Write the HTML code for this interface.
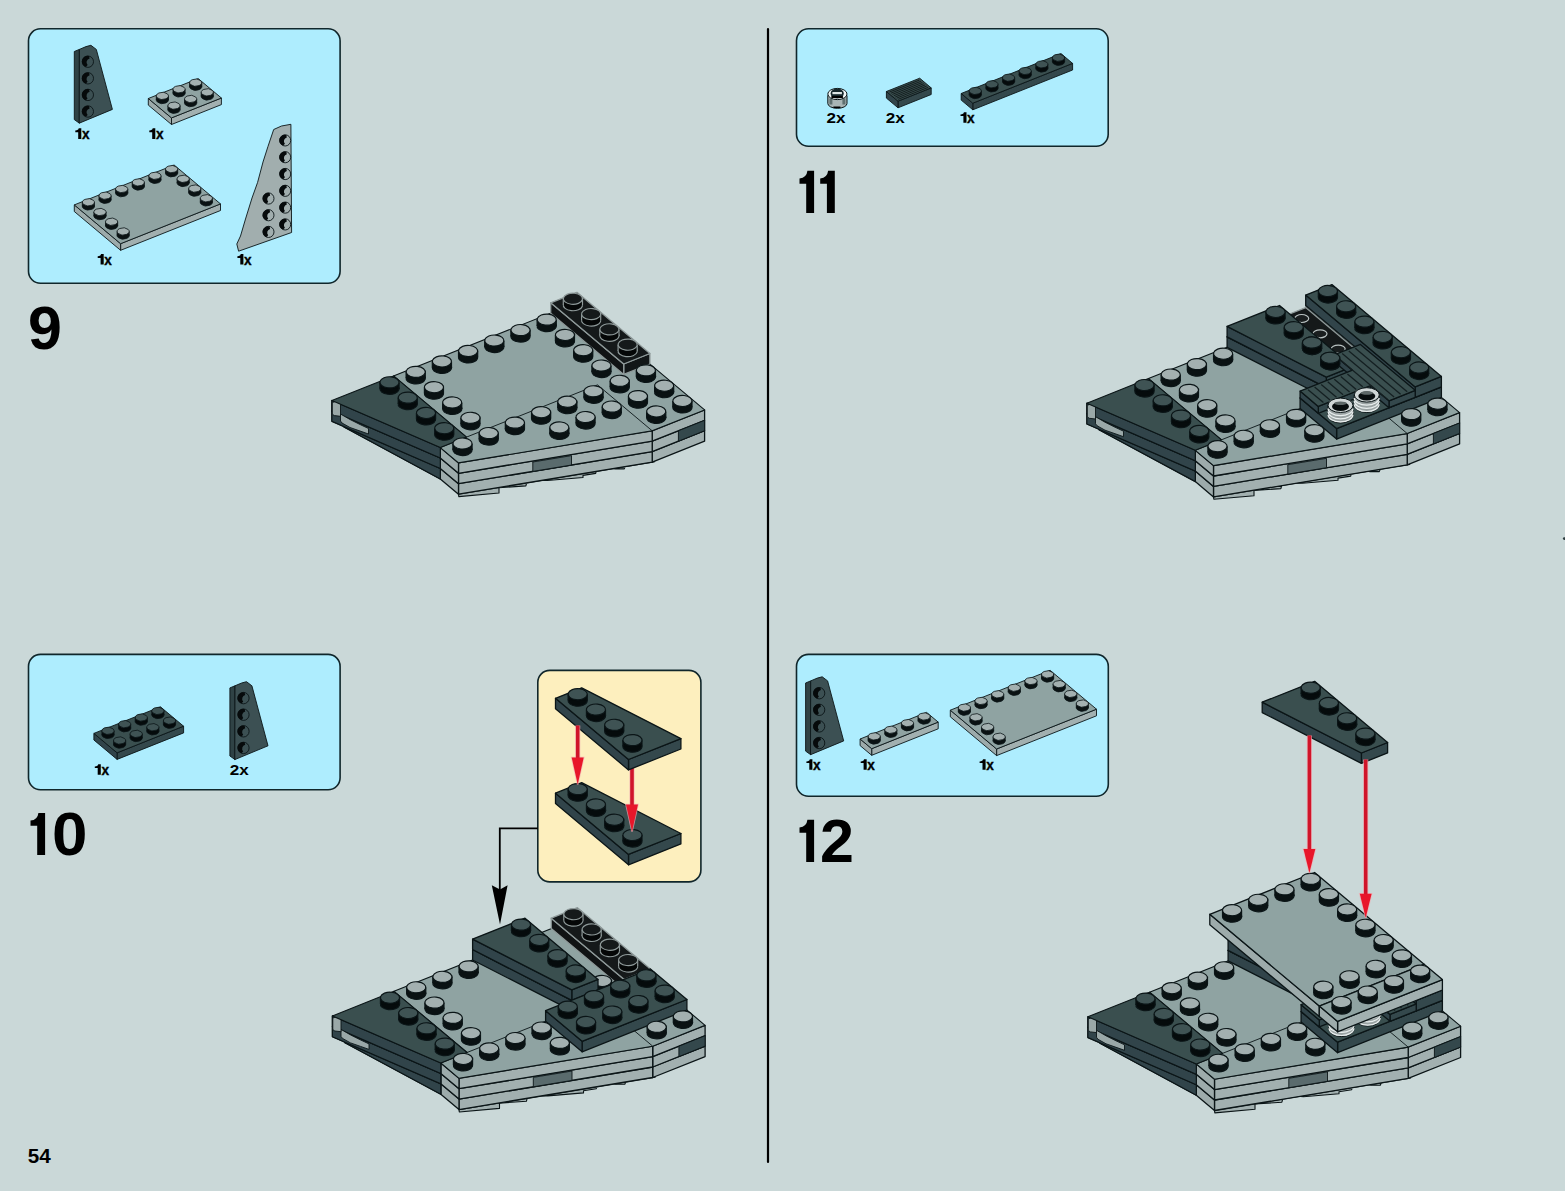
<!DOCTYPE html>
<html><head><meta charset="utf-8"><style>
html,body{margin:0;padding:0;background:#cad8d8;}
svg{display:block;}
text{font-family:"Liberation Sans",sans-serif;font-weight:bold;fill:#000;}
.lbl{font-size:14px;}
</style></head><body>
<svg width="1565" height="1191" viewBox="0 0 1565 1191">
<rect x="0" y="0" width="1565" height="1191" fill="#cad8d8"/>
<rect x="28.5" y="28.8" width="311.60" height="254.50" rx="12" ry="12" fill="#aeedfe" stroke="#10262b" stroke-width="1.6"/>
<rect x="28.5" y="654.4" width="311.60" height="135.40" rx="12" ry="12" fill="#aeedfe" stroke="#10262b" stroke-width="1.6"/>
<rect x="796.5" y="28.7" width="311.70" height="117.60" rx="12" ry="12" fill="#aeedfe" stroke="#10262b" stroke-width="1.6"/>
<rect x="796.5" y="654.4" width="311.80" height="141.90" rx="12" ry="12" fill="#aeedfe" stroke="#10262b" stroke-width="1.6"/>
<rect x="537.8" y="670.4" width="163.10" height="211.50" rx="12" ry="12" fill="#fdefbe" stroke="#10262b" stroke-width="1.6"/>
<line x1="768" y1="29" x2="768" y2="1162" stroke="#000" stroke-width="2.2" stroke-linecap="round"/>
<polyline points="537.8,828.4 499.8,828.4 499.8,895" fill="none" stroke="#000" stroke-width="1.8"/>
<polygon points="491.8,885.2 500,889.6 507.6,885.2 500,924.5" fill="#000"/>
<text x="28" y="349" font-size="61" text-anchor="start" class="big">9</text>
<path d="M814.10,170.80 L814.10,213.00 L806.20,213.00 L806.20,183.70 L799.50,183.70 L799.50,178.40 Q806.70,177.80 807.40,170.80 Z" fill="#000"/>
<path d="M834.80,170.80 L834.80,213.00 L826.90,213.00 L826.90,183.70 L820.20,183.70 L820.20,178.40 Q827.40,177.80 828.10,170.80 Z" fill="#000"/>
<path d="M45.10,812.90 L45.10,855.10 L37.20,855.10 L37.20,825.80 L30.50,825.80 L30.50,820.50 Q37.70,819.90 38.40,812.90 Z" fill="#000"/>
<text x="52" y="855.4" font-size="61" transform="translate(-2.4,0) scale(1.045,1)" class="big">0</text>
<path d="M814.10,819.80 L814.10,862.00 L806.20,862.00 L806.20,832.70 L799.50,832.70 L799.50,827.40 Q806.70,826.80 807.40,819.80 Z" fill="#000"/>
<text x="820" y="861.8" font-size="61" text-anchor="start" class="big">2</text>
<text x="27.8" y="1163.2" font-size="20.3" text-anchor="start" class="pg" textLength="23" lengthAdjust="spacingAndGlyphs">54</text>
<polygon points="652.2,462.1 654.7,461.7 644.0,463.5 627.0,462.6 624.3,468.9 615.3,468.9 597.5,466.2 595.7,473.4 583.0,475.4 583.0,477.5 547.4,480.5 527.7,478.7 525.9,485.9 499.0,487.7 499.0,493.0 458.8,496.6 458.5,494.2" fill="#a2b0b0" stroke="#0b1517" stroke-width="1.1" stroke-linejoin="round"/>
<polygon points="704.6,430.7 652.2,451.6 652.2,462.1 704.6,441.2" fill="#a2b0b0" stroke="#0b1517" stroke-width="1.3" stroke-linejoin="round"/>
<polygon points="652.2,451.6 458.5,483.7 458.5,494.2 652.2,462.1" fill="#a2b0b0" stroke="#0b1517" stroke-width="1.3" stroke-linejoin="round"/>
<polygon points="458.5,483.7 440.3,468.4 440.3,478.9 458.5,494.2" fill="#9dabab" stroke="#0b1517" stroke-width="1.3" stroke-linejoin="round"/>
<polygon points="440.3,468.4 344.0,416.5 344.0,427.0 440.3,478.9" fill="#9dabab" stroke="#0b1517" stroke-width="1.3" stroke-linejoin="round"/>
<polygon points="344.0,416.5 440.3,468.4 440.3,478.9 344.0,427.0" fill="#31444a" stroke="#0b1517" stroke-width="1.1" stroke-linejoin="round"/>
<polygon points="704.6,420.3 652.2,441.2 652.2,451.6 704.6,430.7" fill="#a2b0b0" stroke="#0b1517" stroke-width="1.3" stroke-linejoin="round"/>
<polygon points="652.2,441.2 458.5,473.3 458.5,483.7 652.2,451.6" fill="#a2b0b0" stroke="#0b1517" stroke-width="1.3" stroke-linejoin="round"/>
<polygon points="458.5,473.3 440.3,458.0 440.3,468.4 458.5,483.7" fill="#9dabab" stroke="#0b1517" stroke-width="1.3" stroke-linejoin="round"/>
<polygon points="440.3,458.0 331.9,410.9 331.9,421.3 440.3,468.4" fill="#9dabab" stroke="#0b1517" stroke-width="1.3" stroke-linejoin="round"/>
<polygon points="331.9,410.9 440.3,458.0 440.3,468.4 331.9,421.3" fill="#31444a" stroke="#0b1517" stroke-width="1.1" stroke-linejoin="round"/>
<polygon points="704.6,409.9 652.2,430.8 652.2,441.2 704.6,420.3" fill="#a2b0b0" stroke="#0b1517" stroke-width="1.3" stroke-linejoin="round"/>
<polygon points="652.2,430.8 458.5,462.9 458.5,473.3 652.2,441.2" fill="#a2b0b0" stroke="#0b1517" stroke-width="1.3" stroke-linejoin="round"/>
<polygon points="458.5,462.9 440.3,447.6 440.3,458.0 458.5,473.3" fill="#9dabab" stroke="#0b1517" stroke-width="1.3" stroke-linejoin="round"/>
<polygon points="440.3,447.6 331.9,400.5 331.9,410.9 440.3,458.0" fill="#9dabab" stroke="#0b1517" stroke-width="1.3" stroke-linejoin="round"/>
<polygon points="331.9,400.5 440.3,447.6 440.3,458.0 331.9,410.9" fill="#31444a" stroke="#0b1517" stroke-width="1.1" stroke-linejoin="round"/>
<polygon points="532.8,462.0 571.5,455.6 571.5,465.0 532.8,471.4" fill="#5a6b6d" stroke="#0b1517" stroke-width="0.9" stroke-linejoin="round"/>
<polygon points="678.4,430.8 704.6,420.3 704.6,430.7 678.4,441.2" fill="#34484c" stroke="#0b1517" stroke-width="0.9" stroke-linejoin="round"/>
<polygon points="340.5,414.0 350.0,419.5 360.0,424.5 368.5,428.5 368.5,434.0 360.0,431.0 350.0,427.5 342.0,423.0 340.5,421.0" fill="#9aa8a8" stroke="#0b1517" stroke-width="0.9" stroke-linejoin="round"/>
<polygon points="332.3,402.6 336.0,401.2 340.5,403.5 340.5,416.3 334.3,415.6 332.3,414.2" fill="#9aa8a8" stroke="#0b1517" stroke-width="0.9" stroke-linejoin="round"/>
<polygon points="393.5,375.9 576.9,302.8 704.6,409.9 652.2,430.8 458.5,462.9 440.3,447.6 466.5,437.1" fill="#8fa3a2" stroke="#0b1517" stroke-width="1.1" stroke-linejoin="round"/>
<polygon points="331.9,400.5 393.5,375.9 466.5,437.1 440.3,447.6" fill="#3a4f4f" stroke="#0b1517" stroke-width="1.1" stroke-linejoin="round"/>
<line x1="466.5" y1="437.1" x2="597.5" y2="384.9" stroke="#0b1517" stroke-width="0.9"/>
<line x1="597.5" y1="384.9" x2="652.2" y2="430.8" stroke="#0b1517" stroke-width="0.9"/>
<circle r="1" transform="matrix(7.860,-3.135,5.475,4.590,389.50,388.80)" fill="#050b0c" stroke="#0b1517" stroke-width="1.1700000000000002" vector-effect="non-scaling-stroke"/>
<polygon points="379.9,382.3 399.1,382.4 399.1,388.9 379.9,388.7" fill="#050b0c"/>
<line x1="399.1" y1="382.4" x2="399.1" y2="388.9" stroke="#0b1517" stroke-width="1.1700000000000002"/>
<line x1="379.9" y1="382.3" x2="379.9" y2="388.7" stroke="#0b1517" stroke-width="1.1700000000000002"/>
<circle r="1" transform="matrix(7.860,-3.135,5.475,4.590,389.50,382.33)" fill="#3f5354" stroke="#0b1517" stroke-width="1.1700000000000002" vector-effect="non-scaling-stroke"/>
<circle r="1" transform="matrix(7.860,-3.135,5.475,4.590,407.75,404.10)" fill="#050b0c" stroke="#0b1517" stroke-width="1.1700000000000002" vector-effect="non-scaling-stroke"/>
<polygon points="398.2,397.6 417.3,397.7 417.3,404.2 398.2,404.0" fill="#050b0c"/>
<line x1="417.3" y1="397.7" x2="417.3" y2="404.2" stroke="#0b1517" stroke-width="1.1700000000000002"/>
<line x1="398.2" y1="397.6" x2="398.2" y2="404.0" stroke="#0b1517" stroke-width="1.1700000000000002"/>
<circle r="1" transform="matrix(7.860,-3.135,5.475,4.590,407.75,397.63)" fill="#3f5354" stroke="#0b1517" stroke-width="1.1700000000000002" vector-effect="non-scaling-stroke"/>
<circle r="1" transform="matrix(7.860,-3.135,5.475,4.590,426.00,419.40)" fill="#050b0c" stroke="#0b1517" stroke-width="1.1700000000000002" vector-effect="non-scaling-stroke"/>
<polygon points="416.4,412.9 435.6,413.0 435.6,419.5 416.4,419.3" fill="#050b0c"/>
<line x1="435.6" y1="413.0" x2="435.6" y2="419.5" stroke="#0b1517" stroke-width="1.1700000000000002"/>
<line x1="416.4" y1="412.9" x2="416.4" y2="419.3" stroke="#0b1517" stroke-width="1.1700000000000002"/>
<circle r="1" transform="matrix(7.860,-3.135,5.475,4.590,426.00,412.93)" fill="#3f5354" stroke="#0b1517" stroke-width="1.1700000000000002" vector-effect="non-scaling-stroke"/>
<circle r="1" transform="matrix(7.860,-3.135,5.475,4.590,444.25,434.70)" fill="#050b0c" stroke="#0b1517" stroke-width="1.1700000000000002" vector-effect="non-scaling-stroke"/>
<polygon points="434.7,428.2 453.8,428.3 453.8,434.8 434.7,434.6" fill="#050b0c"/>
<line x1="453.8" y1="428.3" x2="453.8" y2="434.8" stroke="#0b1517" stroke-width="1.1700000000000002"/>
<line x1="434.7" y1="428.2" x2="434.7" y2="434.6" stroke="#0b1517" stroke-width="1.1700000000000002"/>
<circle r="1" transform="matrix(7.860,-3.135,5.475,4.590,444.25,428.23)" fill="#3f5354" stroke="#0b1517" stroke-width="1.1700000000000002" vector-effect="non-scaling-stroke"/>
<polygon points="649.9,353.5 623.7,364.0 623.7,374.4 649.9,364.0" fill="#121617" stroke="#8f9a9a" stroke-width="1.3" stroke-linejoin="round"/>
<polygon points="623.7,364.0 550.7,302.8 550.7,313.2 623.7,374.4" fill="#101314" stroke="#8f9a9a" stroke-width="1.3" stroke-linejoin="round"/>
<polygon points="550.7,302.8 576.9,292.3 649.9,353.5 623.7,364.0" fill="#15191a" stroke="#8f9a9a" stroke-width="1.3" stroke-linejoin="round"/>
<circle r="1" transform="matrix(7.860,-3.135,5.475,4.590,572.90,305.22)" fill="#050707" stroke="#8f9a9a" stroke-width="1.1700000000000002" vector-effect="non-scaling-stroke"/>
<polygon points="563.3,298.7 582.5,298.8 582.5,305.3 563.3,305.2" fill="#050707"/>
<line x1="582.5" y1="298.8" x2="582.5" y2="305.3" stroke="#8f9a9a" stroke-width="1.1700000000000002"/>
<line x1="563.3" y1="298.7" x2="563.3" y2="305.2" stroke="#8f9a9a" stroke-width="1.1700000000000002"/>
<circle r="1" transform="matrix(7.860,-3.135,5.475,4.590,572.90,298.75)" fill="#15191a" stroke="#8f9a9a" stroke-width="1.1700000000000002" vector-effect="non-scaling-stroke"/>
<circle r="1" transform="matrix(7.860,-3.135,5.475,4.590,591.15,320.52)" fill="#050707" stroke="#8f9a9a" stroke-width="1.1700000000000002" vector-effect="non-scaling-stroke"/>
<polygon points="581.6,314.0 600.7,314.1 600.7,320.6 581.6,320.5" fill="#050707"/>
<line x1="600.7" y1="314.1" x2="600.7" y2="320.6" stroke="#8f9a9a" stroke-width="1.1700000000000002"/>
<line x1="581.6" y1="314.0" x2="581.6" y2="320.5" stroke="#8f9a9a" stroke-width="1.1700000000000002"/>
<circle r="1" transform="matrix(7.860,-3.135,5.475,4.590,591.15,314.05)" fill="#15191a" stroke="#8f9a9a" stroke-width="1.1700000000000002" vector-effect="non-scaling-stroke"/>
<circle r="1" transform="matrix(7.860,-3.135,5.475,4.590,609.40,335.82)" fill="#050707" stroke="#8f9a9a" stroke-width="1.1700000000000002" vector-effect="non-scaling-stroke"/>
<polygon points="599.8,329.3 619.0,329.4 619.0,335.9 599.8,335.8" fill="#050707"/>
<line x1="619.0" y1="329.4" x2="619.0" y2="335.9" stroke="#8f9a9a" stroke-width="1.1700000000000002"/>
<line x1="599.8" y1="329.3" x2="599.8" y2="335.8" stroke="#8f9a9a" stroke-width="1.1700000000000002"/>
<circle r="1" transform="matrix(7.860,-3.135,5.475,4.590,609.40,329.35)" fill="#15191a" stroke="#8f9a9a" stroke-width="1.1700000000000002" vector-effect="non-scaling-stroke"/>
<circle r="1" transform="matrix(7.860,-3.135,5.475,4.590,627.65,351.12)" fill="#050707" stroke="#8f9a9a" stroke-width="1.1700000000000002" vector-effect="non-scaling-stroke"/>
<polygon points="618.1,344.6 637.2,344.7 637.2,351.2 618.1,351.1" fill="#050707"/>
<line x1="637.2" y1="344.7" x2="637.2" y2="351.2" stroke="#8f9a9a" stroke-width="1.1700000000000002"/>
<line x1="618.1" y1="344.6" x2="618.1" y2="351.1" stroke="#8f9a9a" stroke-width="1.1700000000000002"/>
<circle r="1" transform="matrix(7.860,-3.135,5.475,4.590,627.65,344.65)" fill="#15191a" stroke="#8f9a9a" stroke-width="1.1700000000000002" vector-effect="non-scaling-stroke"/>
<circle r="1" transform="matrix(7.860,-3.135,5.475,4.590,546.70,326.10)" fill="#0a1213" stroke="#0b1517" stroke-width="1.1700000000000002" vector-effect="non-scaling-stroke"/>
<polygon points="537.1,319.6 556.3,319.7 556.3,326.2 537.1,326.0" fill="#0a1213"/>
<line x1="556.3" y1="319.7" x2="556.3" y2="326.2" stroke="#0b1517" stroke-width="1.1700000000000002"/>
<line x1="537.1" y1="319.6" x2="537.1" y2="326.0" stroke="#0b1517" stroke-width="1.1700000000000002"/>
<circle r="1" transform="matrix(7.860,-3.135,5.475,4.590,546.70,319.63)" fill="#a3b0b0" stroke="#0b1517" stroke-width="1.1700000000000002" vector-effect="non-scaling-stroke"/>
<circle r="1" transform="matrix(7.860,-3.135,5.475,4.590,520.50,336.55)" fill="#0a1213" stroke="#0b1517" stroke-width="1.1700000000000002" vector-effect="non-scaling-stroke"/>
<polygon points="510.9,330.0 530.1,330.1 530.1,336.6 510.9,336.5" fill="#0a1213"/>
<line x1="530.1" y1="330.1" x2="530.1" y2="336.6" stroke="#0b1517" stroke-width="1.1700000000000002"/>
<line x1="510.9" y1="330.0" x2="510.9" y2="336.5" stroke="#0b1517" stroke-width="1.1700000000000002"/>
<circle r="1" transform="matrix(7.860,-3.135,5.475,4.590,520.50,330.08)" fill="#a3b0b0" stroke="#0b1517" stroke-width="1.1700000000000002" vector-effect="non-scaling-stroke"/>
<circle r="1" transform="matrix(7.860,-3.135,5.475,4.590,564.95,341.40)" fill="#0a1213" stroke="#0b1517" stroke-width="1.1700000000000002" vector-effect="non-scaling-stroke"/>
<polygon points="555.4,334.9 574.5,335.0 574.5,341.5 555.4,341.3" fill="#0a1213"/>
<line x1="574.5" y1="335.0" x2="574.5" y2="341.5" stroke="#0b1517" stroke-width="1.1700000000000002"/>
<line x1="555.4" y1="334.9" x2="555.4" y2="341.3" stroke="#0b1517" stroke-width="1.1700000000000002"/>
<circle r="1" transform="matrix(7.860,-3.135,5.475,4.590,564.95,334.93)" fill="#a3b0b0" stroke="#0b1517" stroke-width="1.1700000000000002" vector-effect="non-scaling-stroke"/>
<circle r="1" transform="matrix(7.860,-3.135,5.475,4.590,494.30,347.00)" fill="#0a1213" stroke="#0b1517" stroke-width="1.1700000000000002" vector-effect="non-scaling-stroke"/>
<polygon points="484.7,340.5 503.9,340.6 503.9,347.1 484.7,346.9" fill="#0a1213"/>
<line x1="503.9" y1="340.6" x2="503.9" y2="347.1" stroke="#0b1517" stroke-width="1.1700000000000002"/>
<line x1="484.7" y1="340.5" x2="484.7" y2="346.9" stroke="#0b1517" stroke-width="1.1700000000000002"/>
<circle r="1" transform="matrix(7.860,-3.135,5.475,4.590,494.30,340.53)" fill="#a3b0b0" stroke="#0b1517" stroke-width="1.1700000000000002" vector-effect="non-scaling-stroke"/>
<circle r="1" transform="matrix(7.860,-3.135,5.475,4.590,583.20,356.70)" fill="#0a1213" stroke="#0b1517" stroke-width="1.1700000000000002" vector-effect="non-scaling-stroke"/>
<polygon points="573.6,350.2 592.8,350.3 592.8,356.8 573.6,356.6" fill="#0a1213"/>
<line x1="592.8" y1="350.3" x2="592.8" y2="356.8" stroke="#0b1517" stroke-width="1.1700000000000002"/>
<line x1="573.6" y1="350.2" x2="573.6" y2="356.6" stroke="#0b1517" stroke-width="1.1700000000000002"/>
<circle r="1" transform="matrix(7.860,-3.135,5.475,4.590,583.20,350.23)" fill="#a3b0b0" stroke="#0b1517" stroke-width="1.1700000000000002" vector-effect="non-scaling-stroke"/>
<circle r="1" transform="matrix(7.860,-3.135,5.475,4.590,468.10,357.45)" fill="#0a1213" stroke="#0b1517" stroke-width="1.1700000000000002" vector-effect="non-scaling-stroke"/>
<polygon points="458.5,350.9 477.7,351.0 477.7,357.5 458.5,357.4" fill="#0a1213"/>
<line x1="477.7" y1="351.0" x2="477.7" y2="357.5" stroke="#0b1517" stroke-width="1.1700000000000002"/>
<line x1="458.5" y1="350.9" x2="458.5" y2="357.4" stroke="#0b1517" stroke-width="1.1700000000000002"/>
<circle r="1" transform="matrix(7.860,-3.135,5.475,4.590,468.10,350.98)" fill="#a3b0b0" stroke="#0b1517" stroke-width="1.1700000000000002" vector-effect="non-scaling-stroke"/>
<circle r="1" transform="matrix(7.860,-3.135,5.475,4.590,441.90,367.90)" fill="#0a1213" stroke="#0b1517" stroke-width="1.1700000000000002" vector-effect="non-scaling-stroke"/>
<polygon points="432.3,361.4 451.5,361.5 451.5,368.0 432.3,367.8" fill="#0a1213"/>
<line x1="451.5" y1="361.5" x2="451.5" y2="368.0" stroke="#0b1517" stroke-width="1.1700000000000002"/>
<line x1="432.3" y1="361.4" x2="432.3" y2="367.8" stroke="#0b1517" stroke-width="1.1700000000000002"/>
<circle r="1" transform="matrix(7.860,-3.135,5.475,4.590,441.90,361.43)" fill="#a3b0b0" stroke="#0b1517" stroke-width="1.1700000000000002" vector-effect="non-scaling-stroke"/>
<circle r="1" transform="matrix(7.860,-3.135,5.475,4.590,601.45,372.00)" fill="#0a1213" stroke="#0b1517" stroke-width="1.1700000000000002" vector-effect="non-scaling-stroke"/>
<polygon points="591.9,365.5 611.0,365.6 611.0,372.1 591.9,371.9" fill="#0a1213"/>
<line x1="611.0" y1="365.6" x2="611.0" y2="372.1" stroke="#0b1517" stroke-width="1.1700000000000002"/>
<line x1="591.9" y1="365.5" x2="591.9" y2="371.9" stroke="#0b1517" stroke-width="1.1700000000000002"/>
<circle r="1" transform="matrix(7.860,-3.135,5.475,4.590,601.45,365.53)" fill="#a3b0b0" stroke="#0b1517" stroke-width="1.1700000000000002" vector-effect="non-scaling-stroke"/>
<circle r="1" transform="matrix(7.860,-3.135,5.475,4.590,645.90,376.85)" fill="#0a1213" stroke="#0b1517" stroke-width="1.1700000000000002" vector-effect="non-scaling-stroke"/>
<polygon points="636.3,370.3 655.5,370.4 655.5,376.9 636.3,376.8" fill="#0a1213"/>
<line x1="655.5" y1="370.4" x2="655.5" y2="376.9" stroke="#0b1517" stroke-width="1.1700000000000002"/>
<line x1="636.3" y1="370.3" x2="636.3" y2="376.8" stroke="#0b1517" stroke-width="1.1700000000000002"/>
<circle r="1" transform="matrix(7.860,-3.135,5.475,4.590,645.90,370.38)" fill="#a3b0b0" stroke="#0b1517" stroke-width="1.1700000000000002" vector-effect="non-scaling-stroke"/>
<circle r="1" transform="matrix(7.860,-3.135,5.475,4.590,415.70,378.35)" fill="#0a1213" stroke="#0b1517" stroke-width="1.1700000000000002" vector-effect="non-scaling-stroke"/>
<polygon points="406.1,371.8 425.3,371.9 425.3,378.4 406.1,378.3" fill="#0a1213"/>
<line x1="425.3" y1="371.9" x2="425.3" y2="378.4" stroke="#0b1517" stroke-width="1.1700000000000002"/>
<line x1="406.1" y1="371.8" x2="406.1" y2="378.3" stroke="#0b1517" stroke-width="1.1700000000000002"/>
<circle r="1" transform="matrix(7.860,-3.135,5.475,4.590,415.70,371.88)" fill="#a3b0b0" stroke="#0b1517" stroke-width="1.1700000000000002" vector-effect="non-scaling-stroke"/>
<circle r="1" transform="matrix(7.860,-3.135,5.475,4.590,619.70,387.30)" fill="#0a1213" stroke="#0b1517" stroke-width="1.1700000000000002" vector-effect="non-scaling-stroke"/>
<polygon points="610.1,380.8 629.3,380.9 629.3,387.4 610.1,387.2" fill="#0a1213"/>
<line x1="629.3" y1="380.9" x2="629.3" y2="387.4" stroke="#0b1517" stroke-width="1.1700000000000002"/>
<line x1="610.1" y1="380.8" x2="610.1" y2="387.2" stroke="#0b1517" stroke-width="1.1700000000000002"/>
<circle r="1" transform="matrix(7.860,-3.135,5.475,4.590,619.70,380.83)" fill="#a3b0b0" stroke="#0b1517" stroke-width="1.1700000000000002" vector-effect="non-scaling-stroke"/>
<circle r="1" transform="matrix(7.860,-3.135,5.475,4.590,664.15,392.15)" fill="#0a1213" stroke="#0b1517" stroke-width="1.1700000000000002" vector-effect="non-scaling-stroke"/>
<polygon points="654.6,385.6 673.7,385.7 673.7,392.2 654.6,392.1" fill="#0a1213"/>
<line x1="673.7" y1="385.7" x2="673.7" y2="392.2" stroke="#0b1517" stroke-width="1.1700000000000002"/>
<line x1="654.6" y1="385.6" x2="654.6" y2="392.1" stroke="#0b1517" stroke-width="1.1700000000000002"/>
<circle r="1" transform="matrix(7.860,-3.135,5.475,4.590,664.15,385.68)" fill="#a3b0b0" stroke="#0b1517" stroke-width="1.1700000000000002" vector-effect="non-scaling-stroke"/>
<circle r="1" transform="matrix(7.860,-3.135,5.475,4.590,433.95,393.65)" fill="#0a1213" stroke="#0b1517" stroke-width="1.1700000000000002" vector-effect="non-scaling-stroke"/>
<polygon points="424.4,387.1 443.5,387.2 443.5,393.7 424.4,393.6" fill="#0a1213"/>
<line x1="443.5" y1="387.2" x2="443.5" y2="393.7" stroke="#0b1517" stroke-width="1.1700000000000002"/>
<line x1="424.4" y1="387.1" x2="424.4" y2="393.6" stroke="#0b1517" stroke-width="1.1700000000000002"/>
<circle r="1" transform="matrix(7.860,-3.135,5.475,4.590,433.95,387.18)" fill="#a3b0b0" stroke="#0b1517" stroke-width="1.1700000000000002" vector-effect="non-scaling-stroke"/>
<circle r="1" transform="matrix(7.860,-3.135,5.475,4.590,593.50,397.75)" fill="#0a1213" stroke="#0b1517" stroke-width="1.1700000000000002" vector-effect="non-scaling-stroke"/>
<polygon points="583.9,391.2 603.1,391.3 603.1,397.8 583.9,397.7" fill="#0a1213"/>
<line x1="603.1" y1="391.3" x2="603.1" y2="397.8" stroke="#0b1517" stroke-width="1.1700000000000002"/>
<line x1="583.9" y1="391.2" x2="583.9" y2="397.7" stroke="#0b1517" stroke-width="1.1700000000000002"/>
<circle r="1" transform="matrix(7.860,-3.135,5.475,4.590,593.50,391.28)" fill="#a3b0b0" stroke="#0b1517" stroke-width="1.1700000000000002" vector-effect="non-scaling-stroke"/>
<circle r="1" transform="matrix(7.860,-3.135,5.475,4.590,637.95,402.60)" fill="#0a1213" stroke="#0b1517" stroke-width="1.1700000000000002" vector-effect="non-scaling-stroke"/>
<polygon points="628.4,396.1 647.5,396.2 647.5,402.7 628.4,402.5" fill="#0a1213"/>
<line x1="647.5" y1="396.2" x2="647.5" y2="402.7" stroke="#0b1517" stroke-width="1.1700000000000002"/>
<line x1="628.4" y1="396.1" x2="628.4" y2="402.5" stroke="#0b1517" stroke-width="1.1700000000000002"/>
<circle r="1" transform="matrix(7.860,-3.135,5.475,4.590,637.95,396.13)" fill="#a3b0b0" stroke="#0b1517" stroke-width="1.1700000000000002" vector-effect="non-scaling-stroke"/>
<circle r="1" transform="matrix(7.860,-3.135,5.475,4.590,682.40,407.45)" fill="#0a1213" stroke="#0b1517" stroke-width="1.1700000000000002" vector-effect="non-scaling-stroke"/>
<polygon points="672.8,400.9 692.0,401.0 692.0,407.5 672.8,407.4" fill="#0a1213"/>
<line x1="692.0" y1="401.0" x2="692.0" y2="407.5" stroke="#0b1517" stroke-width="1.1700000000000002"/>
<line x1="672.8" y1="400.9" x2="672.8" y2="407.4" stroke="#0b1517" stroke-width="1.1700000000000002"/>
<circle r="1" transform="matrix(7.860,-3.135,5.475,4.590,682.40,400.98)" fill="#a3b0b0" stroke="#0b1517" stroke-width="1.1700000000000002" vector-effect="non-scaling-stroke"/>
<circle r="1" transform="matrix(7.860,-3.135,5.475,4.590,567.30,408.20)" fill="#0a1213" stroke="#0b1517" stroke-width="1.1700000000000002" vector-effect="non-scaling-stroke"/>
<polygon points="557.7,401.7 576.9,401.8 576.9,408.3 557.7,408.1" fill="#0a1213"/>
<line x1="576.9" y1="401.8" x2="576.9" y2="408.3" stroke="#0b1517" stroke-width="1.1700000000000002"/>
<line x1="557.7" y1="401.7" x2="557.7" y2="408.1" stroke="#0b1517" stroke-width="1.1700000000000002"/>
<circle r="1" transform="matrix(7.860,-3.135,5.475,4.590,567.30,401.73)" fill="#a3b0b0" stroke="#0b1517" stroke-width="1.1700000000000002" vector-effect="non-scaling-stroke"/>
<circle r="1" transform="matrix(7.860,-3.135,5.475,4.590,452.20,408.95)" fill="#0a1213" stroke="#0b1517" stroke-width="1.1700000000000002" vector-effect="non-scaling-stroke"/>
<polygon points="442.6,402.4 461.8,402.5 461.8,409.0 442.6,408.9" fill="#0a1213"/>
<line x1="461.8" y1="402.5" x2="461.8" y2="409.0" stroke="#0b1517" stroke-width="1.1700000000000002"/>
<line x1="442.6" y1="402.4" x2="442.6" y2="408.9" stroke="#0b1517" stroke-width="1.1700000000000002"/>
<circle r="1" transform="matrix(7.860,-3.135,5.475,4.590,452.20,402.48)" fill="#a3b0b0" stroke="#0b1517" stroke-width="1.1700000000000002" vector-effect="non-scaling-stroke"/>
<circle r="1" transform="matrix(7.860,-3.135,5.475,4.590,611.75,413.05)" fill="#0a1213" stroke="#0b1517" stroke-width="1.1700000000000002" vector-effect="non-scaling-stroke"/>
<polygon points="602.2,406.5 621.3,406.6 621.3,413.1 602.2,413.0" fill="#0a1213"/>
<line x1="621.3" y1="406.6" x2="621.3" y2="413.1" stroke="#0b1517" stroke-width="1.1700000000000002"/>
<line x1="602.2" y1="406.5" x2="602.2" y2="413.0" stroke="#0b1517" stroke-width="1.1700000000000002"/>
<circle r="1" transform="matrix(7.860,-3.135,5.475,4.590,611.75,406.58)" fill="#a3b0b0" stroke="#0b1517" stroke-width="1.1700000000000002" vector-effect="non-scaling-stroke"/>
<circle r="1" transform="matrix(7.860,-3.135,5.475,4.590,656.20,417.90)" fill="#0a1213" stroke="#0b1517" stroke-width="1.1700000000000002" vector-effect="non-scaling-stroke"/>
<polygon points="646.6,411.4 665.8,411.5 665.8,418.0 646.6,417.8" fill="#0a1213"/>
<line x1="665.8" y1="411.5" x2="665.8" y2="418.0" stroke="#0b1517" stroke-width="1.1700000000000002"/>
<line x1="646.6" y1="411.4" x2="646.6" y2="417.8" stroke="#0b1517" stroke-width="1.1700000000000002"/>
<circle r="1" transform="matrix(7.860,-3.135,5.475,4.590,656.20,411.43)" fill="#a3b0b0" stroke="#0b1517" stroke-width="1.1700000000000002" vector-effect="non-scaling-stroke"/>
<circle r="1" transform="matrix(7.860,-3.135,5.475,4.590,541.10,418.65)" fill="#0a1213" stroke="#0b1517" stroke-width="1.1700000000000002" vector-effect="non-scaling-stroke"/>
<polygon points="531.5,412.1 550.7,412.2 550.7,418.7 531.5,418.6" fill="#0a1213"/>
<line x1="550.7" y1="412.2" x2="550.7" y2="418.7" stroke="#0b1517" stroke-width="1.1700000000000002"/>
<line x1="531.5" y1="412.1" x2="531.5" y2="418.6" stroke="#0b1517" stroke-width="1.1700000000000002"/>
<circle r="1" transform="matrix(7.860,-3.135,5.475,4.590,541.10,412.18)" fill="#a3b0b0" stroke="#0b1517" stroke-width="1.1700000000000002" vector-effect="non-scaling-stroke"/>
<circle r="1" transform="matrix(7.860,-3.135,5.475,4.590,585.55,423.50)" fill="#0a1213" stroke="#0b1517" stroke-width="1.1700000000000002" vector-effect="non-scaling-stroke"/>
<polygon points="576.0,417.0 595.1,417.1 595.1,423.6 576.0,423.4" fill="#0a1213"/>
<line x1="595.1" y1="417.1" x2="595.1" y2="423.6" stroke="#0b1517" stroke-width="1.1700000000000002"/>
<line x1="576.0" y1="417.0" x2="576.0" y2="423.4" stroke="#0b1517" stroke-width="1.1700000000000002"/>
<circle r="1" transform="matrix(7.860,-3.135,5.475,4.590,585.55,417.03)" fill="#a3b0b0" stroke="#0b1517" stroke-width="1.1700000000000002" vector-effect="non-scaling-stroke"/>
<circle r="1" transform="matrix(7.860,-3.135,5.475,4.590,470.45,424.25)" fill="#0a1213" stroke="#0b1517" stroke-width="1.1700000000000002" vector-effect="non-scaling-stroke"/>
<polygon points="460.9,417.7 480.0,417.8 480.0,424.3 460.9,424.2" fill="#0a1213"/>
<line x1="480.0" y1="417.8" x2="480.0" y2="424.3" stroke="#0b1517" stroke-width="1.1700000000000002"/>
<line x1="460.9" y1="417.7" x2="460.9" y2="424.2" stroke="#0b1517" stroke-width="1.1700000000000002"/>
<circle r="1" transform="matrix(7.860,-3.135,5.475,4.590,470.45,417.78)" fill="#a3b0b0" stroke="#0b1517" stroke-width="1.1700000000000002" vector-effect="non-scaling-stroke"/>
<circle r="1" transform="matrix(7.860,-3.135,5.475,4.590,514.90,429.10)" fill="#0a1213" stroke="#0b1517" stroke-width="1.1700000000000002" vector-effect="non-scaling-stroke"/>
<polygon points="505.3,422.6 524.5,422.7 524.5,429.2 505.3,429.0" fill="#0a1213"/>
<line x1="524.5" y1="422.7" x2="524.5" y2="429.2" stroke="#0b1517" stroke-width="1.1700000000000002"/>
<line x1="505.3" y1="422.6" x2="505.3" y2="429.0" stroke="#0b1517" stroke-width="1.1700000000000002"/>
<circle r="1" transform="matrix(7.860,-3.135,5.475,4.590,514.90,422.63)" fill="#a3b0b0" stroke="#0b1517" stroke-width="1.1700000000000002" vector-effect="non-scaling-stroke"/>
<circle r="1" transform="matrix(7.860,-3.135,5.475,4.590,559.35,433.95)" fill="#0a1213" stroke="#0b1517" stroke-width="1.1700000000000002" vector-effect="non-scaling-stroke"/>
<polygon points="549.8,427.4 568.9,427.5 568.9,434.0 549.8,433.9" fill="#0a1213"/>
<line x1="568.9" y1="427.5" x2="568.9" y2="434.0" stroke="#0b1517" stroke-width="1.1700000000000002"/>
<line x1="549.8" y1="427.4" x2="549.8" y2="433.9" stroke="#0b1517" stroke-width="1.1700000000000002"/>
<circle r="1" transform="matrix(7.860,-3.135,5.475,4.590,559.35,427.48)" fill="#a3b0b0" stroke="#0b1517" stroke-width="1.1700000000000002" vector-effect="non-scaling-stroke"/>
<circle r="1" transform="matrix(7.860,-3.135,5.475,4.590,488.70,439.55)" fill="#0a1213" stroke="#0b1517" stroke-width="1.1700000000000002" vector-effect="non-scaling-stroke"/>
<polygon points="479.1,433.0 498.3,433.1 498.3,439.6 479.1,439.5" fill="#0a1213"/>
<line x1="498.3" y1="433.1" x2="498.3" y2="439.6" stroke="#0b1517" stroke-width="1.1700000000000002"/>
<line x1="479.1" y1="433.0" x2="479.1" y2="439.5" stroke="#0b1517" stroke-width="1.1700000000000002"/>
<circle r="1" transform="matrix(7.860,-3.135,5.475,4.590,488.70,433.08)" fill="#a3b0b0" stroke="#0b1517" stroke-width="1.1700000000000002" vector-effect="non-scaling-stroke"/>
<circle r="1" transform="matrix(7.860,-3.135,5.475,4.590,462.50,450.00)" fill="#0a1213" stroke="#0b1517" stroke-width="1.1700000000000002" vector-effect="non-scaling-stroke"/>
<polygon points="452.9,443.5 472.1,443.6 472.1,450.1 452.9,449.9" fill="#0a1213"/>
<line x1="472.1" y1="443.6" x2="472.1" y2="450.1" stroke="#0b1517" stroke-width="1.1700000000000002"/>
<line x1="452.9" y1="443.5" x2="452.9" y2="449.9" stroke="#0b1517" stroke-width="1.1700000000000002"/>
<circle r="1" transform="matrix(7.860,-3.135,5.475,4.590,462.50,443.53)" fill="#a3b0b0" stroke="#0b1517" stroke-width="1.1700000000000002" vector-effect="non-scaling-stroke"/>
<polygon points="652.7,1077.5 655.2,1077.1 644.5,1078.9 627.5,1078.0 624.8,1084.3 615.8,1084.3 598.0,1081.6 596.2,1088.8 583.5,1090.8 583.5,1092.9 547.9,1095.9 528.2,1094.1 526.4,1101.3 499.5,1103.1 499.5,1108.4 459.3,1112.0 459.0,1109.6" fill="#a2b0b0" stroke="#0b1517" stroke-width="1.1" stroke-linejoin="round"/>
<polygon points="705.1,1046.1 652.7,1067.0 652.7,1077.5 705.1,1056.6" fill="#a2b0b0" stroke="#0b1517" stroke-width="1.3" stroke-linejoin="round"/>
<polygon points="652.7,1067.0 459.0,1099.1 459.0,1109.6 652.7,1077.5" fill="#a2b0b0" stroke="#0b1517" stroke-width="1.3" stroke-linejoin="round"/>
<polygon points="459.0,1099.1 440.8,1083.8 440.8,1094.3 459.0,1109.6" fill="#9dabab" stroke="#0b1517" stroke-width="1.3" stroke-linejoin="round"/>
<polygon points="440.8,1083.8 344.5,1031.9 344.5,1042.4 440.8,1094.3" fill="#9dabab" stroke="#0b1517" stroke-width="1.3" stroke-linejoin="round"/>
<polygon points="344.5,1031.9 440.8,1083.8 440.8,1094.3 344.5,1042.4" fill="#31444a" stroke="#0b1517" stroke-width="1.1" stroke-linejoin="round"/>
<polygon points="705.1,1035.7 652.7,1056.6 652.7,1067.0 705.1,1046.1" fill="#a2b0b0" stroke="#0b1517" stroke-width="1.3" stroke-linejoin="round"/>
<polygon points="652.7,1056.6 459.0,1088.7 459.0,1099.1 652.7,1067.0" fill="#a2b0b0" stroke="#0b1517" stroke-width="1.3" stroke-linejoin="round"/>
<polygon points="459.0,1088.7 440.8,1073.4 440.8,1083.8 459.0,1099.1" fill="#9dabab" stroke="#0b1517" stroke-width="1.3" stroke-linejoin="round"/>
<polygon points="440.8,1073.4 332.4,1026.3 332.4,1036.7 440.8,1083.8" fill="#9dabab" stroke="#0b1517" stroke-width="1.3" stroke-linejoin="round"/>
<polygon points="332.4,1026.3 440.8,1073.4 440.8,1083.8 332.4,1036.7" fill="#31444a" stroke="#0b1517" stroke-width="1.1" stroke-linejoin="round"/>
<polygon points="705.1,1025.3 652.7,1046.2 652.7,1056.6 705.1,1035.7" fill="#a2b0b0" stroke="#0b1517" stroke-width="1.3" stroke-linejoin="round"/>
<polygon points="652.7,1046.2 459.0,1078.3 459.0,1088.7 652.7,1056.6" fill="#a2b0b0" stroke="#0b1517" stroke-width="1.3" stroke-linejoin="round"/>
<polygon points="459.0,1078.3 440.8,1063.0 440.8,1073.4 459.0,1088.7" fill="#9dabab" stroke="#0b1517" stroke-width="1.3" stroke-linejoin="round"/>
<polygon points="440.8,1063.0 332.4,1015.9 332.4,1026.3 440.8,1073.4" fill="#9dabab" stroke="#0b1517" stroke-width="1.3" stroke-linejoin="round"/>
<polygon points="332.4,1015.9 440.8,1063.0 440.8,1073.4 332.4,1026.3" fill="#31444a" stroke="#0b1517" stroke-width="1.1" stroke-linejoin="round"/>
<polygon points="533.3,1077.4 572.0,1071.0 572.0,1080.4 533.3,1086.8" fill="#5a6b6d" stroke="#0b1517" stroke-width="0.9" stroke-linejoin="round"/>
<polygon points="678.9,1046.2 705.1,1035.7 705.1,1046.1 678.9,1056.6" fill="#34484c" stroke="#0b1517" stroke-width="0.9" stroke-linejoin="round"/>
<polygon points="341.0,1029.4 350.5,1034.9 360.5,1039.9 369.0,1043.9 369.0,1049.4 360.5,1046.4 350.5,1042.9 342.5,1038.4 341.0,1036.4" fill="#9aa8a8" stroke="#0b1517" stroke-width="0.9" stroke-linejoin="round"/>
<polygon points="332.8,1018.0 336.5,1016.6 341.0,1018.9 341.0,1031.7 334.8,1031.0 332.8,1029.6" fill="#9aa8a8" stroke="#0b1517" stroke-width="0.9" stroke-linejoin="round"/>
<polygon points="394.0,991.3 577.4,918.2 705.1,1025.3 652.7,1046.2 459.0,1078.3 440.8,1063.0 467.0,1052.5" fill="#8fa3a2" stroke="#0b1517" stroke-width="1.1" stroke-linejoin="round"/>
<polygon points="332.4,1015.9 394.0,991.3 467.0,1052.5 440.8,1063.0" fill="#3a4f4f" stroke="#0b1517" stroke-width="1.1" stroke-linejoin="round"/>
<line x1="467.0" y1="1052.5" x2="598.0" y2="1000.3" stroke="#0b1517" stroke-width="0.9"/>
<line x1="598.0" y1="1000.3" x2="652.7" y2="1046.2" stroke="#0b1517" stroke-width="0.9"/>
<circle r="1" transform="matrix(7.860,-3.135,5.475,4.590,390.00,1004.20)" fill="#050b0c" stroke="#0b1517" stroke-width="1.1700000000000002" vector-effect="non-scaling-stroke"/>
<polygon points="380.4,997.7 399.6,997.8 399.6,1004.3 380.4,1004.1" fill="#050b0c"/>
<line x1="399.6" y1="997.8" x2="399.6" y2="1004.3" stroke="#0b1517" stroke-width="1.1700000000000002"/>
<line x1="380.4" y1="997.7" x2="380.4" y2="1004.1" stroke="#0b1517" stroke-width="1.1700000000000002"/>
<circle r="1" transform="matrix(7.860,-3.135,5.475,4.590,390.00,997.73)" fill="#3f5354" stroke="#0b1517" stroke-width="1.1700000000000002" vector-effect="non-scaling-stroke"/>
<circle r="1" transform="matrix(7.860,-3.135,5.475,4.590,408.25,1019.50)" fill="#050b0c" stroke="#0b1517" stroke-width="1.1700000000000002" vector-effect="non-scaling-stroke"/>
<polygon points="398.7,1013.0 417.8,1013.1 417.8,1019.6 398.7,1019.4" fill="#050b0c"/>
<line x1="417.8" y1="1013.1" x2="417.8" y2="1019.6" stroke="#0b1517" stroke-width="1.1700000000000002"/>
<line x1="398.7" y1="1013.0" x2="398.7" y2="1019.4" stroke="#0b1517" stroke-width="1.1700000000000002"/>
<circle r="1" transform="matrix(7.860,-3.135,5.475,4.590,408.25,1013.03)" fill="#3f5354" stroke="#0b1517" stroke-width="1.1700000000000002" vector-effect="non-scaling-stroke"/>
<circle r="1" transform="matrix(7.860,-3.135,5.475,4.590,426.50,1034.80)" fill="#050b0c" stroke="#0b1517" stroke-width="1.1700000000000002" vector-effect="non-scaling-stroke"/>
<polygon points="416.9,1028.3 436.1,1028.4 436.1,1034.9 416.9,1034.7" fill="#050b0c"/>
<line x1="436.1" y1="1028.4" x2="436.1" y2="1034.9" stroke="#0b1517" stroke-width="1.1700000000000002"/>
<line x1="416.9" y1="1028.3" x2="416.9" y2="1034.7" stroke="#0b1517" stroke-width="1.1700000000000002"/>
<circle r="1" transform="matrix(7.860,-3.135,5.475,4.590,426.50,1028.33)" fill="#3f5354" stroke="#0b1517" stroke-width="1.1700000000000002" vector-effect="non-scaling-stroke"/>
<circle r="1" transform="matrix(7.860,-3.135,5.475,4.590,444.75,1050.10)" fill="#050b0c" stroke="#0b1517" stroke-width="1.1700000000000002" vector-effect="non-scaling-stroke"/>
<polygon points="435.2,1043.6 454.3,1043.7 454.3,1050.2 435.2,1050.0" fill="#050b0c"/>
<line x1="454.3" y1="1043.7" x2="454.3" y2="1050.2" stroke="#0b1517" stroke-width="1.1700000000000002"/>
<line x1="435.2" y1="1043.6" x2="435.2" y2="1050.0" stroke="#0b1517" stroke-width="1.1700000000000002"/>
<circle r="1" transform="matrix(7.860,-3.135,5.475,4.590,444.75,1043.63)" fill="#3f5354" stroke="#0b1517" stroke-width="1.1700000000000002" vector-effect="non-scaling-stroke"/>
<polygon points="650.4,968.9 624.2,979.4 624.2,989.8 650.4,979.4" fill="#121617" stroke="#8f9a9a" stroke-width="1.3" stroke-linejoin="round"/>
<polygon points="624.2,979.4 551.2,918.2 551.2,928.6 624.2,989.8" fill="#101314" stroke="#8f9a9a" stroke-width="1.3" stroke-linejoin="round"/>
<polygon points="551.2,918.2 577.4,907.7 650.4,968.9 624.2,979.4" fill="#15191a" stroke="#8f9a9a" stroke-width="1.3" stroke-linejoin="round"/>
<circle r="1" transform="matrix(7.860,-3.135,5.475,4.590,573.40,920.62)" fill="#050707" stroke="#8f9a9a" stroke-width="1.1700000000000002" vector-effect="non-scaling-stroke"/>
<polygon points="563.8,914.1 583.0,914.2 583.0,920.7 563.8,920.6" fill="#050707"/>
<line x1="583.0" y1="914.2" x2="583.0" y2="920.7" stroke="#8f9a9a" stroke-width="1.1700000000000002"/>
<line x1="563.8" y1="914.1" x2="563.8" y2="920.6" stroke="#8f9a9a" stroke-width="1.1700000000000002"/>
<circle r="1" transform="matrix(7.860,-3.135,5.475,4.590,573.40,914.15)" fill="#15191a" stroke="#8f9a9a" stroke-width="1.1700000000000002" vector-effect="non-scaling-stroke"/>
<circle r="1" transform="matrix(7.860,-3.135,5.475,4.590,591.65,935.92)" fill="#050707" stroke="#8f9a9a" stroke-width="1.1700000000000002" vector-effect="non-scaling-stroke"/>
<polygon points="582.1,929.4 601.2,929.5 601.2,936.0 582.1,935.9" fill="#050707"/>
<line x1="601.2" y1="929.5" x2="601.2" y2="936.0" stroke="#8f9a9a" stroke-width="1.1700000000000002"/>
<line x1="582.1" y1="929.4" x2="582.1" y2="935.9" stroke="#8f9a9a" stroke-width="1.1700000000000002"/>
<circle r="1" transform="matrix(7.860,-3.135,5.475,4.590,591.65,929.45)" fill="#15191a" stroke="#8f9a9a" stroke-width="1.1700000000000002" vector-effect="non-scaling-stroke"/>
<circle r="1" transform="matrix(7.860,-3.135,5.475,4.590,609.90,951.22)" fill="#050707" stroke="#8f9a9a" stroke-width="1.1700000000000002" vector-effect="non-scaling-stroke"/>
<polygon points="600.3,944.7 619.5,944.8 619.5,951.3 600.3,951.2" fill="#050707"/>
<line x1="619.5" y1="944.8" x2="619.5" y2="951.3" stroke="#8f9a9a" stroke-width="1.1700000000000002"/>
<line x1="600.3" y1="944.7" x2="600.3" y2="951.2" stroke="#8f9a9a" stroke-width="1.1700000000000002"/>
<circle r="1" transform="matrix(7.860,-3.135,5.475,4.590,609.90,944.75)" fill="#15191a" stroke="#8f9a9a" stroke-width="1.1700000000000002" vector-effect="non-scaling-stroke"/>
<circle r="1" transform="matrix(7.860,-3.135,5.475,4.590,628.15,966.52)" fill="#050707" stroke="#8f9a9a" stroke-width="1.1700000000000002" vector-effect="non-scaling-stroke"/>
<polygon points="618.6,960.0 637.7,960.1 637.7,966.6 618.6,966.5" fill="#050707"/>
<line x1="637.7" y1="960.1" x2="637.7" y2="966.6" stroke="#8f9a9a" stroke-width="1.1700000000000002"/>
<line x1="618.6" y1="960.0" x2="618.6" y2="966.5" stroke="#8f9a9a" stroke-width="1.1700000000000002"/>
<circle r="1" transform="matrix(7.860,-3.135,5.475,4.590,628.15,960.05)" fill="#15191a" stroke="#8f9a9a" stroke-width="1.1700000000000002" vector-effect="non-scaling-stroke"/>
<circle r="1" transform="matrix(7.860,-3.135,5.475,4.590,601.95,987.40)" fill="#0a1213" stroke="#0b1517" stroke-width="1.1700000000000002" vector-effect="non-scaling-stroke"/>
<polygon points="592.4,980.9 611.5,981.0 611.5,987.5 592.4,987.3" fill="#0a1213"/>
<line x1="611.5" y1="981.0" x2="611.5" y2="987.5" stroke="#0b1517" stroke-width="1.1700000000000002"/>
<line x1="592.4" y1="980.9" x2="592.4" y2="987.3" stroke="#0b1517" stroke-width="1.1700000000000002"/>
<circle r="1" transform="matrix(7.860,-3.135,5.475,4.590,601.95,980.93)" fill="#a3b0b0" stroke="#0b1517" stroke-width="1.1700000000000002" vector-effect="non-scaling-stroke"/>
<polygon points="598.0,989.8 571.8,1000.3 571.8,1010.7 598.0,1000.3" fill="#34484c" stroke="#0b1517" stroke-width="1.3" stroke-linejoin="round"/>
<polygon points="571.8,1000.3 472.6,949.5 472.6,960.0 571.8,1010.7" fill="#31444a" stroke="#0b1517" stroke-width="1.3" stroke-linejoin="round"/>
<polygon points="472.6,949.5 525.0,928.6 598.0,989.8 571.8,1000.3" fill="#3a4f4f" stroke="#0b1517" stroke-width="1.3" stroke-linejoin="round"/>
<polygon points="598.0,979.4 571.8,989.9 571.8,1000.3 598.0,989.8" fill="#34484c" stroke="#0b1517" stroke-width="1.3" stroke-linejoin="round"/>
<polygon points="571.8,989.9 472.6,939.1 472.6,949.5 571.8,1000.3" fill="#31444a" stroke="#0b1517" stroke-width="1.3" stroke-linejoin="round"/>
<polygon points="472.6,939.1 525.0,918.2 598.0,979.4 571.8,989.9" fill="#3a4f4f" stroke="#0b1517" stroke-width="1.3" stroke-linejoin="round"/>
<circle r="1" transform="matrix(7.860,-3.135,5.475,4.590,521.00,931.09)" fill="#050b0c" stroke="#0b1517" stroke-width="1.1700000000000002" vector-effect="non-scaling-stroke"/>
<polygon points="511.4,924.6 530.6,924.7 530.6,931.1 511.4,931.0" fill="#050b0c"/>
<line x1="530.6" y1="924.7" x2="530.6" y2="931.1" stroke="#0b1517" stroke-width="1.1700000000000002"/>
<line x1="511.4" y1="924.6" x2="511.4" y2="931.0" stroke="#0b1517" stroke-width="1.1700000000000002"/>
<circle r="1" transform="matrix(7.860,-3.135,5.475,4.590,521.00,924.62)" fill="#3f5354" stroke="#0b1517" stroke-width="1.1700000000000002" vector-effect="non-scaling-stroke"/>
<circle r="1" transform="matrix(7.860,-3.135,5.475,4.590,539.25,946.39)" fill="#050b0c" stroke="#0b1517" stroke-width="1.1700000000000002" vector-effect="non-scaling-stroke"/>
<polygon points="529.7,939.9 548.8,940.0 548.8,946.4 529.7,946.3" fill="#050b0c"/>
<line x1="548.8" y1="940.0" x2="548.8" y2="946.4" stroke="#0b1517" stroke-width="1.1700000000000002"/>
<line x1="529.7" y1="939.9" x2="529.7" y2="946.3" stroke="#0b1517" stroke-width="1.1700000000000002"/>
<circle r="1" transform="matrix(7.860,-3.135,5.475,4.590,539.25,939.92)" fill="#3f5354" stroke="#0b1517" stroke-width="1.1700000000000002" vector-effect="non-scaling-stroke"/>
<circle r="1" transform="matrix(7.860,-3.135,5.475,4.590,557.50,961.69)" fill="#050b0c" stroke="#0b1517" stroke-width="1.1700000000000002" vector-effect="non-scaling-stroke"/>
<polygon points="547.9,955.2 567.1,955.3 567.1,961.7 547.9,961.6" fill="#050b0c"/>
<line x1="567.1" y1="955.3" x2="567.1" y2="961.7" stroke="#0b1517" stroke-width="1.1700000000000002"/>
<line x1="547.9" y1="955.2" x2="547.9" y2="961.6" stroke="#0b1517" stroke-width="1.1700000000000002"/>
<circle r="1" transform="matrix(7.860,-3.135,5.475,4.590,557.50,955.22)" fill="#3f5354" stroke="#0b1517" stroke-width="1.1700000000000002" vector-effect="non-scaling-stroke"/>
<circle r="1" transform="matrix(7.860,-3.135,5.475,4.590,575.75,976.99)" fill="#050b0c" stroke="#0b1517" stroke-width="1.1700000000000002" vector-effect="non-scaling-stroke"/>
<polygon points="566.2,970.5 585.3,970.6 585.3,977.0 566.2,976.9" fill="#050b0c"/>
<line x1="585.3" y1="970.6" x2="585.3" y2="977.0" stroke="#0b1517" stroke-width="1.1700000000000002"/>
<line x1="566.2" y1="970.5" x2="566.2" y2="976.9" stroke="#0b1517" stroke-width="1.1700000000000002"/>
<circle r="1" transform="matrix(7.860,-3.135,5.475,4.590,575.75,970.52)" fill="#3f5354" stroke="#0b1517" stroke-width="1.1700000000000002" vector-effect="non-scaling-stroke"/>
<polygon points="686.9,999.5 582.1,1041.3 582.1,1051.8 686.9,1010.0" fill="#34484c" stroke="#0b1517" stroke-width="1.3" stroke-linejoin="round"/>
<polygon points="582.1,1041.3 545.6,1010.7 545.6,1021.2 582.1,1051.8" fill="#31444a" stroke="#0b1517" stroke-width="1.3" stroke-linejoin="round"/>
<polygon points="545.6,1010.7 650.4,968.9 686.9,999.5 582.1,1041.3" fill="#3a4f4f" stroke="#0b1517" stroke-width="1.3" stroke-linejoin="round"/>
<circle r="1" transform="matrix(7.860,-3.135,5.475,4.590,646.40,981.82)" fill="#050b0c" stroke="#0b1517" stroke-width="1.1700000000000002" vector-effect="non-scaling-stroke"/>
<polygon points="636.8,975.3 656.0,975.4 656.0,981.9 636.8,981.8" fill="#050b0c"/>
<line x1="656.0" y1="975.4" x2="656.0" y2="981.9" stroke="#0b1517" stroke-width="1.1700000000000002"/>
<line x1="636.8" y1="975.3" x2="636.8" y2="981.8" stroke="#0b1517" stroke-width="1.1700000000000002"/>
<circle r="1" transform="matrix(7.860,-3.135,5.475,4.590,646.40,975.35)" fill="#3f5354" stroke="#0b1517" stroke-width="1.1700000000000002" vector-effect="non-scaling-stroke"/>
<circle r="1" transform="matrix(7.860,-3.135,5.475,4.590,620.20,992.27)" fill="#050b0c" stroke="#0b1517" stroke-width="1.1700000000000002" vector-effect="non-scaling-stroke"/>
<polygon points="610.6,985.8 629.8,985.9 629.8,992.3 610.6,992.2" fill="#050b0c"/>
<line x1="629.8" y1="985.9" x2="629.8" y2="992.3" stroke="#0b1517" stroke-width="1.1700000000000002"/>
<line x1="610.6" y1="985.8" x2="610.6" y2="992.2" stroke="#0b1517" stroke-width="1.1700000000000002"/>
<circle r="1" transform="matrix(7.860,-3.135,5.475,4.590,620.20,985.80)" fill="#3f5354" stroke="#0b1517" stroke-width="1.1700000000000002" vector-effect="non-scaling-stroke"/>
<circle r="1" transform="matrix(7.860,-3.135,5.475,4.590,664.65,997.12)" fill="#050b0c" stroke="#0b1517" stroke-width="1.1700000000000002" vector-effect="non-scaling-stroke"/>
<polygon points="655.1,990.6 674.2,990.7 674.2,997.2 655.1,997.1" fill="#050b0c"/>
<line x1="674.2" y1="990.7" x2="674.2" y2="997.2" stroke="#0b1517" stroke-width="1.1700000000000002"/>
<line x1="655.1" y1="990.6" x2="655.1" y2="997.1" stroke="#0b1517" stroke-width="1.1700000000000002"/>
<circle r="1" transform="matrix(7.860,-3.135,5.475,4.590,664.65,990.65)" fill="#3f5354" stroke="#0b1517" stroke-width="1.1700000000000002" vector-effect="non-scaling-stroke"/>
<circle r="1" transform="matrix(7.860,-3.135,5.475,4.590,594.00,1002.72)" fill="#050b0c" stroke="#0b1517" stroke-width="1.1700000000000002" vector-effect="non-scaling-stroke"/>
<polygon points="584.4,996.2 603.6,996.3 603.6,1002.8 584.4,1002.7" fill="#050b0c"/>
<line x1="603.6" y1="996.3" x2="603.6" y2="1002.8" stroke="#0b1517" stroke-width="1.1700000000000002"/>
<line x1="584.4" y1="996.2" x2="584.4" y2="1002.7" stroke="#0b1517" stroke-width="1.1700000000000002"/>
<circle r="1" transform="matrix(7.860,-3.135,5.475,4.590,594.00,996.25)" fill="#3f5354" stroke="#0b1517" stroke-width="1.1700000000000002" vector-effect="non-scaling-stroke"/>
<circle r="1" transform="matrix(7.860,-3.135,5.475,4.590,638.45,1007.57)" fill="#050b0c" stroke="#0b1517" stroke-width="1.1700000000000002" vector-effect="non-scaling-stroke"/>
<polygon points="628.9,1001.1 648.0,1001.2 648.0,1007.6 628.9,1007.5" fill="#050b0c"/>
<line x1="648.0" y1="1001.2" x2="648.0" y2="1007.6" stroke="#0b1517" stroke-width="1.1700000000000002"/>
<line x1="628.9" y1="1001.1" x2="628.9" y2="1007.5" stroke="#0b1517" stroke-width="1.1700000000000002"/>
<circle r="1" transform="matrix(7.860,-3.135,5.475,4.590,638.45,1001.10)" fill="#3f5354" stroke="#0b1517" stroke-width="1.1700000000000002" vector-effect="non-scaling-stroke"/>
<circle r="1" transform="matrix(7.860,-3.135,5.475,4.590,567.80,1013.17)" fill="#050b0c" stroke="#0b1517" stroke-width="1.1700000000000002" vector-effect="non-scaling-stroke"/>
<polygon points="558.2,1006.7 577.4,1006.8 577.4,1013.2 558.2,1013.1" fill="#050b0c"/>
<line x1="577.4" y1="1006.8" x2="577.4" y2="1013.2" stroke="#0b1517" stroke-width="1.1700000000000002"/>
<line x1="558.2" y1="1006.7" x2="558.2" y2="1013.1" stroke="#0b1517" stroke-width="1.1700000000000002"/>
<circle r="1" transform="matrix(7.860,-3.135,5.475,4.590,567.80,1006.70)" fill="#3f5354" stroke="#0b1517" stroke-width="1.1700000000000002" vector-effect="non-scaling-stroke"/>
<circle r="1" transform="matrix(7.860,-3.135,5.475,4.590,612.25,1018.02)" fill="#050b0c" stroke="#0b1517" stroke-width="1.1700000000000002" vector-effect="non-scaling-stroke"/>
<polygon points="602.7,1011.5 621.8,1011.6 621.8,1018.1 602.7,1018.0" fill="#050b0c"/>
<line x1="621.8" y1="1011.6" x2="621.8" y2="1018.1" stroke="#0b1517" stroke-width="1.1700000000000002"/>
<line x1="602.7" y1="1011.5" x2="602.7" y2="1018.0" stroke="#0b1517" stroke-width="1.1700000000000002"/>
<circle r="1" transform="matrix(7.860,-3.135,5.475,4.590,612.25,1011.55)" fill="#3f5354" stroke="#0b1517" stroke-width="1.1700000000000002" vector-effect="non-scaling-stroke"/>
<circle r="1" transform="matrix(7.860,-3.135,5.475,4.590,586.05,1028.47)" fill="#050b0c" stroke="#0b1517" stroke-width="1.1700000000000002" vector-effect="non-scaling-stroke"/>
<polygon points="576.5,1022.0 595.6,1022.1 595.6,1028.5 576.5,1028.4" fill="#050b0c"/>
<line x1="595.6" y1="1022.1" x2="595.6" y2="1028.5" stroke="#0b1517" stroke-width="1.1700000000000002"/>
<line x1="576.5" y1="1022.0" x2="576.5" y2="1028.4" stroke="#0b1517" stroke-width="1.1700000000000002"/>
<circle r="1" transform="matrix(7.860,-3.135,5.475,4.590,586.05,1022.00)" fill="#3f5354" stroke="#0b1517" stroke-width="1.1700000000000002" vector-effect="non-scaling-stroke"/>
<circle r="1" transform="matrix(7.860,-3.135,5.475,4.590,468.60,972.85)" fill="#0a1213" stroke="#0b1517" stroke-width="1.1700000000000002" vector-effect="non-scaling-stroke"/>
<polygon points="459.0,966.3 478.2,966.4 478.2,972.9 459.0,972.8" fill="#0a1213"/>
<line x1="478.2" y1="966.4" x2="478.2" y2="972.9" stroke="#0b1517" stroke-width="1.1700000000000002"/>
<line x1="459.0" y1="966.3" x2="459.0" y2="972.8" stroke="#0b1517" stroke-width="1.1700000000000002"/>
<circle r="1" transform="matrix(7.860,-3.135,5.475,4.590,468.60,966.38)" fill="#a3b0b0" stroke="#0b1517" stroke-width="1.1700000000000002" vector-effect="non-scaling-stroke"/>
<circle r="1" transform="matrix(7.860,-3.135,5.475,4.590,442.40,983.30)" fill="#0a1213" stroke="#0b1517" stroke-width="1.1700000000000002" vector-effect="non-scaling-stroke"/>
<polygon points="432.8,976.8 452.0,976.9 452.0,983.4 432.8,983.2" fill="#0a1213"/>
<line x1="452.0" y1="976.9" x2="452.0" y2="983.4" stroke="#0b1517" stroke-width="1.1700000000000002"/>
<line x1="432.8" y1="976.8" x2="432.8" y2="983.2" stroke="#0b1517" stroke-width="1.1700000000000002"/>
<circle r="1" transform="matrix(7.860,-3.135,5.475,4.590,442.40,976.83)" fill="#a3b0b0" stroke="#0b1517" stroke-width="1.1700000000000002" vector-effect="non-scaling-stroke"/>
<circle r="1" transform="matrix(7.860,-3.135,5.475,4.590,416.20,993.75)" fill="#0a1213" stroke="#0b1517" stroke-width="1.1700000000000002" vector-effect="non-scaling-stroke"/>
<polygon points="406.6,987.2 425.8,987.3 425.8,993.8 406.6,993.7" fill="#0a1213"/>
<line x1="425.8" y1="987.3" x2="425.8" y2="993.8" stroke="#0b1517" stroke-width="1.1700000000000002"/>
<line x1="406.6" y1="987.2" x2="406.6" y2="993.7" stroke="#0b1517" stroke-width="1.1700000000000002"/>
<circle r="1" transform="matrix(7.860,-3.135,5.475,4.590,416.20,987.28)" fill="#a3b0b0" stroke="#0b1517" stroke-width="1.1700000000000002" vector-effect="non-scaling-stroke"/>
<circle r="1" transform="matrix(7.860,-3.135,5.475,4.590,434.45,1009.05)" fill="#0a1213" stroke="#0b1517" stroke-width="1.1700000000000002" vector-effect="non-scaling-stroke"/>
<polygon points="424.9,1002.5 444.0,1002.6 444.0,1009.1 424.9,1009.0" fill="#0a1213"/>
<line x1="444.0" y1="1002.6" x2="444.0" y2="1009.1" stroke="#0b1517" stroke-width="1.1700000000000002"/>
<line x1="424.9" y1="1002.5" x2="424.9" y2="1009.0" stroke="#0b1517" stroke-width="1.1700000000000002"/>
<circle r="1" transform="matrix(7.860,-3.135,5.475,4.590,434.45,1002.58)" fill="#a3b0b0" stroke="#0b1517" stroke-width="1.1700000000000002" vector-effect="non-scaling-stroke"/>
<circle r="1" transform="matrix(7.860,-3.135,5.475,4.590,682.90,1022.85)" fill="#0a1213" stroke="#0b1517" stroke-width="1.1700000000000002" vector-effect="non-scaling-stroke"/>
<polygon points="673.3,1016.3 692.5,1016.4 692.5,1022.9 673.3,1022.8" fill="#0a1213"/>
<line x1="692.5" y1="1016.4" x2="692.5" y2="1022.9" stroke="#0b1517" stroke-width="1.1700000000000002"/>
<line x1="673.3" y1="1016.3" x2="673.3" y2="1022.8" stroke="#0b1517" stroke-width="1.1700000000000002"/>
<circle r="1" transform="matrix(7.860,-3.135,5.475,4.590,682.90,1016.38)" fill="#a3b0b0" stroke="#0b1517" stroke-width="1.1700000000000002" vector-effect="non-scaling-stroke"/>
<circle r="1" transform="matrix(7.860,-3.135,5.475,4.590,452.70,1024.35)" fill="#0a1213" stroke="#0b1517" stroke-width="1.1700000000000002" vector-effect="non-scaling-stroke"/>
<polygon points="443.1,1017.8 462.3,1017.9 462.3,1024.4 443.1,1024.3" fill="#0a1213"/>
<line x1="462.3" y1="1017.9" x2="462.3" y2="1024.4" stroke="#0b1517" stroke-width="1.1700000000000002"/>
<line x1="443.1" y1="1017.8" x2="443.1" y2="1024.3" stroke="#0b1517" stroke-width="1.1700000000000002"/>
<circle r="1" transform="matrix(7.860,-3.135,5.475,4.590,452.70,1017.88)" fill="#a3b0b0" stroke="#0b1517" stroke-width="1.1700000000000002" vector-effect="non-scaling-stroke"/>
<circle r="1" transform="matrix(7.860,-3.135,5.475,4.590,656.70,1033.30)" fill="#0a1213" stroke="#0b1517" stroke-width="1.1700000000000002" vector-effect="non-scaling-stroke"/>
<polygon points="647.1,1026.8 666.3,1026.9 666.3,1033.4 647.1,1033.2" fill="#0a1213"/>
<line x1="666.3" y1="1026.9" x2="666.3" y2="1033.4" stroke="#0b1517" stroke-width="1.1700000000000002"/>
<line x1="647.1" y1="1026.8" x2="647.1" y2="1033.2" stroke="#0b1517" stroke-width="1.1700000000000002"/>
<circle r="1" transform="matrix(7.860,-3.135,5.475,4.590,656.70,1026.83)" fill="#a3b0b0" stroke="#0b1517" stroke-width="1.1700000000000002" vector-effect="non-scaling-stroke"/>
<circle r="1" transform="matrix(7.860,-3.135,5.475,4.590,541.60,1034.05)" fill="#0a1213" stroke="#0b1517" stroke-width="1.1700000000000002" vector-effect="non-scaling-stroke"/>
<polygon points="532.0,1027.5 551.2,1027.6 551.2,1034.1 532.0,1034.0" fill="#0a1213"/>
<line x1="551.2" y1="1027.6" x2="551.2" y2="1034.1" stroke="#0b1517" stroke-width="1.1700000000000002"/>
<line x1="532.0" y1="1027.5" x2="532.0" y2="1034.0" stroke="#0b1517" stroke-width="1.1700000000000002"/>
<circle r="1" transform="matrix(7.860,-3.135,5.475,4.590,541.60,1027.58)" fill="#a3b0b0" stroke="#0b1517" stroke-width="1.1700000000000002" vector-effect="non-scaling-stroke"/>
<circle r="1" transform="matrix(7.860,-3.135,5.475,4.590,470.95,1039.65)" fill="#0a1213" stroke="#0b1517" stroke-width="1.1700000000000002" vector-effect="non-scaling-stroke"/>
<polygon points="461.4,1033.1 480.5,1033.2 480.5,1039.7 461.4,1039.6" fill="#0a1213"/>
<line x1="480.5" y1="1033.2" x2="480.5" y2="1039.7" stroke="#0b1517" stroke-width="1.1700000000000002"/>
<line x1="461.4" y1="1033.1" x2="461.4" y2="1039.6" stroke="#0b1517" stroke-width="1.1700000000000002"/>
<circle r="1" transform="matrix(7.860,-3.135,5.475,4.590,470.95,1033.18)" fill="#a3b0b0" stroke="#0b1517" stroke-width="1.1700000000000002" vector-effect="non-scaling-stroke"/>
<circle r="1" transform="matrix(7.860,-3.135,5.475,4.590,515.40,1044.50)" fill="#0a1213" stroke="#0b1517" stroke-width="1.1700000000000002" vector-effect="non-scaling-stroke"/>
<polygon points="505.8,1038.0 525.0,1038.1 525.0,1044.6 505.8,1044.4" fill="#0a1213"/>
<line x1="525.0" y1="1038.1" x2="525.0" y2="1044.6" stroke="#0b1517" stroke-width="1.1700000000000002"/>
<line x1="505.8" y1="1038.0" x2="505.8" y2="1044.4" stroke="#0b1517" stroke-width="1.1700000000000002"/>
<circle r="1" transform="matrix(7.860,-3.135,5.475,4.590,515.40,1038.03)" fill="#a3b0b0" stroke="#0b1517" stroke-width="1.1700000000000002" vector-effect="non-scaling-stroke"/>
<circle r="1" transform="matrix(7.860,-3.135,5.475,4.590,559.85,1049.35)" fill="#0a1213" stroke="#0b1517" stroke-width="1.1700000000000002" vector-effect="non-scaling-stroke"/>
<polygon points="550.3,1042.8 569.4,1042.9 569.4,1049.4 550.3,1049.3" fill="#0a1213"/>
<line x1="569.4" y1="1042.9" x2="569.4" y2="1049.4" stroke="#0b1517" stroke-width="1.1700000000000002"/>
<line x1="550.3" y1="1042.8" x2="550.3" y2="1049.3" stroke="#0b1517" stroke-width="1.1700000000000002"/>
<circle r="1" transform="matrix(7.860,-3.135,5.475,4.590,559.85,1042.88)" fill="#a3b0b0" stroke="#0b1517" stroke-width="1.1700000000000002" vector-effect="non-scaling-stroke"/>
<circle r="1" transform="matrix(7.860,-3.135,5.475,4.590,489.20,1054.95)" fill="#0a1213" stroke="#0b1517" stroke-width="1.1700000000000002" vector-effect="non-scaling-stroke"/>
<polygon points="479.6,1048.4 498.8,1048.5 498.8,1055.0 479.6,1054.9" fill="#0a1213"/>
<line x1="498.8" y1="1048.5" x2="498.8" y2="1055.0" stroke="#0b1517" stroke-width="1.1700000000000002"/>
<line x1="479.6" y1="1048.4" x2="479.6" y2="1054.9" stroke="#0b1517" stroke-width="1.1700000000000002"/>
<circle r="1" transform="matrix(7.860,-3.135,5.475,4.590,489.20,1048.48)" fill="#a3b0b0" stroke="#0b1517" stroke-width="1.1700000000000002" vector-effect="non-scaling-stroke"/>
<circle r="1" transform="matrix(7.860,-3.135,5.475,4.590,463.00,1065.40)" fill="#0a1213" stroke="#0b1517" stroke-width="1.1700000000000002" vector-effect="non-scaling-stroke"/>
<polygon points="453.4,1058.9 472.6,1059.0 472.6,1065.5 453.4,1065.3" fill="#0a1213"/>
<line x1="472.6" y1="1059.0" x2="472.6" y2="1065.5" stroke="#0b1517" stroke-width="1.1700000000000002"/>
<line x1="453.4" y1="1058.9" x2="453.4" y2="1065.3" stroke="#0b1517" stroke-width="1.1700000000000002"/>
<circle r="1" transform="matrix(7.860,-3.135,5.475,4.590,463.00,1058.93)" fill="#a3b0b0" stroke="#0b1517" stroke-width="1.1700000000000002" vector-effect="non-scaling-stroke"/>
<polygon points="1407.2,464.8 1409.7,464.4 1399.0,466.2 1382.0,465.3 1379.3,471.6 1370.3,471.6 1352.5,468.9 1350.7,476.1 1338.0,478.1 1338.0,480.2 1302.4,483.2 1282.7,481.4 1280.9,488.6 1254.0,490.4 1254.0,495.7 1213.8,499.3 1213.5,496.9" fill="#a2b0b0" stroke="#0b1517" stroke-width="1.1" stroke-linejoin="round"/>
<polygon points="1459.6,433.4 1407.2,454.3 1407.2,464.8 1459.6,443.9" fill="#a2b0b0" stroke="#0b1517" stroke-width="1.3" stroke-linejoin="round"/>
<polygon points="1407.2,454.3 1213.5,486.4 1213.5,496.9 1407.2,464.8" fill="#a2b0b0" stroke="#0b1517" stroke-width="1.3" stroke-linejoin="round"/>
<polygon points="1213.5,486.4 1195.3,471.1 1195.3,481.6 1213.5,496.9" fill="#9dabab" stroke="#0b1517" stroke-width="1.3" stroke-linejoin="round"/>
<polygon points="1195.3,471.1 1099.0,419.2 1099.0,429.7 1195.3,481.6" fill="#9dabab" stroke="#0b1517" stroke-width="1.3" stroke-linejoin="round"/>
<polygon points="1099.0,419.2 1195.3,471.1 1195.3,481.6 1099.0,429.7" fill="#31444a" stroke="#0b1517" stroke-width="1.1" stroke-linejoin="round"/>
<polygon points="1459.6,423.0 1407.2,443.9 1407.2,454.3 1459.6,433.4" fill="#a2b0b0" stroke="#0b1517" stroke-width="1.3" stroke-linejoin="round"/>
<polygon points="1407.2,443.9 1213.5,476.0 1213.5,486.4 1407.2,454.3" fill="#a2b0b0" stroke="#0b1517" stroke-width="1.3" stroke-linejoin="round"/>
<polygon points="1213.5,476.0 1195.3,460.7 1195.3,471.1 1213.5,486.4" fill="#9dabab" stroke="#0b1517" stroke-width="1.3" stroke-linejoin="round"/>
<polygon points="1195.3,460.7 1086.9,413.6 1086.9,424.0 1195.3,471.1" fill="#9dabab" stroke="#0b1517" stroke-width="1.3" stroke-linejoin="round"/>
<polygon points="1086.9,413.6 1195.3,460.7 1195.3,471.1 1086.9,424.0" fill="#31444a" stroke="#0b1517" stroke-width="1.1" stroke-linejoin="round"/>
<polygon points="1459.6,412.6 1407.2,433.5 1407.2,443.9 1459.6,423.0" fill="#a2b0b0" stroke="#0b1517" stroke-width="1.3" stroke-linejoin="round"/>
<polygon points="1407.2,433.5 1213.5,465.6 1213.5,476.0 1407.2,443.9" fill="#a2b0b0" stroke="#0b1517" stroke-width="1.3" stroke-linejoin="round"/>
<polygon points="1213.5,465.6 1195.3,450.3 1195.3,460.7 1213.5,476.0" fill="#9dabab" stroke="#0b1517" stroke-width="1.3" stroke-linejoin="round"/>
<polygon points="1195.3,450.3 1086.9,403.2 1086.9,413.6 1195.3,460.7" fill="#9dabab" stroke="#0b1517" stroke-width="1.3" stroke-linejoin="round"/>
<polygon points="1086.9,403.2 1195.3,450.3 1195.3,460.7 1086.9,413.6" fill="#31444a" stroke="#0b1517" stroke-width="1.1" stroke-linejoin="round"/>
<polygon points="1287.8,464.7 1326.5,458.3 1326.5,467.7 1287.8,474.1" fill="#5a6b6d" stroke="#0b1517" stroke-width="0.9" stroke-linejoin="round"/>
<polygon points="1433.4,433.5 1459.6,423.0 1459.6,433.4 1433.4,443.9" fill="#34484c" stroke="#0b1517" stroke-width="0.9" stroke-linejoin="round"/>
<polygon points="1095.5,416.7 1105.0,422.2 1115.0,427.2 1123.5,431.2 1123.5,436.7 1115.0,433.7 1105.0,430.2 1097.0,425.7 1095.5,423.7" fill="#9aa8a8" stroke="#0b1517" stroke-width="0.9" stroke-linejoin="round"/>
<polygon points="1087.3,405.3 1091.0,403.9 1095.5,406.2 1095.5,419.0 1089.3,418.3 1087.3,416.9" fill="#9aa8a8" stroke="#0b1517" stroke-width="0.9" stroke-linejoin="round"/>
<polygon points="1148.5,378.6 1331.9,305.5 1459.6,412.6 1407.2,433.5 1213.5,465.6 1195.3,450.3 1221.5,439.8" fill="#8fa3a2" stroke="#0b1517" stroke-width="1.1" stroke-linejoin="round"/>
<polygon points="1086.9,403.2 1148.5,378.6 1221.5,439.8 1195.3,450.3" fill="#3a4f4f" stroke="#0b1517" stroke-width="1.1" stroke-linejoin="round"/>
<line x1="1221.5" y1="439.8" x2="1352.5" y2="387.6" stroke="#0b1517" stroke-width="0.9"/>
<line x1="1352.5" y1="387.6" x2="1407.2" y2="433.5" stroke="#0b1517" stroke-width="0.9"/>
<circle r="1" transform="matrix(7.860,-3.135,5.475,4.590,1144.50,391.50)" fill="#050b0c" stroke="#0b1517" stroke-width="1.1700000000000002" vector-effect="non-scaling-stroke"/>
<polygon points="1134.9,385.0 1154.1,385.1 1154.1,391.6 1134.9,391.4" fill="#050b0c"/>
<line x1="1154.1" y1="385.1" x2="1154.1" y2="391.6" stroke="#0b1517" stroke-width="1.1700000000000002"/>
<line x1="1134.9" y1="385.0" x2="1134.9" y2="391.4" stroke="#0b1517" stroke-width="1.1700000000000002"/>
<circle r="1" transform="matrix(7.860,-3.135,5.475,4.590,1144.50,385.03)" fill="#3f5354" stroke="#0b1517" stroke-width="1.1700000000000002" vector-effect="non-scaling-stroke"/>
<circle r="1" transform="matrix(7.860,-3.135,5.475,4.590,1162.75,406.80)" fill="#050b0c" stroke="#0b1517" stroke-width="1.1700000000000002" vector-effect="non-scaling-stroke"/>
<polygon points="1153.2,400.3 1172.3,400.4 1172.3,406.9 1153.2,406.7" fill="#050b0c"/>
<line x1="1172.3" y1="400.4" x2="1172.3" y2="406.9" stroke="#0b1517" stroke-width="1.1700000000000002"/>
<line x1="1153.2" y1="400.3" x2="1153.2" y2="406.7" stroke="#0b1517" stroke-width="1.1700000000000002"/>
<circle r="1" transform="matrix(7.860,-3.135,5.475,4.590,1162.75,400.33)" fill="#3f5354" stroke="#0b1517" stroke-width="1.1700000000000002" vector-effect="non-scaling-stroke"/>
<circle r="1" transform="matrix(7.860,-3.135,5.475,4.590,1181.00,422.10)" fill="#050b0c" stroke="#0b1517" stroke-width="1.1700000000000002" vector-effect="non-scaling-stroke"/>
<polygon points="1171.4,415.6 1190.6,415.7 1190.6,422.2 1171.4,422.0" fill="#050b0c"/>
<line x1="1190.6" y1="415.7" x2="1190.6" y2="422.2" stroke="#0b1517" stroke-width="1.1700000000000002"/>
<line x1="1171.4" y1="415.6" x2="1171.4" y2="422.0" stroke="#0b1517" stroke-width="1.1700000000000002"/>
<circle r="1" transform="matrix(7.860,-3.135,5.475,4.590,1181.00,415.63)" fill="#3f5354" stroke="#0b1517" stroke-width="1.1700000000000002" vector-effect="non-scaling-stroke"/>
<circle r="1" transform="matrix(7.860,-3.135,5.475,4.590,1199.25,437.40)" fill="#050b0c" stroke="#0b1517" stroke-width="1.1700000000000002" vector-effect="non-scaling-stroke"/>
<polygon points="1189.7,430.9 1208.8,431.0 1208.8,437.5 1189.7,437.3" fill="#050b0c"/>
<line x1="1208.8" y1="431.0" x2="1208.8" y2="437.5" stroke="#0b1517" stroke-width="1.1700000000000002"/>
<line x1="1189.7" y1="430.9" x2="1189.7" y2="437.3" stroke="#0b1517" stroke-width="1.1700000000000002"/>
<circle r="1" transform="matrix(7.860,-3.135,5.475,4.590,1199.25,430.93)" fill="#3f5354" stroke="#0b1517" stroke-width="1.1700000000000002" vector-effect="non-scaling-stroke"/>
<polygon points="1404.9,356.2 1378.7,366.7 1378.7,377.1 1404.9,366.7" fill="#121617" stroke="#8f9a9a" stroke-width="1.3" stroke-linejoin="round"/>
<polygon points="1378.7,366.7 1305.7,305.5 1305.7,315.9 1378.7,377.1" fill="#101314" stroke="#8f9a9a" stroke-width="1.3" stroke-linejoin="round"/>
<polygon points="1305.7,305.5 1331.9,295.0 1404.9,356.2 1378.7,366.7" fill="#15191a" stroke="#8f9a9a" stroke-width="1.3" stroke-linejoin="round"/>
<circle r="1" transform="matrix(7.860,-3.135,5.475,4.590,1327.90,307.92)" fill="#050707" stroke="#8f9a9a" stroke-width="1.1700000000000002" vector-effect="non-scaling-stroke"/>
<polygon points="1318.3,301.4 1337.5,301.5 1337.5,308.0 1318.3,307.9" fill="#050707"/>
<line x1="1337.5" y1="301.5" x2="1337.5" y2="308.0" stroke="#8f9a9a" stroke-width="1.1700000000000002"/>
<line x1="1318.3" y1="301.4" x2="1318.3" y2="307.9" stroke="#8f9a9a" stroke-width="1.1700000000000002"/>
<circle r="1" transform="matrix(7.860,-3.135,5.475,4.590,1327.90,301.45)" fill="#15191a" stroke="#8f9a9a" stroke-width="1.1700000000000002" vector-effect="non-scaling-stroke"/>
<circle r="1" transform="matrix(7.860,-3.135,5.475,4.590,1346.15,323.22)" fill="#050707" stroke="#8f9a9a" stroke-width="1.1700000000000002" vector-effect="non-scaling-stroke"/>
<polygon points="1336.6,316.7 1355.7,316.8 1355.7,323.3 1336.6,323.2" fill="#050707"/>
<line x1="1355.7" y1="316.8" x2="1355.7" y2="323.3" stroke="#8f9a9a" stroke-width="1.1700000000000002"/>
<line x1="1336.6" y1="316.7" x2="1336.6" y2="323.2" stroke="#8f9a9a" stroke-width="1.1700000000000002"/>
<circle r="1" transform="matrix(7.860,-3.135,5.475,4.590,1346.15,316.75)" fill="#15191a" stroke="#8f9a9a" stroke-width="1.1700000000000002" vector-effect="non-scaling-stroke"/>
<circle r="1" transform="matrix(7.860,-3.135,5.475,4.590,1364.40,338.52)" fill="#050707" stroke="#8f9a9a" stroke-width="1.1700000000000002" vector-effect="non-scaling-stroke"/>
<polygon points="1354.8,332.0 1374.0,332.1 1374.0,338.6 1354.8,338.5" fill="#050707"/>
<line x1="1374.0" y1="332.1" x2="1374.0" y2="338.6" stroke="#8f9a9a" stroke-width="1.1700000000000002"/>
<line x1="1354.8" y1="332.0" x2="1354.8" y2="338.5" stroke="#8f9a9a" stroke-width="1.1700000000000002"/>
<circle r="1" transform="matrix(7.860,-3.135,5.475,4.590,1364.40,332.05)" fill="#15191a" stroke="#8f9a9a" stroke-width="1.1700000000000002" vector-effect="non-scaling-stroke"/>
<circle r="1" transform="matrix(7.860,-3.135,5.475,4.590,1382.65,353.82)" fill="#050707" stroke="#8f9a9a" stroke-width="1.1700000000000002" vector-effect="non-scaling-stroke"/>
<polygon points="1373.1,347.3 1392.2,347.4 1392.2,353.9 1373.1,353.8" fill="#050707"/>
<line x1="1392.2" y1="347.4" x2="1392.2" y2="353.9" stroke="#8f9a9a" stroke-width="1.1700000000000002"/>
<line x1="1373.1" y1="347.3" x2="1373.1" y2="353.8" stroke="#8f9a9a" stroke-width="1.1700000000000002"/>
<circle r="1" transform="matrix(7.860,-3.135,5.475,4.590,1382.65,347.35)" fill="#15191a" stroke="#8f9a9a" stroke-width="1.1700000000000002" vector-effect="non-scaling-stroke"/>
<polygon points="1360.4,353.5 1334.2,363.9 1334.2,372.3 1360.4,361.8" fill="#121617" stroke="#8f9a9a" stroke-width="1.3" stroke-linejoin="round"/>
<polygon points="1334.2,363.9 1279.5,318.0 1279.5,326.4 1334.2,372.3" fill="#101314" stroke="#8f9a9a" stroke-width="1.3" stroke-linejoin="round"/>
<polygon points="1279.5,318.0 1305.7,307.6 1360.4,353.5 1334.2,363.9" fill="#15191a" stroke="#8f9a9a" stroke-width="1.3" stroke-linejoin="round"/>
<ellipse cx="1301.7" cy="318.5" rx="7" ry="4" fill="#1a1e1f" stroke="#b9c2c2" stroke-width="1.2"/>
<ellipse cx="1320.0" cy="333.8" rx="7" ry="4" fill="#1a1e1f" stroke="#b9c2c2" stroke-width="1.2"/>
<ellipse cx="1338.2" cy="349.1" rx="7" ry="4" fill="#1a1e1f" stroke="#b9c2c2" stroke-width="1.2"/>
<circle r="1" transform="matrix(7.860,-3.135,5.475,4.590,1356.45,374.70)" fill="#0a1213" stroke="#0b1517" stroke-width="1.1700000000000002" vector-effect="non-scaling-stroke"/>
<polygon points="1346.9,368.2 1366.0,368.3 1366.0,374.8 1346.9,374.6" fill="#0a1213"/>
<line x1="1366.0" y1="368.3" x2="1366.0" y2="374.8" stroke="#0b1517" stroke-width="1.1700000000000002"/>
<line x1="1346.9" y1="368.2" x2="1346.9" y2="374.6" stroke="#0b1517" stroke-width="1.1700000000000002"/>
<circle r="1" transform="matrix(7.860,-3.135,5.475,4.590,1356.45,368.23)" fill="#a3b0b0" stroke="#0b1517" stroke-width="1.1700000000000002" vector-effect="non-scaling-stroke"/>
<polygon points="1352.5,377.1 1326.3,387.6 1326.3,398.0 1352.5,387.6" fill="#34484c" stroke="#0b1517" stroke-width="1.3" stroke-linejoin="round"/>
<polygon points="1326.3,387.6 1227.1,336.8 1227.1,347.3 1326.3,398.0" fill="#31444a" stroke="#0b1517" stroke-width="1.3" stroke-linejoin="round"/>
<polygon points="1227.1,336.8 1279.5,315.9 1352.5,377.1 1326.3,387.6" fill="#3a4f4f" stroke="#0b1517" stroke-width="1.3" stroke-linejoin="round"/>
<polygon points="1352.5,366.7 1326.3,377.2 1326.3,387.6 1352.5,377.1" fill="#34484c" stroke="#0b1517" stroke-width="1.3" stroke-linejoin="round"/>
<polygon points="1326.3,377.2 1227.1,326.4 1227.1,336.8 1326.3,387.6" fill="#31444a" stroke="#0b1517" stroke-width="1.3" stroke-linejoin="round"/>
<polygon points="1227.1,326.4 1279.5,305.5 1352.5,366.7 1326.3,377.2" fill="#3a4f4f" stroke="#0b1517" stroke-width="1.3" stroke-linejoin="round"/>
<circle r="1" transform="matrix(7.860,-3.135,5.475,4.590,1275.50,318.39)" fill="#050b0c" stroke="#0b1517" stroke-width="1.1700000000000002" vector-effect="non-scaling-stroke"/>
<polygon points="1265.9,311.9 1285.1,312.0 1285.1,318.4 1265.9,318.3" fill="#050b0c"/>
<line x1="1285.1" y1="312.0" x2="1285.1" y2="318.4" stroke="#0b1517" stroke-width="1.1700000000000002"/>
<line x1="1265.9" y1="311.9" x2="1265.9" y2="318.3" stroke="#0b1517" stroke-width="1.1700000000000002"/>
<circle r="1" transform="matrix(7.860,-3.135,5.475,4.590,1275.50,311.92)" fill="#3f5354" stroke="#0b1517" stroke-width="1.1700000000000002" vector-effect="non-scaling-stroke"/>
<circle r="1" transform="matrix(7.860,-3.135,5.475,4.590,1293.75,333.69)" fill="#050b0c" stroke="#0b1517" stroke-width="1.1700000000000002" vector-effect="non-scaling-stroke"/>
<polygon points="1284.2,327.2 1303.3,327.3 1303.3,333.7 1284.2,333.6" fill="#050b0c"/>
<line x1="1303.3" y1="327.3" x2="1303.3" y2="333.7" stroke="#0b1517" stroke-width="1.1700000000000002"/>
<line x1="1284.2" y1="327.2" x2="1284.2" y2="333.6" stroke="#0b1517" stroke-width="1.1700000000000002"/>
<circle r="1" transform="matrix(7.860,-3.135,5.475,4.590,1293.75,327.22)" fill="#3f5354" stroke="#0b1517" stroke-width="1.1700000000000002" vector-effect="non-scaling-stroke"/>
<circle r="1" transform="matrix(7.860,-3.135,5.475,4.590,1312.00,348.99)" fill="#050b0c" stroke="#0b1517" stroke-width="1.1700000000000002" vector-effect="non-scaling-stroke"/>
<polygon points="1302.4,342.5 1321.6,342.6 1321.6,349.0 1302.4,348.9" fill="#050b0c"/>
<line x1="1321.6" y1="342.6" x2="1321.6" y2="349.0" stroke="#0b1517" stroke-width="1.1700000000000002"/>
<line x1="1302.4" y1="342.5" x2="1302.4" y2="348.9" stroke="#0b1517" stroke-width="1.1700000000000002"/>
<circle r="1" transform="matrix(7.860,-3.135,5.475,4.590,1312.00,342.52)" fill="#3f5354" stroke="#0b1517" stroke-width="1.1700000000000002" vector-effect="non-scaling-stroke"/>
<circle r="1" transform="matrix(7.860,-3.135,5.475,4.590,1330.25,364.29)" fill="#050b0c" stroke="#0b1517" stroke-width="1.1700000000000002" vector-effect="non-scaling-stroke"/>
<polygon points="1320.7,357.8 1339.8,357.9 1339.8,364.3 1320.7,364.2" fill="#050b0c"/>
<line x1="1339.8" y1="357.9" x2="1339.8" y2="364.3" stroke="#0b1517" stroke-width="1.1700000000000002"/>
<line x1="1320.7" y1="357.8" x2="1320.7" y2="364.2" stroke="#0b1517" stroke-width="1.1700000000000002"/>
<circle r="1" transform="matrix(7.860,-3.135,5.475,4.590,1330.25,357.82)" fill="#3f5354" stroke="#0b1517" stroke-width="1.1700000000000002" vector-effect="non-scaling-stroke"/>
<polygon points="1441.4,386.8 1336.6,428.6 1336.6,439.1 1441.4,397.3" fill="#34484c" stroke="#0b1517" stroke-width="1.3" stroke-linejoin="round"/>
<polygon points="1336.6,428.6 1300.1,398.0 1300.1,408.5 1336.6,439.1" fill="#31444a" stroke="#0b1517" stroke-width="1.3" stroke-linejoin="round"/>
<polygon points="1300.1,398.0 1404.9,356.2 1441.4,386.8 1336.6,428.6" fill="#3a4f4f" stroke="#0b1517" stroke-width="1.3" stroke-linejoin="round"/>
<polygon points="1441.4,376.4 1415.2,386.9 1415.2,397.3 1441.4,386.8" fill="#34484c" stroke="#0b1517" stroke-width="1.3" stroke-linejoin="round"/>
<polygon points="1415.2,386.9 1305.7,295.1 1305.7,305.5 1415.2,397.3" fill="#31444a" stroke="#0b1517" stroke-width="1.3" stroke-linejoin="round"/>
<polygon points="1305.7,295.1 1331.9,284.6 1441.4,376.4 1415.2,386.9" fill="#3a4f4f" stroke="#0b1517" stroke-width="1.3" stroke-linejoin="round"/>
<circle r="1" transform="matrix(7.860,-3.135,5.475,4.590,1327.90,297.49)" fill="#050b0c" stroke="#0b1517" stroke-width="1.1700000000000002" vector-effect="non-scaling-stroke"/>
<polygon points="1318.3,291.0 1337.5,291.1 1337.5,297.5 1318.3,297.4" fill="#050b0c"/>
<line x1="1337.5" y1="291.1" x2="1337.5" y2="297.5" stroke="#0b1517" stroke-width="1.1700000000000002"/>
<line x1="1318.3" y1="291.0" x2="1318.3" y2="297.4" stroke="#0b1517" stroke-width="1.1700000000000002"/>
<circle r="1" transform="matrix(7.860,-3.135,5.475,4.590,1327.90,291.02)" fill="#3f5354" stroke="#0b1517" stroke-width="1.1700000000000002" vector-effect="non-scaling-stroke"/>
<circle r="1" transform="matrix(7.860,-3.135,5.475,4.590,1346.15,312.79)" fill="#050b0c" stroke="#0b1517" stroke-width="1.1700000000000002" vector-effect="non-scaling-stroke"/>
<polygon points="1336.6,306.3 1355.7,306.4 1355.7,312.8 1336.6,312.7" fill="#050b0c"/>
<line x1="1355.7" y1="306.4" x2="1355.7" y2="312.8" stroke="#0b1517" stroke-width="1.1700000000000002"/>
<line x1="1336.6" y1="306.3" x2="1336.6" y2="312.7" stroke="#0b1517" stroke-width="1.1700000000000002"/>
<circle r="1" transform="matrix(7.860,-3.135,5.475,4.590,1346.15,306.32)" fill="#3f5354" stroke="#0b1517" stroke-width="1.1700000000000002" vector-effect="non-scaling-stroke"/>
<circle r="1" transform="matrix(7.860,-3.135,5.475,4.590,1364.40,328.09)" fill="#050b0c" stroke="#0b1517" stroke-width="1.1700000000000002" vector-effect="non-scaling-stroke"/>
<polygon points="1354.8,321.6 1374.0,321.7 1374.0,328.1 1354.8,328.0" fill="#050b0c"/>
<line x1="1374.0" y1="321.7" x2="1374.0" y2="328.1" stroke="#0b1517" stroke-width="1.1700000000000002"/>
<line x1="1354.8" y1="321.6" x2="1354.8" y2="328.0" stroke="#0b1517" stroke-width="1.1700000000000002"/>
<circle r="1" transform="matrix(7.860,-3.135,5.475,4.590,1364.40,321.62)" fill="#3f5354" stroke="#0b1517" stroke-width="1.1700000000000002" vector-effect="non-scaling-stroke"/>
<circle r="1" transform="matrix(7.860,-3.135,5.475,4.590,1382.65,343.39)" fill="#050b0c" stroke="#0b1517" stroke-width="1.1700000000000002" vector-effect="non-scaling-stroke"/>
<polygon points="1373.1,336.9 1392.2,337.0 1392.2,343.4 1373.1,343.3" fill="#050b0c"/>
<line x1="1392.2" y1="337.0" x2="1392.2" y2="343.4" stroke="#0b1517" stroke-width="1.1700000000000002"/>
<line x1="1373.1" y1="336.9" x2="1373.1" y2="343.3" stroke="#0b1517" stroke-width="1.1700000000000002"/>
<circle r="1" transform="matrix(7.860,-3.135,5.475,4.590,1382.65,336.92)" fill="#3f5354" stroke="#0b1517" stroke-width="1.1700000000000002" vector-effect="non-scaling-stroke"/>
<circle r="1" transform="matrix(7.860,-3.135,5.475,4.590,1400.90,358.69)" fill="#050b0c" stroke="#0b1517" stroke-width="1.1700000000000002" vector-effect="non-scaling-stroke"/>
<polygon points="1391.3,352.2 1410.5,352.3 1410.5,358.7 1391.3,358.6" fill="#050b0c"/>
<line x1="1410.5" y1="352.3" x2="1410.5" y2="358.7" stroke="#0b1517" stroke-width="1.1700000000000002"/>
<line x1="1391.3" y1="352.2" x2="1391.3" y2="358.6" stroke="#0b1517" stroke-width="1.1700000000000002"/>
<circle r="1" transform="matrix(7.860,-3.135,5.475,4.590,1400.90,352.22)" fill="#3f5354" stroke="#0b1517" stroke-width="1.1700000000000002" vector-effect="non-scaling-stroke"/>
<circle r="1" transform="matrix(7.860,-3.135,5.475,4.590,1419.15,373.99)" fill="#050b0c" stroke="#0b1517" stroke-width="1.1700000000000002" vector-effect="non-scaling-stroke"/>
<polygon points="1409.6,367.5 1428.7,367.6 1428.7,374.0 1409.6,373.9" fill="#050b0c"/>
<line x1="1428.7" y1="367.6" x2="1428.7" y2="374.0" stroke="#0b1517" stroke-width="1.1700000000000002"/>
<line x1="1409.6" y1="367.5" x2="1409.6" y2="373.9" stroke="#0b1517" stroke-width="1.1700000000000002"/>
<circle r="1" transform="matrix(7.860,-3.135,5.475,4.590,1419.15,367.52)" fill="#3f5354" stroke="#0b1517" stroke-width="1.1700000000000002" vector-effect="non-scaling-stroke"/>
<polygon points="1352.5,370.2 1334.2,354.9 1334.2,361.8 1352.5,377.1" fill="#31444a" stroke="#0b1517" stroke-width="1.3" stroke-linejoin="round"/>
<polygon points="1415.2,390.3 1389.0,400.8 1389.0,407.7 1415.2,397.3" fill="#34484c" stroke="#0b1517" stroke-width="1.3" stroke-linejoin="round"/>
<polygon points="1389.0,400.8 1370.7,385.5 1370.7,392.4 1389.0,407.7" fill="#31444a" stroke="#0b1517" stroke-width="1.3" stroke-linejoin="round"/>
<polygon points="1370.7,385.5 1318.3,406.4 1318.3,413.3 1370.7,392.4" fill="#34484c" stroke="#0b1517" stroke-width="1.3" stroke-linejoin="round"/>
<polygon points="1318.3,406.4 1300.1,391.1 1300.1,398.0 1318.3,413.3" fill="#31444a" stroke="#0b1517" stroke-width="1.3" stroke-linejoin="round"/>
<polygon points="1300.1,391.1 1352.5,370.2 1334.2,354.9 1360.4,344.4 1415.2,390.3 1389.0,400.8 1370.7,385.5 1318.3,406.4" fill="#3a4f4f" stroke="#0b1517" stroke-width="1.3" stroke-linejoin="round"/>
<line x1="1308.1" y1="389.7" x2="1323.4" y2="402.5" stroke="#141f21" stroke-width="1.3"/>
<line x1="1314.6" y1="387.1" x2="1330.0" y2="399.9" stroke="#141f21" stroke-width="1.3"/>
<line x1="1321.2" y1="384.4" x2="1336.5" y2="397.3" stroke="#141f21" stroke-width="1.3"/>
<line x1="1327.7" y1="381.8" x2="1343.1" y2="394.7" stroke="#141f21" stroke-width="1.3"/>
<line x1="1334.3" y1="379.2" x2="1349.6" y2="392.1" stroke="#141f21" stroke-width="1.3"/>
<line x1="1340.8" y1="376.6" x2="1356.2" y2="389.5" stroke="#141f21" stroke-width="1.3"/>
<line x1="1347.4" y1="374.0" x2="1362.7" y2="386.8" stroke="#141f21" stroke-width="1.3"/>
<line x1="1335.7" y1="356.1" x2="1387.5" y2="399.5" stroke="#141f21" stroke-width="1.3"/>
<line x1="1342.2" y1="353.5" x2="1394.1" y2="396.9" stroke="#141f21" stroke-width="1.3"/>
<line x1="1348.8" y1="350.9" x2="1400.6" y2="394.3" stroke="#141f21" stroke-width="1.3"/>
<line x1="1355.3" y1="348.2" x2="1407.2" y2="391.7" stroke="#141f21" stroke-width="1.3"/>
<path d="M1354.2,394.9 L1354.2,405.3 A12.5,7.2 0 0 0 1379.2,405.3 L1379.2,394.9 Z" fill="#9aa3a3" stroke="#0b1517" stroke-width="1"/>
<path d="M1354.2,398.0 A12.5,7.2 0 0 0 1379.2,398.0" fill="none" stroke="#e8eeee" stroke-width="1.2"/>
<path d="M1354.2,401.1 A12.5,7.2 0 0 0 1379.2,401.1" fill="none" stroke="#e8eeee" stroke-width="1.2"/>
<path d="M1354.2,404.3 A12.5,7.2 0 0 0 1379.2,404.3" fill="none" stroke="#e8eeee" stroke-width="1.2"/>
<ellipse cx="1366.8" cy="394.9" rx="12.5" ry="7.2" fill="#cfd6d6" stroke="#0b1517" stroke-width="1"/>
<ellipse cx="1366.8" cy="396.1" rx="8.5" ry="4.5" fill="#070d0e"/>
<ellipse cx="1366.8" cy="392.9" rx="6.2" ry="1.8" fill="#5d6868"/>
<path d="M1328.0,405.3 L1328.0,415.8 A12.5,7.2 0 0 0 1353.0,415.8 L1353.0,405.3 Z" fill="#9aa3a3" stroke="#0b1517" stroke-width="1"/>
<path d="M1328.0,408.5 A12.5,7.2 0 0 0 1353.0,408.5" fill="none" stroke="#e8eeee" stroke-width="1.2"/>
<path d="M1328.0,411.6 A12.5,7.2 0 0 0 1353.0,411.6" fill="none" stroke="#e8eeee" stroke-width="1.2"/>
<path d="M1328.0,414.7 A12.5,7.2 0 0 0 1353.0,414.7" fill="none" stroke="#e8eeee" stroke-width="1.2"/>
<ellipse cx="1340.5" cy="405.3" rx="12.5" ry="7.2" fill="#cfd6d6" stroke="#0b1517" stroke-width="1"/>
<ellipse cx="1340.5" cy="406.5" rx="8.5" ry="4.5" fill="#070d0e"/>
<ellipse cx="1340.5" cy="403.3" rx="6.2" ry="1.8" fill="#5d6868"/>
<circle r="1" transform="matrix(7.860,-3.135,5.475,4.590,1312.00,348.99)" fill="#050b0c" stroke="#0b1517" stroke-width="1.1700000000000002" vector-effect="non-scaling-stroke"/>
<polygon points="1302.4,342.5 1321.6,342.6 1321.6,349.0 1302.4,348.9" fill="#050b0c"/>
<line x1="1321.6" y1="342.6" x2="1321.6" y2="349.0" stroke="#0b1517" stroke-width="1.1700000000000002"/>
<line x1="1302.4" y1="342.5" x2="1302.4" y2="348.9" stroke="#0b1517" stroke-width="1.1700000000000002"/>
<circle r="1" transform="matrix(7.860,-3.135,5.475,4.590,1312.00,342.52)" fill="#3f5354" stroke="#0b1517" stroke-width="1.1700000000000002" vector-effect="non-scaling-stroke"/>
<circle r="1" transform="matrix(7.860,-3.135,5.475,4.590,1330.25,364.29)" fill="#050b0c" stroke="#0b1517" stroke-width="1.1700000000000002" vector-effect="non-scaling-stroke"/>
<polygon points="1320.7,357.8 1339.8,357.9 1339.8,364.3 1320.7,364.2" fill="#050b0c"/>
<line x1="1339.8" y1="357.9" x2="1339.8" y2="364.3" stroke="#0b1517" stroke-width="1.1700000000000002"/>
<line x1="1320.7" y1="357.8" x2="1320.7" y2="364.2" stroke="#0b1517" stroke-width="1.1700000000000002"/>
<circle r="1" transform="matrix(7.860,-3.135,5.475,4.590,1330.25,357.82)" fill="#3f5354" stroke="#0b1517" stroke-width="1.1700000000000002" vector-effect="non-scaling-stroke"/>
<circle r="1" transform="matrix(7.860,-3.135,5.475,4.590,1223.10,360.15)" fill="#0a1213" stroke="#0b1517" stroke-width="1.1700000000000002" vector-effect="non-scaling-stroke"/>
<polygon points="1213.5,353.6 1232.7,353.7 1232.7,360.2 1213.5,360.1" fill="#0a1213"/>
<line x1="1232.7" y1="353.7" x2="1232.7" y2="360.2" stroke="#0b1517" stroke-width="1.1700000000000002"/>
<line x1="1213.5" y1="353.6" x2="1213.5" y2="360.1" stroke="#0b1517" stroke-width="1.1700000000000002"/>
<circle r="1" transform="matrix(7.860,-3.135,5.475,4.590,1223.10,353.68)" fill="#a3b0b0" stroke="#0b1517" stroke-width="1.1700000000000002" vector-effect="non-scaling-stroke"/>
<circle r="1" transform="matrix(7.860,-3.135,5.475,4.590,1196.90,370.60)" fill="#0a1213" stroke="#0b1517" stroke-width="1.1700000000000002" vector-effect="non-scaling-stroke"/>
<polygon points="1187.3,364.1 1206.5,364.2 1206.5,370.7 1187.3,370.5" fill="#0a1213"/>
<line x1="1206.5" y1="364.2" x2="1206.5" y2="370.7" stroke="#0b1517" stroke-width="1.1700000000000002"/>
<line x1="1187.3" y1="364.1" x2="1187.3" y2="370.5" stroke="#0b1517" stroke-width="1.1700000000000002"/>
<circle r="1" transform="matrix(7.860,-3.135,5.475,4.590,1196.90,364.13)" fill="#a3b0b0" stroke="#0b1517" stroke-width="1.1700000000000002" vector-effect="non-scaling-stroke"/>
<circle r="1" transform="matrix(7.860,-3.135,5.475,4.590,1170.70,381.05)" fill="#0a1213" stroke="#0b1517" stroke-width="1.1700000000000002" vector-effect="non-scaling-stroke"/>
<polygon points="1161.1,374.5 1180.3,374.6 1180.3,381.1 1161.1,381.0" fill="#0a1213"/>
<line x1="1180.3" y1="374.6" x2="1180.3" y2="381.1" stroke="#0b1517" stroke-width="1.1700000000000002"/>
<line x1="1161.1" y1="374.5" x2="1161.1" y2="381.0" stroke="#0b1517" stroke-width="1.1700000000000002"/>
<circle r="1" transform="matrix(7.860,-3.135,5.475,4.590,1170.70,374.58)" fill="#a3b0b0" stroke="#0b1517" stroke-width="1.1700000000000002" vector-effect="non-scaling-stroke"/>
<circle r="1" transform="matrix(7.860,-3.135,5.475,4.590,1188.95,396.35)" fill="#0a1213" stroke="#0b1517" stroke-width="1.1700000000000002" vector-effect="non-scaling-stroke"/>
<polygon points="1179.4,389.8 1198.5,389.9 1198.5,396.4 1179.4,396.3" fill="#0a1213"/>
<line x1="1198.5" y1="389.9" x2="1198.5" y2="396.4" stroke="#0b1517" stroke-width="1.1700000000000002"/>
<line x1="1179.4" y1="389.8" x2="1179.4" y2="396.3" stroke="#0b1517" stroke-width="1.1700000000000002"/>
<circle r="1" transform="matrix(7.860,-3.135,5.475,4.590,1188.95,389.88)" fill="#a3b0b0" stroke="#0b1517" stroke-width="1.1700000000000002" vector-effect="non-scaling-stroke"/>
<circle r="1" transform="matrix(7.860,-3.135,5.475,4.590,1437.40,410.15)" fill="#0a1213" stroke="#0b1517" stroke-width="1.1700000000000002" vector-effect="non-scaling-stroke"/>
<polygon points="1427.8,403.6 1447.0,403.7 1447.0,410.2 1427.8,410.1" fill="#0a1213"/>
<line x1="1447.0" y1="403.7" x2="1447.0" y2="410.2" stroke="#0b1517" stroke-width="1.1700000000000002"/>
<line x1="1427.8" y1="403.6" x2="1427.8" y2="410.1" stroke="#0b1517" stroke-width="1.1700000000000002"/>
<circle r="1" transform="matrix(7.860,-3.135,5.475,4.590,1437.40,403.68)" fill="#a3b0b0" stroke="#0b1517" stroke-width="1.1700000000000002" vector-effect="non-scaling-stroke"/>
<circle r="1" transform="matrix(7.860,-3.135,5.475,4.590,1207.20,411.65)" fill="#0a1213" stroke="#0b1517" stroke-width="1.1700000000000002" vector-effect="non-scaling-stroke"/>
<polygon points="1197.6,405.1 1216.8,405.2 1216.8,411.7 1197.6,411.6" fill="#0a1213"/>
<line x1="1216.8" y1="405.2" x2="1216.8" y2="411.7" stroke="#0b1517" stroke-width="1.1700000000000002"/>
<line x1="1197.6" y1="405.1" x2="1197.6" y2="411.6" stroke="#0b1517" stroke-width="1.1700000000000002"/>
<circle r="1" transform="matrix(7.860,-3.135,5.475,4.590,1207.20,405.18)" fill="#a3b0b0" stroke="#0b1517" stroke-width="1.1700000000000002" vector-effect="non-scaling-stroke"/>
<circle r="1" transform="matrix(7.860,-3.135,5.475,4.590,1411.20,420.60)" fill="#0a1213" stroke="#0b1517" stroke-width="1.1700000000000002" vector-effect="non-scaling-stroke"/>
<polygon points="1401.6,414.1 1420.8,414.2 1420.8,420.7 1401.6,420.5" fill="#0a1213"/>
<line x1="1420.8" y1="414.2" x2="1420.8" y2="420.7" stroke="#0b1517" stroke-width="1.1700000000000002"/>
<line x1="1401.6" y1="414.1" x2="1401.6" y2="420.5" stroke="#0b1517" stroke-width="1.1700000000000002"/>
<circle r="1" transform="matrix(7.860,-3.135,5.475,4.590,1411.20,414.13)" fill="#a3b0b0" stroke="#0b1517" stroke-width="1.1700000000000002" vector-effect="non-scaling-stroke"/>
<circle r="1" transform="matrix(7.860,-3.135,5.475,4.590,1296.10,421.35)" fill="#0a1213" stroke="#0b1517" stroke-width="1.1700000000000002" vector-effect="non-scaling-stroke"/>
<polygon points="1286.5,414.8 1305.7,414.9 1305.7,421.4 1286.5,421.3" fill="#0a1213"/>
<line x1="1305.7" y1="414.9" x2="1305.7" y2="421.4" stroke="#0b1517" stroke-width="1.1700000000000002"/>
<line x1="1286.5" y1="414.8" x2="1286.5" y2="421.3" stroke="#0b1517" stroke-width="1.1700000000000002"/>
<circle r="1" transform="matrix(7.860,-3.135,5.475,4.590,1296.10,414.88)" fill="#a3b0b0" stroke="#0b1517" stroke-width="1.1700000000000002" vector-effect="non-scaling-stroke"/>
<circle r="1" transform="matrix(7.860,-3.135,5.475,4.590,1225.45,426.95)" fill="#0a1213" stroke="#0b1517" stroke-width="1.1700000000000002" vector-effect="non-scaling-stroke"/>
<polygon points="1215.9,420.4 1235.0,420.5 1235.0,427.0 1215.9,426.9" fill="#0a1213"/>
<line x1="1235.0" y1="420.5" x2="1235.0" y2="427.0" stroke="#0b1517" stroke-width="1.1700000000000002"/>
<line x1="1215.9" y1="420.4" x2="1215.9" y2="426.9" stroke="#0b1517" stroke-width="1.1700000000000002"/>
<circle r="1" transform="matrix(7.860,-3.135,5.475,4.590,1225.45,420.48)" fill="#a3b0b0" stroke="#0b1517" stroke-width="1.1700000000000002" vector-effect="non-scaling-stroke"/>
<circle r="1" transform="matrix(7.860,-3.135,5.475,4.590,1269.90,431.80)" fill="#0a1213" stroke="#0b1517" stroke-width="1.1700000000000002" vector-effect="non-scaling-stroke"/>
<polygon points="1260.3,425.3 1279.5,425.4 1279.5,431.9 1260.3,431.7" fill="#0a1213"/>
<line x1="1279.5" y1="425.4" x2="1279.5" y2="431.9" stroke="#0b1517" stroke-width="1.1700000000000002"/>
<line x1="1260.3" y1="425.3" x2="1260.3" y2="431.7" stroke="#0b1517" stroke-width="1.1700000000000002"/>
<circle r="1" transform="matrix(7.860,-3.135,5.475,4.590,1269.90,425.33)" fill="#a3b0b0" stroke="#0b1517" stroke-width="1.1700000000000002" vector-effect="non-scaling-stroke"/>
<circle r="1" transform="matrix(7.860,-3.135,5.475,4.590,1314.35,436.65)" fill="#0a1213" stroke="#0b1517" stroke-width="1.1700000000000002" vector-effect="non-scaling-stroke"/>
<polygon points="1304.8,430.1 1323.9,430.2 1323.9,436.7 1304.8,436.6" fill="#0a1213"/>
<line x1="1323.9" y1="430.2" x2="1323.9" y2="436.7" stroke="#0b1517" stroke-width="1.1700000000000002"/>
<line x1="1304.8" y1="430.1" x2="1304.8" y2="436.6" stroke="#0b1517" stroke-width="1.1700000000000002"/>
<circle r="1" transform="matrix(7.860,-3.135,5.475,4.590,1314.35,430.18)" fill="#a3b0b0" stroke="#0b1517" stroke-width="1.1700000000000002" vector-effect="non-scaling-stroke"/>
<circle r="1" transform="matrix(7.860,-3.135,5.475,4.590,1243.70,442.25)" fill="#0a1213" stroke="#0b1517" stroke-width="1.1700000000000002" vector-effect="non-scaling-stroke"/>
<polygon points="1234.1,435.7 1253.3,435.8 1253.3,442.3 1234.1,442.2" fill="#0a1213"/>
<line x1="1253.3" y1="435.8" x2="1253.3" y2="442.3" stroke="#0b1517" stroke-width="1.1700000000000002"/>
<line x1="1234.1" y1="435.7" x2="1234.1" y2="442.2" stroke="#0b1517" stroke-width="1.1700000000000002"/>
<circle r="1" transform="matrix(7.860,-3.135,5.475,4.590,1243.70,435.78)" fill="#a3b0b0" stroke="#0b1517" stroke-width="1.1700000000000002" vector-effect="non-scaling-stroke"/>
<circle r="1" transform="matrix(7.860,-3.135,5.475,4.590,1217.50,452.70)" fill="#0a1213" stroke="#0b1517" stroke-width="1.1700000000000002" vector-effect="non-scaling-stroke"/>
<polygon points="1207.9,446.2 1227.1,446.3 1227.1,452.8 1207.9,452.6" fill="#0a1213"/>
<line x1="1227.1" y1="446.3" x2="1227.1" y2="452.8" stroke="#0b1517" stroke-width="1.1700000000000002"/>
<line x1="1207.9" y1="446.2" x2="1207.9" y2="452.6" stroke="#0b1517" stroke-width="1.1700000000000002"/>
<circle r="1" transform="matrix(7.860,-3.135,5.475,4.590,1217.50,446.23)" fill="#a3b0b0" stroke="#0b1517" stroke-width="1.1700000000000002" vector-effect="non-scaling-stroke"/>
<polygon points="1408.2,1078.4 1410.7,1078.0 1400.0,1079.8 1383.0,1078.9 1380.3,1085.2 1371.3,1085.2 1353.5,1082.5 1351.7,1089.7 1339.0,1091.7 1339.0,1093.8 1303.4,1096.8 1283.7,1095.0 1281.9,1102.2 1255.0,1104.0 1255.0,1109.3 1214.8,1112.9 1214.5,1110.5" fill="#a2b0b0" stroke="#0b1517" stroke-width="1.1" stroke-linejoin="round"/>
<polygon points="1460.6,1047.0 1408.2,1067.9 1408.2,1078.4 1460.6,1057.5" fill="#a2b0b0" stroke="#0b1517" stroke-width="1.3" stroke-linejoin="round"/>
<polygon points="1408.2,1067.9 1214.5,1100.0 1214.5,1110.5 1408.2,1078.4" fill="#a2b0b0" stroke="#0b1517" stroke-width="1.3" stroke-linejoin="round"/>
<polygon points="1214.5,1100.0 1196.3,1084.7 1196.3,1095.2 1214.5,1110.5" fill="#9dabab" stroke="#0b1517" stroke-width="1.3" stroke-linejoin="round"/>
<polygon points="1196.3,1084.7 1100.0,1032.8 1100.0,1043.3 1196.3,1095.2" fill="#9dabab" stroke="#0b1517" stroke-width="1.3" stroke-linejoin="round"/>
<polygon points="1100.0,1032.8 1196.3,1084.7 1196.3,1095.2 1100.0,1043.3" fill="#31444a" stroke="#0b1517" stroke-width="1.1" stroke-linejoin="round"/>
<polygon points="1460.6,1036.6 1408.2,1057.5 1408.2,1067.9 1460.6,1047.0" fill="#a2b0b0" stroke="#0b1517" stroke-width="1.3" stroke-linejoin="round"/>
<polygon points="1408.2,1057.5 1214.5,1089.6 1214.5,1100.0 1408.2,1067.9" fill="#a2b0b0" stroke="#0b1517" stroke-width="1.3" stroke-linejoin="round"/>
<polygon points="1214.5,1089.6 1196.3,1074.3 1196.3,1084.7 1214.5,1100.0" fill="#9dabab" stroke="#0b1517" stroke-width="1.3" stroke-linejoin="round"/>
<polygon points="1196.3,1074.3 1087.9,1027.2 1087.9,1037.6 1196.3,1084.7" fill="#9dabab" stroke="#0b1517" stroke-width="1.3" stroke-linejoin="round"/>
<polygon points="1087.9,1027.2 1196.3,1074.3 1196.3,1084.7 1087.9,1037.6" fill="#31444a" stroke="#0b1517" stroke-width="1.1" stroke-linejoin="round"/>
<polygon points="1460.6,1026.2 1408.2,1047.1 1408.2,1057.5 1460.6,1036.6" fill="#a2b0b0" stroke="#0b1517" stroke-width="1.3" stroke-linejoin="round"/>
<polygon points="1408.2,1047.1 1214.5,1079.2 1214.5,1089.6 1408.2,1057.5" fill="#a2b0b0" stroke="#0b1517" stroke-width="1.3" stroke-linejoin="round"/>
<polygon points="1214.5,1079.2 1196.3,1063.9 1196.3,1074.3 1214.5,1089.6" fill="#9dabab" stroke="#0b1517" stroke-width="1.3" stroke-linejoin="round"/>
<polygon points="1196.3,1063.9 1087.9,1016.8 1087.9,1027.2 1196.3,1074.3" fill="#9dabab" stroke="#0b1517" stroke-width="1.3" stroke-linejoin="round"/>
<polygon points="1087.9,1016.8 1196.3,1063.9 1196.3,1074.3 1087.9,1027.2" fill="#31444a" stroke="#0b1517" stroke-width="1.1" stroke-linejoin="round"/>
<polygon points="1288.8,1078.3 1327.5,1071.9 1327.5,1081.3 1288.8,1087.7" fill="#5a6b6d" stroke="#0b1517" stroke-width="0.9" stroke-linejoin="round"/>
<polygon points="1434.4,1047.1 1460.6,1036.6 1460.6,1047.0 1434.4,1057.5" fill="#34484c" stroke="#0b1517" stroke-width="0.9" stroke-linejoin="round"/>
<polygon points="1096.5,1030.3 1106.0,1035.8 1116.0,1040.8 1124.5,1044.8 1124.5,1050.3 1116.0,1047.3 1106.0,1043.8 1098.0,1039.3 1096.5,1037.3" fill="#9aa8a8" stroke="#0b1517" stroke-width="0.9" stroke-linejoin="round"/>
<polygon points="1088.3,1018.9 1092.0,1017.5 1096.5,1019.8 1096.5,1032.6 1090.3,1031.9 1088.3,1030.5" fill="#9aa8a8" stroke="#0b1517" stroke-width="0.9" stroke-linejoin="round"/>
<polygon points="1149.5,992.2 1332.9,919.1 1460.6,1026.2 1408.2,1047.1 1214.5,1079.2 1196.3,1063.9 1222.5,1053.4" fill="#8fa3a2" stroke="#0b1517" stroke-width="1.1" stroke-linejoin="round"/>
<polygon points="1087.9,1016.8 1149.5,992.2 1222.5,1053.4 1196.3,1063.9" fill="#3a4f4f" stroke="#0b1517" stroke-width="1.1" stroke-linejoin="round"/>
<line x1="1222.5" y1="1053.4" x2="1353.5" y2="1001.2" stroke="#0b1517" stroke-width="0.9"/>
<line x1="1353.5" y1="1001.2" x2="1408.2" y2="1047.1" stroke="#0b1517" stroke-width="0.9"/>
<circle r="1" transform="matrix(7.860,-3.135,5.475,4.590,1145.50,1005.10)" fill="#050b0c" stroke="#0b1517" stroke-width="1.1700000000000002" vector-effect="non-scaling-stroke"/>
<polygon points="1135.9,998.6 1155.1,998.7 1155.1,1005.2 1135.9,1005.0" fill="#050b0c"/>
<line x1="1155.1" y1="998.7" x2="1155.1" y2="1005.2" stroke="#0b1517" stroke-width="1.1700000000000002"/>
<line x1="1135.9" y1="998.6" x2="1135.9" y2="1005.0" stroke="#0b1517" stroke-width="1.1700000000000002"/>
<circle r="1" transform="matrix(7.860,-3.135,5.475,4.590,1145.50,998.63)" fill="#3f5354" stroke="#0b1517" stroke-width="1.1700000000000002" vector-effect="non-scaling-stroke"/>
<circle r="1" transform="matrix(7.860,-3.135,5.475,4.590,1163.75,1020.40)" fill="#050b0c" stroke="#0b1517" stroke-width="1.1700000000000002" vector-effect="non-scaling-stroke"/>
<polygon points="1154.2,1013.9 1173.3,1014.0 1173.3,1020.5 1154.2,1020.3" fill="#050b0c"/>
<line x1="1173.3" y1="1014.0" x2="1173.3" y2="1020.5" stroke="#0b1517" stroke-width="1.1700000000000002"/>
<line x1="1154.2" y1="1013.9" x2="1154.2" y2="1020.3" stroke="#0b1517" stroke-width="1.1700000000000002"/>
<circle r="1" transform="matrix(7.860,-3.135,5.475,4.590,1163.75,1013.93)" fill="#3f5354" stroke="#0b1517" stroke-width="1.1700000000000002" vector-effect="non-scaling-stroke"/>
<circle r="1" transform="matrix(7.860,-3.135,5.475,4.590,1182.00,1035.70)" fill="#050b0c" stroke="#0b1517" stroke-width="1.1700000000000002" vector-effect="non-scaling-stroke"/>
<polygon points="1172.4,1029.2 1191.6,1029.3 1191.6,1035.8 1172.4,1035.6" fill="#050b0c"/>
<line x1="1191.6" y1="1029.3" x2="1191.6" y2="1035.8" stroke="#0b1517" stroke-width="1.1700000000000002"/>
<line x1="1172.4" y1="1029.2" x2="1172.4" y2="1035.6" stroke="#0b1517" stroke-width="1.1700000000000002"/>
<circle r="1" transform="matrix(7.860,-3.135,5.475,4.590,1182.00,1029.23)" fill="#3f5354" stroke="#0b1517" stroke-width="1.1700000000000002" vector-effect="non-scaling-stroke"/>
<circle r="1" transform="matrix(7.860,-3.135,5.475,4.590,1200.25,1051.00)" fill="#050b0c" stroke="#0b1517" stroke-width="1.1700000000000002" vector-effect="non-scaling-stroke"/>
<polygon points="1190.7,1044.5 1209.8,1044.6 1209.8,1051.1 1190.7,1050.9" fill="#050b0c"/>
<line x1="1209.8" y1="1044.6" x2="1209.8" y2="1051.1" stroke="#0b1517" stroke-width="1.1700000000000002"/>
<line x1="1190.7" y1="1044.5" x2="1190.7" y2="1050.9" stroke="#0b1517" stroke-width="1.1700000000000002"/>
<circle r="1" transform="matrix(7.860,-3.135,5.475,4.590,1200.25,1044.53)" fill="#3f5354" stroke="#0b1517" stroke-width="1.1700000000000002" vector-effect="non-scaling-stroke"/>
<polygon points="1405.9,969.8 1379.7,980.3 1379.7,990.7 1405.9,980.3" fill="#121617" stroke="#8f9a9a" stroke-width="1.3" stroke-linejoin="round"/>
<polygon points="1379.7,980.3 1306.7,919.1 1306.7,929.5 1379.7,990.7" fill="#101314" stroke="#8f9a9a" stroke-width="1.3" stroke-linejoin="round"/>
<polygon points="1306.7,919.1 1332.9,908.6 1405.9,969.8 1379.7,980.3" fill="#15191a" stroke="#8f9a9a" stroke-width="1.3" stroke-linejoin="round"/>
<circle r="1" transform="matrix(7.860,-3.135,5.475,4.590,1328.90,921.52)" fill="#050707" stroke="#8f9a9a" stroke-width="1.1700000000000002" vector-effect="non-scaling-stroke"/>
<polygon points="1319.3,915.0 1338.5,915.1 1338.5,921.6 1319.3,921.5" fill="#050707"/>
<line x1="1338.5" y1="915.1" x2="1338.5" y2="921.6" stroke="#8f9a9a" stroke-width="1.1700000000000002"/>
<line x1="1319.3" y1="915.0" x2="1319.3" y2="921.5" stroke="#8f9a9a" stroke-width="1.1700000000000002"/>
<circle r="1" transform="matrix(7.860,-3.135,5.475,4.590,1328.90,915.05)" fill="#15191a" stroke="#8f9a9a" stroke-width="1.1700000000000002" vector-effect="non-scaling-stroke"/>
<circle r="1" transform="matrix(7.860,-3.135,5.475,4.590,1347.15,936.82)" fill="#050707" stroke="#8f9a9a" stroke-width="1.1700000000000002" vector-effect="non-scaling-stroke"/>
<polygon points="1337.6,930.3 1356.7,930.4 1356.7,936.9 1337.6,936.8" fill="#050707"/>
<line x1="1356.7" y1="930.4" x2="1356.7" y2="936.9" stroke="#8f9a9a" stroke-width="1.1700000000000002"/>
<line x1="1337.6" y1="930.3" x2="1337.6" y2="936.8" stroke="#8f9a9a" stroke-width="1.1700000000000002"/>
<circle r="1" transform="matrix(7.860,-3.135,5.475,4.590,1347.15,930.35)" fill="#15191a" stroke="#8f9a9a" stroke-width="1.1700000000000002" vector-effect="non-scaling-stroke"/>
<circle r="1" transform="matrix(7.860,-3.135,5.475,4.590,1365.40,952.12)" fill="#050707" stroke="#8f9a9a" stroke-width="1.1700000000000002" vector-effect="non-scaling-stroke"/>
<polygon points="1355.8,945.6 1375.0,945.7 1375.0,952.2 1355.8,952.1" fill="#050707"/>
<line x1="1375.0" y1="945.7" x2="1375.0" y2="952.2" stroke="#8f9a9a" stroke-width="1.1700000000000002"/>
<line x1="1355.8" y1="945.6" x2="1355.8" y2="952.1" stroke="#8f9a9a" stroke-width="1.1700000000000002"/>
<circle r="1" transform="matrix(7.860,-3.135,5.475,4.590,1365.40,945.65)" fill="#15191a" stroke="#8f9a9a" stroke-width="1.1700000000000002" vector-effect="non-scaling-stroke"/>
<circle r="1" transform="matrix(7.860,-3.135,5.475,4.590,1383.65,967.42)" fill="#050707" stroke="#8f9a9a" stroke-width="1.1700000000000002" vector-effect="non-scaling-stroke"/>
<polygon points="1374.1,960.9 1393.2,961.0 1393.2,967.5 1374.1,967.4" fill="#050707"/>
<line x1="1393.2" y1="961.0" x2="1393.2" y2="967.5" stroke="#8f9a9a" stroke-width="1.1700000000000002"/>
<line x1="1374.1" y1="960.9" x2="1374.1" y2="967.4" stroke="#8f9a9a" stroke-width="1.1700000000000002"/>
<circle r="1" transform="matrix(7.860,-3.135,5.475,4.590,1383.65,960.95)" fill="#15191a" stroke="#8f9a9a" stroke-width="1.1700000000000002" vector-effect="non-scaling-stroke"/>
<polygon points="1361.4,967.1 1335.2,977.5 1335.2,985.9 1361.4,975.4" fill="#121617" stroke="#8f9a9a" stroke-width="1.3" stroke-linejoin="round"/>
<polygon points="1335.2,977.5 1280.5,931.6 1280.5,940.0 1335.2,985.9" fill="#101314" stroke="#8f9a9a" stroke-width="1.3" stroke-linejoin="round"/>
<polygon points="1280.5,931.6 1306.7,921.2 1361.4,967.1 1335.2,977.5" fill="#15191a" stroke="#8f9a9a" stroke-width="1.3" stroke-linejoin="round"/>
<ellipse cx="1302.7" cy="932.1" rx="7" ry="4" fill="#1a1e1f" stroke="#b9c2c2" stroke-width="1.2"/>
<ellipse cx="1321.0" cy="947.4" rx="7" ry="4" fill="#1a1e1f" stroke="#b9c2c2" stroke-width="1.2"/>
<ellipse cx="1339.2" cy="962.7" rx="7" ry="4" fill="#1a1e1f" stroke="#b9c2c2" stroke-width="1.2"/>
<polygon points="1353.5,990.7 1327.3,1001.2 1327.3,1011.6 1353.5,1001.2" fill="#34484c" stroke="#0b1517" stroke-width="1.3" stroke-linejoin="round"/>
<polygon points="1327.3,1001.2 1228.1,950.4 1228.1,960.9 1327.3,1011.6" fill="#31444a" stroke="#0b1517" stroke-width="1.3" stroke-linejoin="round"/>
<polygon points="1228.1,950.4 1280.5,929.5 1353.5,990.7 1327.3,1001.2" fill="#3a4f4f" stroke="#0b1517" stroke-width="1.3" stroke-linejoin="round"/>
<polygon points="1353.5,980.3 1327.3,990.8 1327.3,1001.2 1353.5,990.7" fill="#34484c" stroke="#0b1517" stroke-width="1.3" stroke-linejoin="round"/>
<polygon points="1327.3,990.8 1228.1,940.0 1228.1,950.4 1327.3,1001.2" fill="#31444a" stroke="#0b1517" stroke-width="1.3" stroke-linejoin="round"/>
<polygon points="1228.1,940.0 1280.5,919.1 1353.5,980.3 1327.3,990.8" fill="#3a4f4f" stroke="#0b1517" stroke-width="1.3" stroke-linejoin="round"/>
<circle r="1" transform="matrix(7.860,-3.135,5.475,4.590,1276.50,931.99)" fill="#050b0c" stroke="#0b1517" stroke-width="1.1700000000000002" vector-effect="non-scaling-stroke"/>
<polygon points="1266.9,925.5 1286.1,925.6 1286.1,932.0 1266.9,931.9" fill="#050b0c"/>
<line x1="1286.1" y1="925.6" x2="1286.1" y2="932.0" stroke="#0b1517" stroke-width="1.1700000000000002"/>
<line x1="1266.9" y1="925.5" x2="1266.9" y2="931.9" stroke="#0b1517" stroke-width="1.1700000000000002"/>
<circle r="1" transform="matrix(7.860,-3.135,5.475,4.590,1276.50,925.52)" fill="#3f5354" stroke="#0b1517" stroke-width="1.1700000000000002" vector-effect="non-scaling-stroke"/>
<circle r="1" transform="matrix(7.860,-3.135,5.475,4.590,1294.75,947.29)" fill="#050b0c" stroke="#0b1517" stroke-width="1.1700000000000002" vector-effect="non-scaling-stroke"/>
<polygon points="1285.2,940.8 1304.3,940.9 1304.3,947.3 1285.2,947.2" fill="#050b0c"/>
<line x1="1304.3" y1="940.9" x2="1304.3" y2="947.3" stroke="#0b1517" stroke-width="1.1700000000000002"/>
<line x1="1285.2" y1="940.8" x2="1285.2" y2="947.2" stroke="#0b1517" stroke-width="1.1700000000000002"/>
<circle r="1" transform="matrix(7.860,-3.135,5.475,4.590,1294.75,940.82)" fill="#3f5354" stroke="#0b1517" stroke-width="1.1700000000000002" vector-effect="non-scaling-stroke"/>
<circle r="1" transform="matrix(7.860,-3.135,5.475,4.590,1313.00,962.59)" fill="#050b0c" stroke="#0b1517" stroke-width="1.1700000000000002" vector-effect="non-scaling-stroke"/>
<polygon points="1303.4,956.1 1322.6,956.2 1322.6,962.6 1303.4,962.5" fill="#050b0c"/>
<line x1="1322.6" y1="956.2" x2="1322.6" y2="962.6" stroke="#0b1517" stroke-width="1.1700000000000002"/>
<line x1="1303.4" y1="956.1" x2="1303.4" y2="962.5" stroke="#0b1517" stroke-width="1.1700000000000002"/>
<circle r="1" transform="matrix(7.860,-3.135,5.475,4.590,1313.00,956.12)" fill="#3f5354" stroke="#0b1517" stroke-width="1.1700000000000002" vector-effect="non-scaling-stroke"/>
<circle r="1" transform="matrix(7.860,-3.135,5.475,4.590,1331.25,977.89)" fill="#050b0c" stroke="#0b1517" stroke-width="1.1700000000000002" vector-effect="non-scaling-stroke"/>
<polygon points="1321.7,971.4 1340.8,971.5 1340.8,977.9 1321.7,977.8" fill="#050b0c"/>
<line x1="1340.8" y1="971.5" x2="1340.8" y2="977.9" stroke="#0b1517" stroke-width="1.1700000000000002"/>
<line x1="1321.7" y1="971.4" x2="1321.7" y2="977.8" stroke="#0b1517" stroke-width="1.1700000000000002"/>
<circle r="1" transform="matrix(7.860,-3.135,5.475,4.590,1331.25,971.42)" fill="#3f5354" stroke="#0b1517" stroke-width="1.1700000000000002" vector-effect="non-scaling-stroke"/>
<polygon points="1442.4,1000.4 1337.6,1042.2 1337.6,1052.7 1442.4,1010.9" fill="#34484c" stroke="#0b1517" stroke-width="1.3" stroke-linejoin="round"/>
<polygon points="1337.6,1042.2 1301.1,1011.6 1301.1,1022.1 1337.6,1052.7" fill="#31444a" stroke="#0b1517" stroke-width="1.3" stroke-linejoin="round"/>
<polygon points="1301.1,1011.6 1405.9,969.8 1442.4,1000.4 1337.6,1042.2" fill="#3a4f4f" stroke="#0b1517" stroke-width="1.3" stroke-linejoin="round"/>
<polygon points="1442.4,990.0 1416.2,1000.5 1416.2,1010.9 1442.4,1000.4" fill="#34484c" stroke="#0b1517" stroke-width="1.3" stroke-linejoin="round"/>
<polygon points="1416.2,1000.5 1306.7,908.7 1306.7,919.1 1416.2,1010.9" fill="#31444a" stroke="#0b1517" stroke-width="1.3" stroke-linejoin="round"/>
<polygon points="1306.7,908.7 1332.9,898.2 1442.4,990.0 1416.2,1000.5" fill="#3a4f4f" stroke="#0b1517" stroke-width="1.3" stroke-linejoin="round"/>
<circle r="1" transform="matrix(7.860,-3.135,5.475,4.590,1328.90,911.09)" fill="#050b0c" stroke="#0b1517" stroke-width="1.1700000000000002" vector-effect="non-scaling-stroke"/>
<polygon points="1319.3,904.6 1338.5,904.7 1338.5,911.1 1319.3,911.0" fill="#050b0c"/>
<line x1="1338.5" y1="904.7" x2="1338.5" y2="911.1" stroke="#0b1517" stroke-width="1.1700000000000002"/>
<line x1="1319.3" y1="904.6" x2="1319.3" y2="911.0" stroke="#0b1517" stroke-width="1.1700000000000002"/>
<circle r="1" transform="matrix(7.860,-3.135,5.475,4.590,1328.90,904.62)" fill="#3f5354" stroke="#0b1517" stroke-width="1.1700000000000002" vector-effect="non-scaling-stroke"/>
<circle r="1" transform="matrix(7.860,-3.135,5.475,4.590,1347.15,926.39)" fill="#050b0c" stroke="#0b1517" stroke-width="1.1700000000000002" vector-effect="non-scaling-stroke"/>
<polygon points="1337.6,919.9 1356.7,920.0 1356.7,926.4 1337.6,926.3" fill="#050b0c"/>
<line x1="1356.7" y1="920.0" x2="1356.7" y2="926.4" stroke="#0b1517" stroke-width="1.1700000000000002"/>
<line x1="1337.6" y1="919.9" x2="1337.6" y2="926.3" stroke="#0b1517" stroke-width="1.1700000000000002"/>
<circle r="1" transform="matrix(7.860,-3.135,5.475,4.590,1347.15,919.92)" fill="#3f5354" stroke="#0b1517" stroke-width="1.1700000000000002" vector-effect="non-scaling-stroke"/>
<circle r="1" transform="matrix(7.860,-3.135,5.475,4.590,1365.40,941.69)" fill="#050b0c" stroke="#0b1517" stroke-width="1.1700000000000002" vector-effect="non-scaling-stroke"/>
<polygon points="1355.8,935.2 1375.0,935.3 1375.0,941.7 1355.8,941.6" fill="#050b0c"/>
<line x1="1375.0" y1="935.3" x2="1375.0" y2="941.7" stroke="#0b1517" stroke-width="1.1700000000000002"/>
<line x1="1355.8" y1="935.2" x2="1355.8" y2="941.6" stroke="#0b1517" stroke-width="1.1700000000000002"/>
<circle r="1" transform="matrix(7.860,-3.135,5.475,4.590,1365.40,935.22)" fill="#3f5354" stroke="#0b1517" stroke-width="1.1700000000000002" vector-effect="non-scaling-stroke"/>
<circle r="1" transform="matrix(7.860,-3.135,5.475,4.590,1383.65,956.99)" fill="#050b0c" stroke="#0b1517" stroke-width="1.1700000000000002" vector-effect="non-scaling-stroke"/>
<polygon points="1374.1,950.5 1393.2,950.6 1393.2,957.0 1374.1,956.9" fill="#050b0c"/>
<line x1="1393.2" y1="950.6" x2="1393.2" y2="957.0" stroke="#0b1517" stroke-width="1.1700000000000002"/>
<line x1="1374.1" y1="950.5" x2="1374.1" y2="956.9" stroke="#0b1517" stroke-width="1.1700000000000002"/>
<circle r="1" transform="matrix(7.860,-3.135,5.475,4.590,1383.65,950.52)" fill="#3f5354" stroke="#0b1517" stroke-width="1.1700000000000002" vector-effect="non-scaling-stroke"/>
<circle r="1" transform="matrix(7.860,-3.135,5.475,4.590,1401.90,972.29)" fill="#050b0c" stroke="#0b1517" stroke-width="1.1700000000000002" vector-effect="non-scaling-stroke"/>
<polygon points="1392.3,965.8 1411.5,965.9 1411.5,972.3 1392.3,972.2" fill="#050b0c"/>
<line x1="1411.5" y1="965.9" x2="1411.5" y2="972.3" stroke="#0b1517" stroke-width="1.1700000000000002"/>
<line x1="1392.3" y1="965.8" x2="1392.3" y2="972.2" stroke="#0b1517" stroke-width="1.1700000000000002"/>
<circle r="1" transform="matrix(7.860,-3.135,5.475,4.590,1401.90,965.82)" fill="#3f5354" stroke="#0b1517" stroke-width="1.1700000000000002" vector-effect="non-scaling-stroke"/>
<circle r="1" transform="matrix(7.860,-3.135,5.475,4.590,1420.15,987.59)" fill="#050b0c" stroke="#0b1517" stroke-width="1.1700000000000002" vector-effect="non-scaling-stroke"/>
<polygon points="1410.6,981.1 1429.7,981.2 1429.7,987.6 1410.6,987.5" fill="#050b0c"/>
<line x1="1429.7" y1="981.2" x2="1429.7" y2="987.6" stroke="#0b1517" stroke-width="1.1700000000000002"/>
<line x1="1410.6" y1="981.1" x2="1410.6" y2="987.5" stroke="#0b1517" stroke-width="1.1700000000000002"/>
<circle r="1" transform="matrix(7.860,-3.135,5.475,4.590,1420.15,981.12)" fill="#3f5354" stroke="#0b1517" stroke-width="1.1700000000000002" vector-effect="non-scaling-stroke"/>
<polygon points="1353.5,983.8 1335.2,968.5 1335.2,975.4 1353.5,990.7" fill="#31444a" stroke="#0b1517" stroke-width="1.3" stroke-linejoin="round"/>
<polygon points="1416.2,1003.9 1390.0,1014.4 1390.0,1021.3 1416.2,1010.9" fill="#34484c" stroke="#0b1517" stroke-width="1.3" stroke-linejoin="round"/>
<polygon points="1390.0,1014.4 1371.7,999.1 1371.7,1006.0 1390.0,1021.3" fill="#31444a" stroke="#0b1517" stroke-width="1.3" stroke-linejoin="round"/>
<polygon points="1371.7,999.1 1319.3,1020.0 1319.3,1026.9 1371.7,1006.0" fill="#34484c" stroke="#0b1517" stroke-width="1.3" stroke-linejoin="round"/>
<polygon points="1319.3,1020.0 1301.1,1004.7 1301.1,1011.6 1319.3,1026.9" fill="#31444a" stroke="#0b1517" stroke-width="1.3" stroke-linejoin="round"/>
<polygon points="1301.1,1004.7 1353.5,983.8 1335.2,968.5 1361.4,958.0 1416.2,1003.9 1390.0,1014.4 1371.7,999.1 1319.3,1020.0" fill="#3a4f4f" stroke="#0b1517" stroke-width="1.3" stroke-linejoin="round"/>
<line x1="1309.1" y1="1003.3" x2="1324.4" y2="1016.1" stroke="#141f21" stroke-width="1.3"/>
<line x1="1315.6" y1="1000.7" x2="1331.0" y2="1013.5" stroke="#141f21" stroke-width="1.3"/>
<line x1="1322.2" y1="998.0" x2="1337.5" y2="1010.9" stroke="#141f21" stroke-width="1.3"/>
<line x1="1328.7" y1="995.4" x2="1344.1" y2="1008.3" stroke="#141f21" stroke-width="1.3"/>
<line x1="1335.3" y1="992.8" x2="1350.6" y2="1005.7" stroke="#141f21" stroke-width="1.3"/>
<line x1="1341.8" y1="990.2" x2="1357.2" y2="1003.1" stroke="#141f21" stroke-width="1.3"/>
<line x1="1348.4" y1="987.6" x2="1363.7" y2="1000.4" stroke="#141f21" stroke-width="1.3"/>
<line x1="1336.7" y1="969.7" x2="1388.5" y2="1013.1" stroke="#141f21" stroke-width="1.3"/>
<line x1="1343.2" y1="967.1" x2="1395.1" y2="1010.5" stroke="#141f21" stroke-width="1.3"/>
<line x1="1349.8" y1="964.5" x2="1401.6" y2="1007.9" stroke="#141f21" stroke-width="1.3"/>
<line x1="1356.3" y1="961.8" x2="1408.2" y2="1005.3" stroke="#141f21" stroke-width="1.3"/>
<path d="M1355.2,1008.5 L1355.2,1018.9 A12.5,7.2 0 0 0 1380.2,1018.9 L1380.2,1008.5 Z" fill="#9aa3a3" stroke="#0b1517" stroke-width="1"/>
<path d="M1355.2,1011.6 A12.5,7.2 0 0 0 1380.2,1011.6" fill="none" stroke="#e8eeee" stroke-width="1.2"/>
<path d="M1355.2,1014.7 A12.5,7.2 0 0 0 1380.2,1014.7" fill="none" stroke="#e8eeee" stroke-width="1.2"/>
<path d="M1355.2,1017.9 A12.5,7.2 0 0 0 1380.2,1017.9" fill="none" stroke="#e8eeee" stroke-width="1.2"/>
<ellipse cx="1367.8" cy="1008.5" rx="12.5" ry="7.2" fill="#cfd6d6" stroke="#0b1517" stroke-width="1"/>
<ellipse cx="1367.8" cy="1009.7" rx="8.5" ry="4.5" fill="#070d0e"/>
<ellipse cx="1367.8" cy="1006.5" rx="6.2" ry="1.8" fill="#5d6868"/>
<path d="M1329.0,1018.9 L1329.0,1029.4 A12.5,7.2 0 0 0 1354.0,1029.4 L1354.0,1018.9 Z" fill="#9aa3a3" stroke="#0b1517" stroke-width="1"/>
<path d="M1329.0,1022.1 A12.5,7.2 0 0 0 1354.0,1022.1" fill="none" stroke="#e8eeee" stroke-width="1.2"/>
<path d="M1329.0,1025.2 A12.5,7.2 0 0 0 1354.0,1025.2" fill="none" stroke="#e8eeee" stroke-width="1.2"/>
<path d="M1329.0,1028.3 A12.5,7.2 0 0 0 1354.0,1028.3" fill="none" stroke="#e8eeee" stroke-width="1.2"/>
<ellipse cx="1341.5" cy="1018.9" rx="12.5" ry="7.2" fill="#cfd6d6" stroke="#0b1517" stroke-width="1"/>
<ellipse cx="1341.5" cy="1020.1" rx="8.5" ry="4.5" fill="#070d0e"/>
<ellipse cx="1341.5" cy="1016.9" rx="6.2" ry="1.8" fill="#5d6868"/>
<circle r="1" transform="matrix(7.860,-3.135,5.475,4.590,1313.00,962.59)" fill="#050b0c" stroke="#0b1517" stroke-width="1.1700000000000002" vector-effect="non-scaling-stroke"/>
<polygon points="1303.4,956.1 1322.6,956.2 1322.6,962.6 1303.4,962.5" fill="#050b0c"/>
<line x1="1322.6" y1="956.2" x2="1322.6" y2="962.6" stroke="#0b1517" stroke-width="1.1700000000000002"/>
<line x1="1303.4" y1="956.1" x2="1303.4" y2="962.5" stroke="#0b1517" stroke-width="1.1700000000000002"/>
<circle r="1" transform="matrix(7.860,-3.135,5.475,4.590,1313.00,956.12)" fill="#3f5354" stroke="#0b1517" stroke-width="1.1700000000000002" vector-effect="non-scaling-stroke"/>
<circle r="1" transform="matrix(7.860,-3.135,5.475,4.590,1331.25,977.89)" fill="#050b0c" stroke="#0b1517" stroke-width="1.1700000000000002" vector-effect="non-scaling-stroke"/>
<polygon points="1321.7,971.4 1340.8,971.5 1340.8,977.9 1321.7,977.8" fill="#050b0c"/>
<line x1="1340.8" y1="971.5" x2="1340.8" y2="977.9" stroke="#0b1517" stroke-width="1.1700000000000002"/>
<line x1="1321.7" y1="971.4" x2="1321.7" y2="977.8" stroke="#0b1517" stroke-width="1.1700000000000002"/>
<circle r="1" transform="matrix(7.860,-3.135,5.475,4.590,1331.25,971.42)" fill="#3f5354" stroke="#0b1517" stroke-width="1.1700000000000002" vector-effect="non-scaling-stroke"/>
<polygon points="1424.1,964.3 1319.3,1006.1 1319.3,1016.5 1424.1,974.7" fill="#a2b0b0" stroke="#0b1517" stroke-width="1.3" stroke-linejoin="round"/>
<polygon points="1319.3,1006.1 1209.8,914.3 1209.8,924.7 1319.3,1016.5" fill="#9dabab" stroke="#0b1517" stroke-width="1.3" stroke-linejoin="round"/>
<polygon points="1209.8,914.3 1314.6,872.5 1424.1,964.3 1319.3,1006.1" fill="#8fa3a2" stroke="#0b1517" stroke-width="1.3" stroke-linejoin="round"/>
<polygon points="1442.4,979.6 1337.6,1021.4 1337.6,1031.8 1442.4,990.0" fill="#a2b0b0" stroke="#0b1517" stroke-width="1.3" stroke-linejoin="round"/>
<polygon points="1337.6,1021.4 1319.3,1006.1 1319.3,1016.5 1337.6,1031.8" fill="#9dabab" stroke="#0b1517" stroke-width="1.3" stroke-linejoin="round"/>
<polygon points="1319.3,1006.1 1424.1,964.3 1442.4,979.6 1337.6,1021.4" fill="#8fa3a2" stroke="#0b1517" stroke-width="1.3" stroke-linejoin="round"/>
<circle r="1" transform="matrix(7.860,-3.135,5.475,4.590,1310.65,885.36)" fill="#0a1213" stroke="#0b1517" stroke-width="1.1700000000000002" vector-effect="non-scaling-stroke"/>
<polygon points="1301.1,878.8 1320.2,878.9 1320.2,885.4 1301.1,885.3" fill="#0a1213"/>
<line x1="1320.2" y1="878.9" x2="1320.2" y2="885.4" stroke="#0b1517" stroke-width="1.1700000000000002"/>
<line x1="1301.1" y1="878.8" x2="1301.1" y2="885.3" stroke="#0b1517" stroke-width="1.1700000000000002"/>
<circle r="1" transform="matrix(7.860,-3.135,5.475,4.590,1310.65,878.89)" fill="#a3b0b0" stroke="#0b1517" stroke-width="1.1700000000000002" vector-effect="non-scaling-stroke"/>
<circle r="1" transform="matrix(7.860,-3.135,5.475,4.590,1284.45,895.81)" fill="#0a1213" stroke="#0b1517" stroke-width="1.1700000000000002" vector-effect="non-scaling-stroke"/>
<polygon points="1274.9,889.3 1294.0,889.4 1294.0,895.9 1274.9,895.8" fill="#0a1213"/>
<line x1="1294.0" y1="889.4" x2="1294.0" y2="895.9" stroke="#0b1517" stroke-width="1.1700000000000002"/>
<line x1="1274.9" y1="889.3" x2="1274.9" y2="895.8" stroke="#0b1517" stroke-width="1.1700000000000002"/>
<circle r="1" transform="matrix(7.860,-3.135,5.475,4.590,1284.45,889.34)" fill="#a3b0b0" stroke="#0b1517" stroke-width="1.1700000000000002" vector-effect="non-scaling-stroke"/>
<circle r="1" transform="matrix(7.860,-3.135,5.475,4.590,1328.90,900.66)" fill="#0a1213" stroke="#0b1517" stroke-width="1.1700000000000002" vector-effect="non-scaling-stroke"/>
<polygon points="1319.3,894.1 1338.5,894.2 1338.5,900.7 1319.3,900.6" fill="#0a1213"/>
<line x1="1338.5" y1="894.2" x2="1338.5" y2="900.7" stroke="#0b1517" stroke-width="1.1700000000000002"/>
<line x1="1319.3" y1="894.1" x2="1319.3" y2="900.6" stroke="#0b1517" stroke-width="1.1700000000000002"/>
<circle r="1" transform="matrix(7.860,-3.135,5.475,4.590,1328.90,894.19)" fill="#a3b0b0" stroke="#0b1517" stroke-width="1.1700000000000002" vector-effect="non-scaling-stroke"/>
<circle r="1" transform="matrix(7.860,-3.135,5.475,4.590,1258.25,906.26)" fill="#0a1213" stroke="#0b1517" stroke-width="1.1700000000000002" vector-effect="non-scaling-stroke"/>
<polygon points="1248.7,899.7 1267.8,899.8 1267.8,906.3 1248.7,906.2" fill="#0a1213"/>
<line x1="1267.8" y1="899.8" x2="1267.8" y2="906.3" stroke="#0b1517" stroke-width="1.1700000000000002"/>
<line x1="1248.7" y1="899.7" x2="1248.7" y2="906.2" stroke="#0b1517" stroke-width="1.1700000000000002"/>
<circle r="1" transform="matrix(7.860,-3.135,5.475,4.590,1258.25,899.79)" fill="#a3b0b0" stroke="#0b1517" stroke-width="1.1700000000000002" vector-effect="non-scaling-stroke"/>
<circle r="1" transform="matrix(7.860,-3.135,5.475,4.590,1347.15,915.96)" fill="#0a1213" stroke="#0b1517" stroke-width="1.1700000000000002" vector-effect="non-scaling-stroke"/>
<polygon points="1337.6,909.4 1356.7,909.5 1356.7,916.0 1337.6,915.9" fill="#0a1213"/>
<line x1="1356.7" y1="909.5" x2="1356.7" y2="916.0" stroke="#0b1517" stroke-width="1.1700000000000002"/>
<line x1="1337.6" y1="909.4" x2="1337.6" y2="915.9" stroke="#0b1517" stroke-width="1.1700000000000002"/>
<circle r="1" transform="matrix(7.860,-3.135,5.475,4.590,1347.15,909.49)" fill="#a3b0b0" stroke="#0b1517" stroke-width="1.1700000000000002" vector-effect="non-scaling-stroke"/>
<circle r="1" transform="matrix(7.860,-3.135,5.475,4.590,1232.05,916.71)" fill="#0a1213" stroke="#0b1517" stroke-width="1.1700000000000002" vector-effect="non-scaling-stroke"/>
<polygon points="1222.5,910.2 1241.6,910.3 1241.6,916.8 1222.5,916.7" fill="#0a1213"/>
<line x1="1241.6" y1="910.3" x2="1241.6" y2="916.8" stroke="#0b1517" stroke-width="1.1700000000000002"/>
<line x1="1222.5" y1="910.2" x2="1222.5" y2="916.7" stroke="#0b1517" stroke-width="1.1700000000000002"/>
<circle r="1" transform="matrix(7.860,-3.135,5.475,4.590,1232.05,910.24)" fill="#a3b0b0" stroke="#0b1517" stroke-width="1.1700000000000002" vector-effect="non-scaling-stroke"/>
<circle r="1" transform="matrix(7.860,-3.135,5.475,4.590,1365.40,931.26)" fill="#0a1213" stroke="#0b1517" stroke-width="1.1700000000000002" vector-effect="non-scaling-stroke"/>
<polygon points="1355.8,924.7 1375.0,924.8 1375.0,931.3 1355.8,931.2" fill="#0a1213"/>
<line x1="1375.0" y1="924.8" x2="1375.0" y2="931.3" stroke="#0b1517" stroke-width="1.1700000000000002"/>
<line x1="1355.8" y1="924.7" x2="1355.8" y2="931.2" stroke="#0b1517" stroke-width="1.1700000000000002"/>
<circle r="1" transform="matrix(7.860,-3.135,5.475,4.590,1365.40,924.79)" fill="#a3b0b0" stroke="#0b1517" stroke-width="1.1700000000000002" vector-effect="non-scaling-stroke"/>
<circle r="1" transform="matrix(7.860,-3.135,5.475,4.590,1383.65,946.56)" fill="#0a1213" stroke="#0b1517" stroke-width="1.1700000000000002" vector-effect="non-scaling-stroke"/>
<polygon points="1374.1,940.0 1393.2,940.1 1393.2,946.6 1374.1,946.5" fill="#0a1213"/>
<line x1="1393.2" y1="940.1" x2="1393.2" y2="946.6" stroke="#0b1517" stroke-width="1.1700000000000002"/>
<line x1="1374.1" y1="940.0" x2="1374.1" y2="946.5" stroke="#0b1517" stroke-width="1.1700000000000002"/>
<circle r="1" transform="matrix(7.860,-3.135,5.475,4.590,1383.65,940.09)" fill="#a3b0b0" stroke="#0b1517" stroke-width="1.1700000000000002" vector-effect="non-scaling-stroke"/>
<circle r="1" transform="matrix(7.860,-3.135,5.475,4.590,1401.90,961.86)" fill="#0a1213" stroke="#0b1517" stroke-width="1.1700000000000002" vector-effect="non-scaling-stroke"/>
<polygon points="1392.3,955.3 1411.5,955.4 1411.5,961.9 1392.3,961.8" fill="#0a1213"/>
<line x1="1411.5" y1="955.4" x2="1411.5" y2="961.9" stroke="#0b1517" stroke-width="1.1700000000000002"/>
<line x1="1392.3" y1="955.3" x2="1392.3" y2="961.8" stroke="#0b1517" stroke-width="1.1700000000000002"/>
<circle r="1" transform="matrix(7.860,-3.135,5.475,4.590,1401.90,955.39)" fill="#a3b0b0" stroke="#0b1517" stroke-width="1.1700000000000002" vector-effect="non-scaling-stroke"/>
<circle r="1" transform="matrix(7.860,-3.135,5.475,4.590,1375.70,972.31)" fill="#0a1213" stroke="#0b1517" stroke-width="1.1700000000000002" vector-effect="non-scaling-stroke"/>
<polygon points="1366.1,965.8 1385.3,965.9 1385.3,972.4 1366.1,972.3" fill="#0a1213"/>
<line x1="1385.3" y1="965.9" x2="1385.3" y2="972.4" stroke="#0b1517" stroke-width="1.1700000000000002"/>
<line x1="1366.1" y1="965.8" x2="1366.1" y2="972.3" stroke="#0b1517" stroke-width="1.1700000000000002"/>
<circle r="1" transform="matrix(7.860,-3.135,5.475,4.590,1375.70,965.84)" fill="#a3b0b0" stroke="#0b1517" stroke-width="1.1700000000000002" vector-effect="non-scaling-stroke"/>
<circle r="1" transform="matrix(7.860,-3.135,5.475,4.590,1420.15,977.16)" fill="#0a1213" stroke="#0b1517" stroke-width="1.1700000000000002" vector-effect="non-scaling-stroke"/>
<polygon points="1410.6,970.6 1429.7,970.7 1429.7,977.2 1410.6,977.1" fill="#0a1213"/>
<line x1="1429.7" y1="970.7" x2="1429.7" y2="977.2" stroke="#0b1517" stroke-width="1.1700000000000002"/>
<line x1="1410.6" y1="970.6" x2="1410.6" y2="977.1" stroke="#0b1517" stroke-width="1.1700000000000002"/>
<circle r="1" transform="matrix(7.860,-3.135,5.475,4.590,1420.15,970.69)" fill="#a3b0b0" stroke="#0b1517" stroke-width="1.1700000000000002" vector-effect="non-scaling-stroke"/>
<circle r="1" transform="matrix(7.860,-3.135,5.475,4.590,1349.50,982.76)" fill="#0a1213" stroke="#0b1517" stroke-width="1.1700000000000002" vector-effect="non-scaling-stroke"/>
<polygon points="1339.9,976.2 1359.1,976.3 1359.1,982.8 1339.9,982.7" fill="#0a1213"/>
<line x1="1359.1" y1="976.3" x2="1359.1" y2="982.8" stroke="#0b1517" stroke-width="1.1700000000000002"/>
<line x1="1339.9" y1="976.2" x2="1339.9" y2="982.7" stroke="#0b1517" stroke-width="1.1700000000000002"/>
<circle r="1" transform="matrix(7.860,-3.135,5.475,4.590,1349.50,976.29)" fill="#a3b0b0" stroke="#0b1517" stroke-width="1.1700000000000002" vector-effect="non-scaling-stroke"/>
<circle r="1" transform="matrix(7.860,-3.135,5.475,4.590,1393.95,987.61)" fill="#0a1213" stroke="#0b1517" stroke-width="1.1700000000000002" vector-effect="non-scaling-stroke"/>
<polygon points="1384.4,981.1 1403.5,981.2 1403.5,987.7 1384.4,987.6" fill="#0a1213"/>
<line x1="1403.5" y1="981.2" x2="1403.5" y2="987.7" stroke="#0b1517" stroke-width="1.1700000000000002"/>
<line x1="1384.4" y1="981.1" x2="1384.4" y2="987.6" stroke="#0b1517" stroke-width="1.1700000000000002"/>
<circle r="1" transform="matrix(7.860,-3.135,5.475,4.590,1393.95,981.14)" fill="#a3b0b0" stroke="#0b1517" stroke-width="1.1700000000000002" vector-effect="non-scaling-stroke"/>
<circle r="1" transform="matrix(7.860,-3.135,5.475,4.590,1323.30,993.21)" fill="#0a1213" stroke="#0b1517" stroke-width="1.1700000000000002" vector-effect="non-scaling-stroke"/>
<polygon points="1313.7,986.7 1332.9,986.8 1332.9,993.3 1313.7,993.2" fill="#0a1213"/>
<line x1="1332.9" y1="986.8" x2="1332.9" y2="993.3" stroke="#0b1517" stroke-width="1.1700000000000002"/>
<line x1="1313.7" y1="986.7" x2="1313.7" y2="993.2" stroke="#0b1517" stroke-width="1.1700000000000002"/>
<circle r="1" transform="matrix(7.860,-3.135,5.475,4.590,1323.30,986.74)" fill="#a3b0b0" stroke="#0b1517" stroke-width="1.1700000000000002" vector-effect="non-scaling-stroke"/>
<circle r="1" transform="matrix(7.860,-3.135,5.475,4.590,1367.75,998.06)" fill="#0a1213" stroke="#0b1517" stroke-width="1.1700000000000002" vector-effect="non-scaling-stroke"/>
<polygon points="1358.2,991.5 1377.3,991.6 1377.3,998.1 1358.2,998.0" fill="#0a1213"/>
<line x1="1377.3" y1="991.6" x2="1377.3" y2="998.1" stroke="#0b1517" stroke-width="1.1700000000000002"/>
<line x1="1358.2" y1="991.5" x2="1358.2" y2="998.0" stroke="#0b1517" stroke-width="1.1700000000000002"/>
<circle r="1" transform="matrix(7.860,-3.135,5.475,4.590,1367.75,991.59)" fill="#a3b0b0" stroke="#0b1517" stroke-width="1.1700000000000002" vector-effect="non-scaling-stroke"/>
<circle r="1" transform="matrix(7.860,-3.135,5.475,4.590,1341.55,1008.51)" fill="#0a1213" stroke="#0b1517" stroke-width="1.1700000000000002" vector-effect="non-scaling-stroke"/>
<polygon points="1332.0,1002.0 1351.1,1002.1 1351.1,1008.6 1332.0,1008.5" fill="#0a1213"/>
<line x1="1351.1" y1="1002.1" x2="1351.1" y2="1008.6" stroke="#0b1517" stroke-width="1.1700000000000002"/>
<line x1="1332.0" y1="1002.0" x2="1332.0" y2="1008.5" stroke="#0b1517" stroke-width="1.1700000000000002"/>
<circle r="1" transform="matrix(7.860,-3.135,5.475,4.590,1341.55,1002.04)" fill="#a3b0b0" stroke="#0b1517" stroke-width="1.1700000000000002" vector-effect="non-scaling-stroke"/>
<circle r="1" transform="matrix(7.860,-3.135,5.475,4.590,1224.10,973.75)" fill="#0a1213" stroke="#0b1517" stroke-width="1.1700000000000002" vector-effect="non-scaling-stroke"/>
<polygon points="1214.5,967.2 1233.7,967.3 1233.7,973.8 1214.5,973.7" fill="#0a1213"/>
<line x1="1233.7" y1="967.3" x2="1233.7" y2="973.8" stroke="#0b1517" stroke-width="1.1700000000000002"/>
<line x1="1214.5" y1="967.2" x2="1214.5" y2="973.7" stroke="#0b1517" stroke-width="1.1700000000000002"/>
<circle r="1" transform="matrix(7.860,-3.135,5.475,4.590,1224.10,967.28)" fill="#a3b0b0" stroke="#0b1517" stroke-width="1.1700000000000002" vector-effect="non-scaling-stroke"/>
<circle r="1" transform="matrix(7.860,-3.135,5.475,4.590,1197.90,984.20)" fill="#0a1213" stroke="#0b1517" stroke-width="1.1700000000000002" vector-effect="non-scaling-stroke"/>
<polygon points="1188.3,977.7 1207.5,977.8 1207.5,984.3 1188.3,984.1" fill="#0a1213"/>
<line x1="1207.5" y1="977.8" x2="1207.5" y2="984.3" stroke="#0b1517" stroke-width="1.1700000000000002"/>
<line x1="1188.3" y1="977.7" x2="1188.3" y2="984.1" stroke="#0b1517" stroke-width="1.1700000000000002"/>
<circle r="1" transform="matrix(7.860,-3.135,5.475,4.590,1197.90,977.73)" fill="#a3b0b0" stroke="#0b1517" stroke-width="1.1700000000000002" vector-effect="non-scaling-stroke"/>
<circle r="1" transform="matrix(7.860,-3.135,5.475,4.590,1171.70,994.65)" fill="#0a1213" stroke="#0b1517" stroke-width="1.1700000000000002" vector-effect="non-scaling-stroke"/>
<polygon points="1162.1,988.1 1181.3,988.2 1181.3,994.7 1162.1,994.6" fill="#0a1213"/>
<line x1="1181.3" y1="988.2" x2="1181.3" y2="994.7" stroke="#0b1517" stroke-width="1.1700000000000002"/>
<line x1="1162.1" y1="988.1" x2="1162.1" y2="994.6" stroke="#0b1517" stroke-width="1.1700000000000002"/>
<circle r="1" transform="matrix(7.860,-3.135,5.475,4.590,1171.70,988.18)" fill="#a3b0b0" stroke="#0b1517" stroke-width="1.1700000000000002" vector-effect="non-scaling-stroke"/>
<circle r="1" transform="matrix(7.860,-3.135,5.475,4.590,1189.95,1009.95)" fill="#0a1213" stroke="#0b1517" stroke-width="1.1700000000000002" vector-effect="non-scaling-stroke"/>
<polygon points="1180.4,1003.4 1199.5,1003.5 1199.5,1010.0 1180.4,1009.9" fill="#0a1213"/>
<line x1="1199.5" y1="1003.5" x2="1199.5" y2="1010.0" stroke="#0b1517" stroke-width="1.1700000000000002"/>
<line x1="1180.4" y1="1003.4" x2="1180.4" y2="1009.9" stroke="#0b1517" stroke-width="1.1700000000000002"/>
<circle r="1" transform="matrix(7.860,-3.135,5.475,4.590,1189.95,1003.48)" fill="#a3b0b0" stroke="#0b1517" stroke-width="1.1700000000000002" vector-effect="non-scaling-stroke"/>
<circle r="1" transform="matrix(7.860,-3.135,5.475,4.590,1438.40,1023.75)" fill="#0a1213" stroke="#0b1517" stroke-width="1.1700000000000002" vector-effect="non-scaling-stroke"/>
<polygon points="1428.8,1017.2 1448.0,1017.3 1448.0,1023.8 1428.8,1023.7" fill="#0a1213"/>
<line x1="1448.0" y1="1017.3" x2="1448.0" y2="1023.8" stroke="#0b1517" stroke-width="1.1700000000000002"/>
<line x1="1428.8" y1="1017.2" x2="1428.8" y2="1023.7" stroke="#0b1517" stroke-width="1.1700000000000002"/>
<circle r="1" transform="matrix(7.860,-3.135,5.475,4.590,1438.40,1017.28)" fill="#a3b0b0" stroke="#0b1517" stroke-width="1.1700000000000002" vector-effect="non-scaling-stroke"/>
<circle r="1" transform="matrix(7.860,-3.135,5.475,4.590,1208.20,1025.25)" fill="#0a1213" stroke="#0b1517" stroke-width="1.1700000000000002" vector-effect="non-scaling-stroke"/>
<polygon points="1198.6,1018.7 1217.8,1018.8 1217.8,1025.3 1198.6,1025.2" fill="#0a1213"/>
<line x1="1217.8" y1="1018.8" x2="1217.8" y2="1025.3" stroke="#0b1517" stroke-width="1.1700000000000002"/>
<line x1="1198.6" y1="1018.7" x2="1198.6" y2="1025.2" stroke="#0b1517" stroke-width="1.1700000000000002"/>
<circle r="1" transform="matrix(7.860,-3.135,5.475,4.590,1208.20,1018.78)" fill="#a3b0b0" stroke="#0b1517" stroke-width="1.1700000000000002" vector-effect="non-scaling-stroke"/>
<circle r="1" transform="matrix(7.860,-3.135,5.475,4.590,1412.20,1034.20)" fill="#0a1213" stroke="#0b1517" stroke-width="1.1700000000000002" vector-effect="non-scaling-stroke"/>
<polygon points="1402.6,1027.7 1421.8,1027.8 1421.8,1034.3 1402.6,1034.1" fill="#0a1213"/>
<line x1="1421.8" y1="1027.8" x2="1421.8" y2="1034.3" stroke="#0b1517" stroke-width="1.1700000000000002"/>
<line x1="1402.6" y1="1027.7" x2="1402.6" y2="1034.1" stroke="#0b1517" stroke-width="1.1700000000000002"/>
<circle r="1" transform="matrix(7.860,-3.135,5.475,4.590,1412.20,1027.73)" fill="#a3b0b0" stroke="#0b1517" stroke-width="1.1700000000000002" vector-effect="non-scaling-stroke"/>
<circle r="1" transform="matrix(7.860,-3.135,5.475,4.590,1297.10,1034.95)" fill="#0a1213" stroke="#0b1517" stroke-width="1.1700000000000002" vector-effect="non-scaling-stroke"/>
<polygon points="1287.5,1028.4 1306.7,1028.5 1306.7,1035.0 1287.5,1034.9" fill="#0a1213"/>
<line x1="1306.7" y1="1028.5" x2="1306.7" y2="1035.0" stroke="#0b1517" stroke-width="1.1700000000000002"/>
<line x1="1287.5" y1="1028.4" x2="1287.5" y2="1034.9" stroke="#0b1517" stroke-width="1.1700000000000002"/>
<circle r="1" transform="matrix(7.860,-3.135,5.475,4.590,1297.10,1028.48)" fill="#a3b0b0" stroke="#0b1517" stroke-width="1.1700000000000002" vector-effect="non-scaling-stroke"/>
<circle r="1" transform="matrix(7.860,-3.135,5.475,4.590,1226.45,1040.55)" fill="#0a1213" stroke="#0b1517" stroke-width="1.1700000000000002" vector-effect="non-scaling-stroke"/>
<polygon points="1216.9,1034.0 1236.0,1034.1 1236.0,1040.6 1216.9,1040.5" fill="#0a1213"/>
<line x1="1236.0" y1="1034.1" x2="1236.0" y2="1040.6" stroke="#0b1517" stroke-width="1.1700000000000002"/>
<line x1="1216.9" y1="1034.0" x2="1216.9" y2="1040.5" stroke="#0b1517" stroke-width="1.1700000000000002"/>
<circle r="1" transform="matrix(7.860,-3.135,5.475,4.590,1226.45,1034.08)" fill="#a3b0b0" stroke="#0b1517" stroke-width="1.1700000000000002" vector-effect="non-scaling-stroke"/>
<circle r="1" transform="matrix(7.860,-3.135,5.475,4.590,1270.90,1045.40)" fill="#0a1213" stroke="#0b1517" stroke-width="1.1700000000000002" vector-effect="non-scaling-stroke"/>
<polygon points="1261.3,1038.9 1280.5,1039.0 1280.5,1045.5 1261.3,1045.3" fill="#0a1213"/>
<line x1="1280.5" y1="1039.0" x2="1280.5" y2="1045.5" stroke="#0b1517" stroke-width="1.1700000000000002"/>
<line x1="1261.3" y1="1038.9" x2="1261.3" y2="1045.3" stroke="#0b1517" stroke-width="1.1700000000000002"/>
<circle r="1" transform="matrix(7.860,-3.135,5.475,4.590,1270.90,1038.93)" fill="#a3b0b0" stroke="#0b1517" stroke-width="1.1700000000000002" vector-effect="non-scaling-stroke"/>
<circle r="1" transform="matrix(7.860,-3.135,5.475,4.590,1315.35,1050.25)" fill="#0a1213" stroke="#0b1517" stroke-width="1.1700000000000002" vector-effect="non-scaling-stroke"/>
<polygon points="1305.8,1043.7 1324.9,1043.8 1324.9,1050.3 1305.8,1050.2" fill="#0a1213"/>
<line x1="1324.9" y1="1043.8" x2="1324.9" y2="1050.3" stroke="#0b1517" stroke-width="1.1700000000000002"/>
<line x1="1305.8" y1="1043.7" x2="1305.8" y2="1050.2" stroke="#0b1517" stroke-width="1.1700000000000002"/>
<circle r="1" transform="matrix(7.860,-3.135,5.475,4.590,1315.35,1043.78)" fill="#a3b0b0" stroke="#0b1517" stroke-width="1.1700000000000002" vector-effect="non-scaling-stroke"/>
<circle r="1" transform="matrix(7.860,-3.135,5.475,4.590,1244.70,1055.85)" fill="#0a1213" stroke="#0b1517" stroke-width="1.1700000000000002" vector-effect="non-scaling-stroke"/>
<polygon points="1235.1,1049.3 1254.3,1049.4 1254.3,1055.9 1235.1,1055.8" fill="#0a1213"/>
<line x1="1254.3" y1="1049.4" x2="1254.3" y2="1055.9" stroke="#0b1517" stroke-width="1.1700000000000002"/>
<line x1="1235.1" y1="1049.3" x2="1235.1" y2="1055.8" stroke="#0b1517" stroke-width="1.1700000000000002"/>
<circle r="1" transform="matrix(7.860,-3.135,5.475,4.590,1244.70,1049.38)" fill="#a3b0b0" stroke="#0b1517" stroke-width="1.1700000000000002" vector-effect="non-scaling-stroke"/>
<circle r="1" transform="matrix(7.860,-3.135,5.475,4.590,1218.50,1066.30)" fill="#0a1213" stroke="#0b1517" stroke-width="1.1700000000000002" vector-effect="non-scaling-stroke"/>
<polygon points="1208.9,1059.8 1228.1,1059.9 1228.1,1066.4 1208.9,1066.2" fill="#0a1213"/>
<line x1="1228.1" y1="1059.9" x2="1228.1" y2="1066.4" stroke="#0b1517" stroke-width="1.1700000000000002"/>
<line x1="1208.9" y1="1059.8" x2="1208.9" y2="1066.2" stroke="#0b1517" stroke-width="1.1700000000000002"/>
<circle r="1" transform="matrix(7.860,-3.135,5.475,4.590,1218.50,1059.83)" fill="#a3b0b0" stroke="#0b1517" stroke-width="1.1700000000000002" vector-effect="non-scaling-stroke"/>
<polygon points="1387.6,742.5 1361.4,753.0 1361.4,763.4 1387.6,752.9" fill="#34484c" stroke="#0b1517" stroke-width="1.3" stroke-linejoin="round"/>
<polygon points="1361.4,753.0 1262.2,702.2 1262.2,712.6 1361.4,763.4" fill="#31444a" stroke="#0b1517" stroke-width="1.3" stroke-linejoin="round"/>
<polygon points="1262.2,702.2 1314.6,681.3 1387.6,742.5 1361.4,753.0" fill="#3a4f4f" stroke="#0b1517" stroke-width="1.3" stroke-linejoin="round"/>
<circle r="1" transform="matrix(7.860,-3.135,5.475,4.590,1310.65,694.18)" fill="#050b0c" stroke="#0b1517" stroke-width="1.1700000000000002" vector-effect="non-scaling-stroke"/>
<polygon points="1301.1,687.7 1320.2,687.8 1320.2,694.2 1301.1,694.1" fill="#050b0c"/>
<line x1="1320.2" y1="687.8" x2="1320.2" y2="694.2" stroke="#0b1517" stroke-width="1.1700000000000002"/>
<line x1="1301.1" y1="687.7" x2="1301.1" y2="694.1" stroke="#0b1517" stroke-width="1.1700000000000002"/>
<circle r="1" transform="matrix(7.860,-3.135,5.475,4.590,1310.65,687.71)" fill="#3f5354" stroke="#0b1517" stroke-width="1.1700000000000002" vector-effect="non-scaling-stroke"/>
<circle r="1" transform="matrix(7.860,-3.135,5.475,4.590,1328.90,709.48)" fill="#050b0c" stroke="#0b1517" stroke-width="1.1700000000000002" vector-effect="non-scaling-stroke"/>
<polygon points="1319.3,703.0 1338.5,703.1 1338.5,709.5 1319.3,709.4" fill="#050b0c"/>
<line x1="1338.5" y1="703.1" x2="1338.5" y2="709.5" stroke="#0b1517" stroke-width="1.1700000000000002"/>
<line x1="1319.3" y1="703.0" x2="1319.3" y2="709.4" stroke="#0b1517" stroke-width="1.1700000000000002"/>
<circle r="1" transform="matrix(7.860,-3.135,5.475,4.590,1328.90,703.01)" fill="#3f5354" stroke="#0b1517" stroke-width="1.1700000000000002" vector-effect="non-scaling-stroke"/>
<circle r="1" transform="matrix(7.860,-3.135,5.475,4.590,1347.15,724.78)" fill="#050b0c" stroke="#0b1517" stroke-width="1.1700000000000002" vector-effect="non-scaling-stroke"/>
<polygon points="1337.6,718.3 1356.7,718.4 1356.7,724.8 1337.6,724.7" fill="#050b0c"/>
<line x1="1356.7" y1="718.4" x2="1356.7" y2="724.8" stroke="#0b1517" stroke-width="1.1700000000000002"/>
<line x1="1337.6" y1="718.3" x2="1337.6" y2="724.7" stroke="#0b1517" stroke-width="1.1700000000000002"/>
<circle r="1" transform="matrix(7.860,-3.135,5.475,4.590,1347.15,718.31)" fill="#3f5354" stroke="#0b1517" stroke-width="1.1700000000000002" vector-effect="non-scaling-stroke"/>
<circle r="1" transform="matrix(7.860,-3.135,5.475,4.590,1365.40,740.08)" fill="#050b0c" stroke="#0b1517" stroke-width="1.1700000000000002" vector-effect="non-scaling-stroke"/>
<polygon points="1355.8,733.6 1375.0,733.7 1375.0,740.1 1355.8,740.0" fill="#050b0c"/>
<line x1="1375.0" y1="733.7" x2="1375.0" y2="740.1" stroke="#0b1517" stroke-width="1.1700000000000002"/>
<line x1="1355.8" y1="733.6" x2="1355.8" y2="740.0" stroke="#0b1517" stroke-width="1.1700000000000002"/>
<circle r="1" transform="matrix(7.860,-3.135,5.475,4.590,1365.40,733.61)" fill="#3f5354" stroke="#0b1517" stroke-width="1.1700000000000002" vector-effect="non-scaling-stroke"/>
<line x1="1309.4" y1="735.5" x2="1309.4" y2="851.0" stroke="#f2aeb4" stroke-width="5.2" opacity="0.7"/>
<polygon points="1303.5,849.0 1315.3,849.0 1309.4,873.0" fill="#f2aeb4" stroke="#f2aeb4" stroke-width="1.6" opacity="0.7"/>
<line x1="1309.4" y1="735.5" x2="1309.4" y2="851.0" stroke="#d0142a" stroke-width="3.6"/>
<polygon points="1303.5,849.0 1315.3,849.0 1309.4,873.0" fill="#e8162a"/>
<line x1="1365.7" y1="759.5" x2="1365.7" y2="895.8" stroke="#f2aeb4" stroke-width="5.2" opacity="0.7"/>
<polygon points="1359.8,893.8 1371.6,893.8 1365.7,917.8" fill="#f2aeb4" stroke="#f2aeb4" stroke-width="1.6" opacity="0.7"/>
<line x1="1365.7" y1="759.5" x2="1365.7" y2="895.8" stroke="#d0142a" stroke-width="3.6"/>
<polygon points="1359.8,893.8 1371.6,893.8 1365.7,917.8" fill="#e8162a"/>
<polygon points="680.9,833.5 628.5,854.4 628.5,864.8 680.9,843.9" fill="#34484c" stroke="#0b1517" stroke-width="1.3" stroke-linejoin="round"/>
<polygon points="628.5,854.4 555.5,793.2 555.5,803.6 628.5,864.8" fill="#31444a" stroke="#0b1517" stroke-width="1.3" stroke-linejoin="round"/>
<polygon points="555.5,793.2 581.7,782.7 680.9,833.5 628.5,854.4" fill="#3a4f4f" stroke="#0b1517" stroke-width="1.3" stroke-linejoin="round"/>
<circle r="1" transform="matrix(7.860,-3.135,5.475,4.590,577.70,795.60)" fill="#050b0c" stroke="#0b1517" stroke-width="1.1700000000000002" vector-effect="non-scaling-stroke"/>
<polygon points="568.1,789.1 587.3,789.2 587.3,795.7 568.1,795.5" fill="#050b0c"/>
<line x1="587.3" y1="789.2" x2="587.3" y2="795.7" stroke="#0b1517" stroke-width="1.1700000000000002"/>
<line x1="568.1" y1="789.1" x2="568.1" y2="795.5" stroke="#0b1517" stroke-width="1.1700000000000002"/>
<circle r="1" transform="matrix(7.860,-3.135,5.475,4.590,577.70,789.13)" fill="#3f5354" stroke="#0b1517" stroke-width="1.1700000000000002" vector-effect="non-scaling-stroke"/>
<circle r="1" transform="matrix(7.860,-3.135,5.475,4.590,595.95,810.90)" fill="#050b0c" stroke="#0b1517" stroke-width="1.1700000000000002" vector-effect="non-scaling-stroke"/>
<polygon points="586.4,804.4 605.5,804.5 605.5,811.0 586.4,810.8" fill="#050b0c"/>
<line x1="605.5" y1="804.5" x2="605.5" y2="811.0" stroke="#0b1517" stroke-width="1.1700000000000002"/>
<line x1="586.4" y1="804.4" x2="586.4" y2="810.8" stroke="#0b1517" stroke-width="1.1700000000000002"/>
<circle r="1" transform="matrix(7.860,-3.135,5.475,4.590,595.95,804.43)" fill="#3f5354" stroke="#0b1517" stroke-width="1.1700000000000002" vector-effect="non-scaling-stroke"/>
<circle r="1" transform="matrix(7.860,-3.135,5.475,4.590,614.20,826.20)" fill="#050b0c" stroke="#0b1517" stroke-width="1.1700000000000002" vector-effect="non-scaling-stroke"/>
<polygon points="604.6,819.7 623.8,819.8 623.8,826.3 604.6,826.1" fill="#050b0c"/>
<line x1="623.8" y1="819.8" x2="623.8" y2="826.3" stroke="#0b1517" stroke-width="1.1700000000000002"/>
<line x1="604.6" y1="819.7" x2="604.6" y2="826.1" stroke="#0b1517" stroke-width="1.1700000000000002"/>
<circle r="1" transform="matrix(7.860,-3.135,5.475,4.590,614.20,819.73)" fill="#3f5354" stroke="#0b1517" stroke-width="1.1700000000000002" vector-effect="non-scaling-stroke"/>
<circle r="1" transform="matrix(7.860,-3.135,5.475,4.590,632.45,841.50)" fill="#050b0c" stroke="#0b1517" stroke-width="1.1700000000000002" vector-effect="non-scaling-stroke"/>
<polygon points="622.9,835.0 642.0,835.1 642.0,841.6 622.9,841.4" fill="#050b0c"/>
<line x1="642.0" y1="835.1" x2="642.0" y2="841.6" stroke="#0b1517" stroke-width="1.1700000000000002"/>
<line x1="622.9" y1="835.0" x2="622.9" y2="841.4" stroke="#0b1517" stroke-width="1.1700000000000002"/>
<circle r="1" transform="matrix(7.860,-3.135,5.475,4.590,632.45,835.03)" fill="#3f5354" stroke="#0b1517" stroke-width="1.1700000000000002" vector-effect="non-scaling-stroke"/>
<line x1="632.0" y1="767.0" x2="632.0" y2="806.6" stroke="#f2aeb4" stroke-width="5.2" opacity="0.7"/>
<polygon points="626.0,804.6 638.0,804.6 632.0,831.6" fill="#f2aeb4" stroke="#f2aeb4" stroke-width="1.6" opacity="0.7"/>
<line x1="632.0" y1="767.0" x2="632.0" y2="806.6" stroke="#d0142a" stroke-width="3.6"/>
<polygon points="626.0,804.6 638.0,804.6 632.0,831.6" fill="#e8162a"/>
<polygon points="680.9,738.6 628.5,759.5 628.5,769.9 680.9,749.0" fill="#34484c" stroke="#0b1517" stroke-width="1.3" stroke-linejoin="round"/>
<polygon points="628.5,759.5 555.5,698.3 555.5,708.7 628.5,769.9" fill="#31444a" stroke="#0b1517" stroke-width="1.3" stroke-linejoin="round"/>
<polygon points="555.5,698.3 581.7,687.8 680.9,738.6 628.5,759.5" fill="#3a4f4f" stroke="#0b1517" stroke-width="1.3" stroke-linejoin="round"/>
<circle r="1" transform="matrix(7.860,-3.135,5.475,4.590,577.70,700.70)" fill="#050b0c" stroke="#0b1517" stroke-width="1.1700000000000002" vector-effect="non-scaling-stroke"/>
<polygon points="568.1,694.2 587.3,694.3 587.3,700.8 568.1,700.6" fill="#050b0c"/>
<line x1="587.3" y1="694.3" x2="587.3" y2="700.8" stroke="#0b1517" stroke-width="1.1700000000000002"/>
<line x1="568.1" y1="694.2" x2="568.1" y2="700.6" stroke="#0b1517" stroke-width="1.1700000000000002"/>
<circle r="1" transform="matrix(7.860,-3.135,5.475,4.590,577.70,694.23)" fill="#3f5354" stroke="#0b1517" stroke-width="1.1700000000000002" vector-effect="non-scaling-stroke"/>
<circle r="1" transform="matrix(7.860,-3.135,5.475,4.590,595.95,716.00)" fill="#050b0c" stroke="#0b1517" stroke-width="1.1700000000000002" vector-effect="non-scaling-stroke"/>
<polygon points="586.4,709.5 605.5,709.6 605.5,716.1 586.4,715.9" fill="#050b0c"/>
<line x1="605.5" y1="709.6" x2="605.5" y2="716.1" stroke="#0b1517" stroke-width="1.1700000000000002"/>
<line x1="586.4" y1="709.5" x2="586.4" y2="715.9" stroke="#0b1517" stroke-width="1.1700000000000002"/>
<circle r="1" transform="matrix(7.860,-3.135,5.475,4.590,595.95,709.53)" fill="#3f5354" stroke="#0b1517" stroke-width="1.1700000000000002" vector-effect="non-scaling-stroke"/>
<circle r="1" transform="matrix(7.860,-3.135,5.475,4.590,614.20,731.30)" fill="#050b0c" stroke="#0b1517" stroke-width="1.1700000000000002" vector-effect="non-scaling-stroke"/>
<polygon points="604.6,724.8 623.8,724.9 623.8,731.4 604.6,731.2" fill="#050b0c"/>
<line x1="623.8" y1="724.9" x2="623.8" y2="731.4" stroke="#0b1517" stroke-width="1.1700000000000002"/>
<line x1="604.6" y1="724.8" x2="604.6" y2="731.2" stroke="#0b1517" stroke-width="1.1700000000000002"/>
<circle r="1" transform="matrix(7.860,-3.135,5.475,4.590,614.20,724.83)" fill="#3f5354" stroke="#0b1517" stroke-width="1.1700000000000002" vector-effect="non-scaling-stroke"/>
<circle r="1" transform="matrix(7.860,-3.135,5.475,4.590,632.45,746.60)" fill="#050b0c" stroke="#0b1517" stroke-width="1.1700000000000002" vector-effect="non-scaling-stroke"/>
<polygon points="622.9,740.1 642.0,740.2 642.0,746.7 622.9,746.5" fill="#050b0c"/>
<line x1="642.0" y1="740.2" x2="642.0" y2="746.7" stroke="#0b1517" stroke-width="1.1700000000000002"/>
<line x1="622.9" y1="740.1" x2="622.9" y2="746.5" stroke="#0b1517" stroke-width="1.1700000000000002"/>
<circle r="1" transform="matrix(7.860,-3.135,5.475,4.590,632.45,740.13)" fill="#3f5354" stroke="#0b1517" stroke-width="1.1700000000000002" vector-effect="non-scaling-stroke"/>
<line x1="577.7" y1="725.5" x2="577.7" y2="759.5" stroke="#f2aeb4" stroke-width="5.2" opacity="0.7"/>
<polygon points="571.7,757.5 583.7,757.5 577.7,784.5" fill="#f2aeb4" stroke="#f2aeb4" stroke-width="1.6" opacity="0.7"/>
<line x1="577.7" y1="725.5" x2="577.7" y2="759.5" stroke="#d0142a" stroke-width="3.6"/>
<polygon points="571.7,757.5 583.7,757.5 577.7,784.5" fill="#e8162a"/>
<circle cx="1564.3" cy="538.6" r="1.4" fill="#2f3d3f"/>
<polygon points="74.3,51.5 79.4,49.4 79.4,123.2 74.3,119.6" fill="#2f4245" stroke="#0b1517" stroke-width="0.9" stroke-linejoin="round"/>
<polygon points="79.4,49.4 86.0,46.6 90.9,45.3 96.3,49.4 112.4,109.4 79.2,123.2" fill="#3c5053" stroke="#0b1517" stroke-width="0.9" stroke-linejoin="round"/>
<ellipse cx="87.9" cy="61.7" rx="5.6" ry="5.7" fill="#3c5053" stroke="#0b1517" stroke-width="0.9"/>
<path d="M89.0,56.1 A5.6,5.6 0 0 0 85.9,67.0 L87.6,65.1 A3.9199999999999995,3.9199999999999995 0 0 1 89.6,58.6 Z" fill="#060a0b"/>
<ellipse cx="87.9" cy="78.3" rx="5.6" ry="5.7" fill="#3c5053" stroke="#0b1517" stroke-width="0.9"/>
<path d="M89.0,72.7 A5.6,5.6 0 0 0 85.9,83.6 L87.6,81.7 A3.9199999999999995,3.9199999999999995 0 0 1 89.6,75.2 Z" fill="#060a0b"/>
<ellipse cx="87.9" cy="94.9" rx="5.6" ry="5.7" fill="#3c5053" stroke="#0b1517" stroke-width="0.9"/>
<path d="M89.0,89.3 A5.6,5.6 0 0 0 85.9,100.2 L87.6,98.3 A3.9199999999999995,3.9199999999999995 0 0 1 89.6,91.8 Z" fill="#060a0b"/>
<ellipse cx="87.9" cy="111.5" rx="5.6" ry="5.7" fill="#3c5053" stroke="#0b1517" stroke-width="0.9"/>
<path d="M89.0,105.9 A5.6,5.6 0 0 0 85.9,116.8 L87.6,114.9 A3.9199999999999995,3.9199999999999995 0 0 1 89.6,108.4 Z" fill="#060a0b"/>
<polygon points="221.4,98.0 171.5,117.9 171.5,124.5 221.4,104.6" fill="#a2b0b0" stroke="#0b1517" stroke-width="0.9" stroke-linejoin="round"/>
<polygon points="171.5,117.9 148.3,98.5 148.3,105.1 171.5,124.5" fill="#9dabab" stroke="#0b1517" stroke-width="0.9" stroke-linejoin="round"/>
<polygon points="148.3,98.5 198.2,78.6 221.4,98.0 171.5,117.9" fill="#8fa3a2" stroke="#0b1517" stroke-width="0.9" stroke-linejoin="round"/>
<circle r="1" transform="matrix(4.991,-1.991,3.477,2.915,195.67,86.73)" fill="#0a1213" stroke="#0b1517" stroke-width="0.81" vector-effect="non-scaling-stroke"/>
<polygon points="189.6,82.6 201.8,82.7 201.8,86.8 189.6,86.7" fill="#0a1213"/>
<line x1="201.8" y1="82.7" x2="201.8" y2="86.8" stroke="#0b1517" stroke-width="0.81"/>
<line x1="189.6" y1="82.6" x2="189.6" y2="86.7" stroke="#0b1517" stroke-width="0.81"/>
<circle r="1" transform="matrix(4.991,-1.991,3.477,2.915,195.67,82.62)" fill="#a3b0b0" stroke="#0b1517" stroke-width="0.81" vector-effect="non-scaling-stroke"/>
<circle r="1" transform="matrix(4.991,-1.991,3.477,2.915,179.04,93.36)" fill="#0a1213" stroke="#0b1517" stroke-width="0.81" vector-effect="non-scaling-stroke"/>
<polygon points="173.0,89.2 185.1,89.3 185.1,93.4 173.0,93.3" fill="#0a1213"/>
<line x1="185.1" y1="89.3" x2="185.1" y2="93.4" stroke="#0b1517" stroke-width="0.81"/>
<line x1="173.0" y1="89.2" x2="173.0" y2="93.3" stroke="#0b1517" stroke-width="0.81"/>
<circle r="1" transform="matrix(4.991,-1.991,3.477,2.915,179.04,89.26)" fill="#a3b0b0" stroke="#0b1517" stroke-width="0.81" vector-effect="non-scaling-stroke"/>
<circle r="1" transform="matrix(4.991,-1.991,3.477,2.915,207.26,96.44)" fill="#0a1213" stroke="#0b1517" stroke-width="0.81" vector-effect="non-scaling-stroke"/>
<polygon points="201.2,92.3 213.3,92.4 213.3,96.5 201.2,96.4" fill="#0a1213"/>
<line x1="213.3" y1="92.4" x2="213.3" y2="96.5" stroke="#0b1517" stroke-width="0.81"/>
<line x1="201.2" y1="92.3" x2="201.2" y2="96.4" stroke="#0b1517" stroke-width="0.81"/>
<circle r="1" transform="matrix(4.991,-1.991,3.477,2.915,207.26,92.34)" fill="#a3b0b0" stroke="#0b1517" stroke-width="0.81" vector-effect="non-scaling-stroke"/>
<circle r="1" transform="matrix(4.991,-1.991,3.477,2.915,162.40,100.00)" fill="#0a1213" stroke="#0b1517" stroke-width="0.81" vector-effect="non-scaling-stroke"/>
<polygon points="156.3,95.9 168.5,95.9 168.5,100.0 156.3,100.0" fill="#0a1213"/>
<line x1="168.5" y1="95.9" x2="168.5" y2="100.0" stroke="#0b1517" stroke-width="0.81"/>
<line x1="156.3" y1="95.9" x2="156.3" y2="100.0" stroke="#0b1517" stroke-width="0.81"/>
<circle r="1" transform="matrix(4.991,-1.991,3.477,2.915,162.40,95.89)" fill="#a3b0b0" stroke="#0b1517" stroke-width="0.81" vector-effect="non-scaling-stroke"/>
<circle r="1" transform="matrix(4.991,-1.991,3.477,2.915,190.63,103.08)" fill="#0a1213" stroke="#0b1517" stroke-width="0.81" vector-effect="non-scaling-stroke"/>
<polygon points="184.5,98.9 196.7,99.0 196.7,103.1 184.5,103.0" fill="#0a1213"/>
<line x1="196.7" y1="99.0" x2="196.7" y2="103.1" stroke="#0b1517" stroke-width="0.81"/>
<line x1="184.5" y1="98.9" x2="184.5" y2="103.0" stroke="#0b1517" stroke-width="0.81"/>
<circle r="1" transform="matrix(4.991,-1.991,3.477,2.915,190.63,98.97)" fill="#a3b0b0" stroke="#0b1517" stroke-width="0.81" vector-effect="non-scaling-stroke"/>
<circle r="1" transform="matrix(4.991,-1.991,3.477,2.915,173.99,109.72)" fill="#0a1213" stroke="#0b1517" stroke-width="0.81" vector-effect="non-scaling-stroke"/>
<polygon points="167.9,105.6 180.1,105.6 180.1,109.7 167.9,109.7" fill="#0a1213"/>
<line x1="180.1" y1="105.6" x2="180.1" y2="109.7" stroke="#0b1517" stroke-width="0.81"/>
<line x1="167.9" y1="105.6" x2="167.9" y2="109.7" stroke="#0b1517" stroke-width="0.81"/>
<circle r="1" transform="matrix(4.991,-1.991,3.477,2.915,173.99,105.61)" fill="#a3b0b0" stroke="#0b1517" stroke-width="0.81" vector-effect="non-scaling-stroke"/>
<polygon points="220.5,203.9 120.6,243.7 120.6,250.3 220.5,210.5" fill="#a2b0b0" stroke="#0b1517" stroke-width="0.9" stroke-linejoin="round"/>
<polygon points="120.6,243.7 74.3,204.9 74.3,211.5 120.6,250.3" fill="#9dabab" stroke="#0b1517" stroke-width="0.9" stroke-linejoin="round"/>
<polygon points="74.3,204.9 174.1,165.0 220.5,203.9 120.6,243.7" fill="#8fa3a2" stroke="#0b1517" stroke-width="0.9" stroke-linejoin="round"/>
<circle r="1" transform="matrix(4.991,-1.991,3.477,2.915,171.59,173.22)" fill="#0a1213" stroke="#0b1517" stroke-width="0.81" vector-effect="non-scaling-stroke"/>
<polygon points="165.5,169.1 177.7,169.1 177.7,173.3 165.5,173.2" fill="#0a1213"/>
<line x1="177.7" y1="169.1" x2="177.7" y2="173.3" stroke="#0b1517" stroke-width="0.81"/>
<line x1="165.5" y1="169.1" x2="165.5" y2="173.2" stroke="#0b1517" stroke-width="0.81"/>
<circle r="1" transform="matrix(4.991,-1.991,3.477,2.915,171.59,169.11)" fill="#a3b0b0" stroke="#0b1517" stroke-width="0.81" vector-effect="non-scaling-stroke"/>
<circle r="1" transform="matrix(4.991,-1.991,3.477,2.915,154.95,179.86)" fill="#0a1213" stroke="#0b1517" stroke-width="0.81" vector-effect="non-scaling-stroke"/>
<polygon points="148.9,175.7 161.0,175.8 161.0,179.9 148.9,179.8" fill="#0a1213"/>
<line x1="161.0" y1="175.8" x2="161.0" y2="179.9" stroke="#0b1517" stroke-width="0.81"/>
<line x1="148.9" y1="175.7" x2="148.9" y2="179.8" stroke="#0b1517" stroke-width="0.81"/>
<circle r="1" transform="matrix(4.991,-1.991,3.477,2.915,154.95,175.75)" fill="#a3b0b0" stroke="#0b1517" stroke-width="0.81" vector-effect="non-scaling-stroke"/>
<circle r="1" transform="matrix(4.991,-1.991,3.477,2.915,183.17,182.94)" fill="#0a1213" stroke="#0b1517" stroke-width="0.81" vector-effect="non-scaling-stroke"/>
<polygon points="177.1,178.8 189.3,178.9 189.3,183.0 177.1,182.9" fill="#0a1213"/>
<line x1="189.3" y1="178.9" x2="189.3" y2="183.0" stroke="#0b1517" stroke-width="0.81"/>
<line x1="177.1" y1="178.8" x2="177.1" y2="182.9" stroke="#0b1517" stroke-width="0.81"/>
<circle r="1" transform="matrix(4.991,-1.991,3.477,2.915,183.17,178.83)" fill="#a3b0b0" stroke="#0b1517" stroke-width="0.81" vector-effect="non-scaling-stroke"/>
<circle r="1" transform="matrix(4.991,-1.991,3.477,2.915,138.31,186.49)" fill="#0a1213" stroke="#0b1517" stroke-width="0.81" vector-effect="non-scaling-stroke"/>
<polygon points="132.2,182.4 144.4,182.4 144.4,186.5 132.2,186.5" fill="#0a1213"/>
<line x1="144.4" y1="182.4" x2="144.4" y2="186.5" stroke="#0b1517" stroke-width="0.81"/>
<line x1="132.2" y1="182.4" x2="132.2" y2="186.5" stroke="#0b1517" stroke-width="0.81"/>
<circle r="1" transform="matrix(4.991,-1.991,3.477,2.915,138.31,182.39)" fill="#a3b0b0" stroke="#0b1517" stroke-width="0.81" vector-effect="non-scaling-stroke"/>
<circle r="1" transform="matrix(4.991,-1.991,3.477,2.915,194.76,192.65)" fill="#0a1213" stroke="#0b1517" stroke-width="0.81" vector-effect="non-scaling-stroke"/>
<polygon points="188.7,188.5 200.8,188.6 200.8,192.7 188.7,192.6" fill="#0a1213"/>
<line x1="200.8" y1="188.6" x2="200.8" y2="192.7" stroke="#0b1517" stroke-width="0.81"/>
<line x1="188.7" y1="188.5" x2="188.7" y2="192.6" stroke="#0b1517" stroke-width="0.81"/>
<circle r="1" transform="matrix(4.991,-1.991,3.477,2.915,194.76,188.55)" fill="#a3b0b0" stroke="#0b1517" stroke-width="0.81" vector-effect="non-scaling-stroke"/>
<circle r="1" transform="matrix(4.991,-1.991,3.477,2.915,121.67,193.13)" fill="#0a1213" stroke="#0b1517" stroke-width="0.81" vector-effect="non-scaling-stroke"/>
<polygon points="115.6,189.0 127.8,189.1 127.8,193.2 115.6,193.1" fill="#0a1213"/>
<line x1="127.8" y1="189.1" x2="127.8" y2="193.2" stroke="#0b1517" stroke-width="0.81"/>
<line x1="115.6" y1="189.0" x2="115.6" y2="193.1" stroke="#0b1517" stroke-width="0.81"/>
<circle r="1" transform="matrix(4.991,-1.991,3.477,2.915,121.67,189.02)" fill="#a3b0b0" stroke="#0b1517" stroke-width="0.81" vector-effect="non-scaling-stroke"/>
<circle r="1" transform="matrix(4.991,-1.991,3.477,2.915,105.04,199.76)" fill="#0a1213" stroke="#0b1517" stroke-width="0.81" vector-effect="non-scaling-stroke"/>
<polygon points="99.0,195.6 111.1,195.7 111.1,199.8 99.0,199.7" fill="#0a1213"/>
<line x1="111.1" y1="195.7" x2="111.1" y2="199.8" stroke="#0b1517" stroke-width="0.81"/>
<line x1="99.0" y1="195.6" x2="99.0" y2="199.7" stroke="#0b1517" stroke-width="0.81"/>
<circle r="1" transform="matrix(4.991,-1.991,3.477,2.915,105.04,195.66)" fill="#a3b0b0" stroke="#0b1517" stroke-width="0.81" vector-effect="non-scaling-stroke"/>
<circle r="1" transform="matrix(4.991,-1.991,3.477,2.915,206.35,202.37)" fill="#0a1213" stroke="#0b1517" stroke-width="0.81" vector-effect="non-scaling-stroke"/>
<polygon points="200.3,198.2 212.4,198.3 212.4,202.4 200.3,202.3" fill="#0a1213"/>
<line x1="212.4" y1="198.3" x2="212.4" y2="202.4" stroke="#0b1517" stroke-width="0.81"/>
<line x1="200.3" y1="198.2" x2="200.3" y2="202.3" stroke="#0b1517" stroke-width="0.81"/>
<circle r="1" transform="matrix(4.991,-1.991,3.477,2.915,206.35,198.26)" fill="#a3b0b0" stroke="#0b1517" stroke-width="0.81" vector-effect="non-scaling-stroke"/>
<circle r="1" transform="matrix(4.991,-1.991,3.477,2.915,88.40,206.40)" fill="#0a1213" stroke="#0b1517" stroke-width="0.81" vector-effect="non-scaling-stroke"/>
<polygon points="82.3,202.3 94.5,202.3 94.5,206.4 82.3,206.4" fill="#0a1213"/>
<line x1="94.5" y1="202.3" x2="94.5" y2="206.4" stroke="#0b1517" stroke-width="0.81"/>
<line x1="82.3" y1="202.3" x2="82.3" y2="206.4" stroke="#0b1517" stroke-width="0.81"/>
<circle r="1" transform="matrix(4.991,-1.991,3.477,2.915,88.40,202.29)" fill="#a3b0b0" stroke="#0b1517" stroke-width="0.81" vector-effect="non-scaling-stroke"/>
<circle r="1" transform="matrix(4.991,-1.991,3.477,2.915,99.99,216.12)" fill="#0a1213" stroke="#0b1517" stroke-width="0.81" vector-effect="non-scaling-stroke"/>
<polygon points="93.9,212.0 106.1,212.0 106.1,216.1 93.9,216.1" fill="#0a1213"/>
<line x1="106.1" y1="212.0" x2="106.1" y2="216.1" stroke="#0b1517" stroke-width="0.81"/>
<line x1="93.9" y1="212.0" x2="93.9" y2="216.1" stroke="#0b1517" stroke-width="0.81"/>
<circle r="1" transform="matrix(4.991,-1.991,3.477,2.915,99.99,212.01)" fill="#a3b0b0" stroke="#0b1517" stroke-width="0.81" vector-effect="non-scaling-stroke"/>
<circle r="1" transform="matrix(4.991,-1.991,3.477,2.915,111.58,225.83)" fill="#0a1213" stroke="#0b1517" stroke-width="0.81" vector-effect="non-scaling-stroke"/>
<polygon points="105.5,221.7 117.7,221.8 117.7,225.9 105.5,225.8" fill="#0a1213"/>
<line x1="117.7" y1="221.8" x2="117.7" y2="225.9" stroke="#0b1517" stroke-width="0.81"/>
<line x1="105.5" y1="221.7" x2="105.5" y2="225.8" stroke="#0b1517" stroke-width="0.81"/>
<circle r="1" transform="matrix(4.991,-1.991,3.477,2.915,111.58,221.72)" fill="#a3b0b0" stroke="#0b1517" stroke-width="0.81" vector-effect="non-scaling-stroke"/>
<circle r="1" transform="matrix(4.991,-1.991,3.477,2.915,123.17,235.55)" fill="#0a1213" stroke="#0b1517" stroke-width="0.81" vector-effect="non-scaling-stroke"/>
<polygon points="117.1,231.4 129.2,231.5 129.2,235.6 117.1,235.5" fill="#0a1213"/>
<line x1="129.2" y1="231.5" x2="129.2" y2="235.6" stroke="#0b1517" stroke-width="0.81"/>
<line x1="117.1" y1="231.4" x2="117.1" y2="235.5" stroke="#0b1517" stroke-width="0.81"/>
<circle r="1" transform="matrix(4.991,-1.991,3.477,2.915,123.17,231.44)" fill="#a3b0b0" stroke="#0b1517" stroke-width="0.81" vector-effect="non-scaling-stroke"/>
<polygon points="281.5,126.0 290.9,124.3 291.6,232.5 238.6,251.2 236.8,244.0 240.5,236.0 245.5,219.0 252.0,198.0 257.6,182.4 263.0,162.0 267.9,146.7 273.7,129.5" fill="#a1aeae" stroke="#0b1517" stroke-width="0.9" stroke-linejoin="round"/>
<ellipse cx="285.2" cy="140.4" rx="5.5" ry="5.6" fill="#a1aeae" stroke="#0b1517" stroke-width="0.9"/>
<path d="M286.3,134.9 A5.5,5.5 0 0 0 283.3,145.6 L284.9,143.7 A3.8499999999999996,3.8499999999999996 0 0 1 286.8,137.4 Z" fill="#060a0b"/>
<ellipse cx="285.2" cy="157.2" rx="5.5" ry="5.6" fill="#a1aeae" stroke="#0b1517" stroke-width="0.9"/>
<path d="M286.3,151.7 A5.5,5.5 0 0 0 283.3,162.4 L284.9,160.5 A3.8499999999999996,3.8499999999999996 0 0 1 286.8,154.2 Z" fill="#060a0b"/>
<ellipse cx="285.2" cy="174.0" rx="5.5" ry="5.6" fill="#a1aeae" stroke="#0b1517" stroke-width="0.9"/>
<path d="M286.3,168.5 A5.5,5.5 0 0 0 283.3,179.2 L284.9,177.3 A3.8499999999999996,3.8499999999999996 0 0 1 286.8,171.0 Z" fill="#060a0b"/>
<ellipse cx="285.2" cy="190.8" rx="5.5" ry="5.6" fill="#a1aeae" stroke="#0b1517" stroke-width="0.9"/>
<path d="M286.3,185.3 A5.5,5.5 0 0 0 283.3,196.0 L284.9,194.1 A3.8499999999999996,3.8499999999999996 0 0 1 286.8,187.8 Z" fill="#060a0b"/>
<ellipse cx="285.2" cy="207.6" rx="5.5" ry="5.6" fill="#a1aeae" stroke="#0b1517" stroke-width="0.9"/>
<path d="M286.3,202.1 A5.5,5.5 0 0 0 283.3,212.8 L284.9,210.9 A3.8499999999999996,3.8499999999999996 0 0 1 286.8,204.6 Z" fill="#060a0b"/>
<ellipse cx="285.2" cy="224.4" rx="5.5" ry="5.6" fill="#a1aeae" stroke="#0b1517" stroke-width="0.9"/>
<path d="M286.3,218.9 A5.5,5.5 0 0 0 283.3,229.6 L284.9,227.7 A3.8499999999999996,3.8499999999999996 0 0 1 286.8,221.4 Z" fill="#060a0b"/>
<ellipse cx="268.5" cy="198.5" rx="5.5" ry="5.6" fill="#a1aeae" stroke="#0b1517" stroke-width="0.9"/>
<path d="M269.6,193.0 A5.5,5.5 0 0 0 266.6,203.7 L268.2,201.8 A3.8499999999999996,3.8499999999999996 0 0 1 270.1,195.5 Z" fill="#060a0b"/>
<ellipse cx="268.5" cy="215.2" rx="5.5" ry="5.6" fill="#a1aeae" stroke="#0b1517" stroke-width="0.9"/>
<path d="M269.6,209.7 A5.5,5.5 0 0 0 266.6,220.4 L268.2,218.5 A3.8499999999999996,3.8499999999999996 0 0 1 270.1,212.2 Z" fill="#060a0b"/>
<ellipse cx="268.5" cy="231.9" rx="5.5" ry="5.6" fill="#a1aeae" stroke="#0b1517" stroke-width="0.9"/>
<path d="M269.6,226.4 A5.5,5.5 0 0 0 266.6,237.1 L268.2,235.2 A3.8499999999999996,3.8499999999999996 0 0 1 270.1,228.9 Z" fill="#060a0b"/>
<polygon points="183.6,726.2 117.1,752.8 117.1,759.4 183.6,732.9" fill="#34484c" stroke="#0b1517" stroke-width="0.9" stroke-linejoin="round"/>
<polygon points="117.1,752.8 93.9,733.4 93.9,740.0 117.1,759.4" fill="#31444a" stroke="#0b1517" stroke-width="0.9" stroke-linejoin="round"/>
<polygon points="93.9,733.4 160.4,706.8 183.6,726.2 117.1,752.8" fill="#3a4f4f" stroke="#0b1517" stroke-width="0.9" stroke-linejoin="round"/>
<circle r="1" transform="matrix(4.991,-1.991,3.477,2.915,157.91,714.99)" fill="#050b0c" stroke="#0b1517" stroke-width="0.81" vector-effect="non-scaling-stroke"/>
<polygon points="151.8,710.9 164.0,710.9 164.0,715.0 151.8,715.0" fill="#050b0c"/>
<line x1="164.0" y1="710.9" x2="164.0" y2="715.0" stroke="#0b1517" stroke-width="0.81"/>
<line x1="151.8" y1="710.9" x2="151.8" y2="715.0" stroke="#0b1517" stroke-width="0.81"/>
<circle r="1" transform="matrix(4.991,-1.991,3.477,2.915,157.91,710.89)" fill="#3f5354" stroke="#0b1517" stroke-width="0.81" vector-effect="non-scaling-stroke"/>
<circle r="1" transform="matrix(4.991,-1.991,3.477,2.915,141.27,721.63)" fill="#050b0c" stroke="#0b1517" stroke-width="0.81" vector-effect="non-scaling-stroke"/>
<polygon points="135.2,717.5 147.4,717.6 147.4,721.7 135.2,721.6" fill="#050b0c"/>
<line x1="147.4" y1="717.6" x2="147.4" y2="721.7" stroke="#0b1517" stroke-width="0.81"/>
<line x1="135.2" y1="717.5" x2="135.2" y2="721.6" stroke="#0b1517" stroke-width="0.81"/>
<circle r="1" transform="matrix(4.991,-1.991,3.477,2.915,141.27,717.52)" fill="#3f5354" stroke="#0b1517" stroke-width="0.81" vector-effect="non-scaling-stroke"/>
<circle r="1" transform="matrix(4.991,-1.991,3.477,2.915,169.50,724.71)" fill="#050b0c" stroke="#0b1517" stroke-width="0.81" vector-effect="non-scaling-stroke"/>
<polygon points="163.4,720.6 175.6,720.6 175.6,724.7 163.4,724.7" fill="#050b0c"/>
<line x1="175.6" y1="720.6" x2="175.6" y2="724.7" stroke="#0b1517" stroke-width="0.81"/>
<line x1="163.4" y1="720.6" x2="163.4" y2="724.7" stroke="#0b1517" stroke-width="0.81"/>
<circle r="1" transform="matrix(4.991,-1.991,3.477,2.915,169.50,720.60)" fill="#3f5354" stroke="#0b1517" stroke-width="0.81" vector-effect="non-scaling-stroke"/>
<circle r="1" transform="matrix(4.991,-1.991,3.477,2.915,124.64,728.26)" fill="#050b0c" stroke="#0b1517" stroke-width="0.81" vector-effect="non-scaling-stroke"/>
<polygon points="118.6,724.1 130.7,724.2 130.7,728.3 118.6,728.2" fill="#050b0c"/>
<line x1="130.7" y1="724.2" x2="130.7" y2="728.3" stroke="#0b1517" stroke-width="0.81"/>
<line x1="118.6" y1="724.1" x2="118.6" y2="728.2" stroke="#0b1517" stroke-width="0.81"/>
<circle r="1" transform="matrix(4.991,-1.991,3.477,2.915,124.64,724.16)" fill="#3f5354" stroke="#0b1517" stroke-width="0.81" vector-effect="non-scaling-stroke"/>
<circle r="1" transform="matrix(4.991,-1.991,3.477,2.915,152.86,731.34)" fill="#050b0c" stroke="#0b1517" stroke-width="0.81" vector-effect="non-scaling-stroke"/>
<polygon points="146.8,727.2 158.9,727.3 158.9,731.4 146.8,731.3" fill="#050b0c"/>
<line x1="158.9" y1="727.3" x2="158.9" y2="731.4" stroke="#0b1517" stroke-width="0.81"/>
<line x1="146.8" y1="727.2" x2="146.8" y2="731.3" stroke="#0b1517" stroke-width="0.81"/>
<circle r="1" transform="matrix(4.991,-1.991,3.477,2.915,152.86,727.24)" fill="#3f5354" stroke="#0b1517" stroke-width="0.81" vector-effect="non-scaling-stroke"/>
<circle r="1" transform="matrix(4.991,-1.991,3.477,2.915,108.00,734.90)" fill="#050b0c" stroke="#0b1517" stroke-width="0.81" vector-effect="non-scaling-stroke"/>
<polygon points="101.9,730.8 114.1,730.8 114.1,734.9 101.9,734.9" fill="#050b0c"/>
<line x1="114.1" y1="730.8" x2="114.1" y2="734.9" stroke="#0b1517" stroke-width="0.81"/>
<line x1="101.9" y1="730.8" x2="101.9" y2="734.9" stroke="#0b1517" stroke-width="0.81"/>
<circle r="1" transform="matrix(4.991,-1.991,3.477,2.915,108.00,730.79)" fill="#3f5354" stroke="#0b1517" stroke-width="0.81" vector-effect="non-scaling-stroke"/>
<circle r="1" transform="matrix(4.991,-1.991,3.477,2.915,136.23,737.98)" fill="#050b0c" stroke="#0b1517" stroke-width="0.81" vector-effect="non-scaling-stroke"/>
<polygon points="130.1,733.8 142.3,733.9 142.3,738.0 130.1,737.9" fill="#050b0c"/>
<line x1="142.3" y1="733.9" x2="142.3" y2="738.0" stroke="#0b1517" stroke-width="0.81"/>
<line x1="130.1" y1="733.8" x2="130.1" y2="737.9" stroke="#0b1517" stroke-width="0.81"/>
<circle r="1" transform="matrix(4.991,-1.991,3.477,2.915,136.23,733.87)" fill="#3f5354" stroke="#0b1517" stroke-width="0.81" vector-effect="non-scaling-stroke"/>
<circle r="1" transform="matrix(4.991,-1.991,3.477,2.915,119.59,744.62)" fill="#050b0c" stroke="#0b1517" stroke-width="0.81" vector-effect="non-scaling-stroke"/>
<polygon points="113.5,740.5 125.7,740.5 125.7,744.6 113.5,744.6" fill="#050b0c"/>
<line x1="125.7" y1="740.5" x2="125.7" y2="744.6" stroke="#0b1517" stroke-width="0.81"/>
<line x1="113.5" y1="740.5" x2="113.5" y2="744.6" stroke="#0b1517" stroke-width="0.81"/>
<circle r="1" transform="matrix(4.991,-1.991,3.477,2.915,119.59,740.51)" fill="#3f5354" stroke="#0b1517" stroke-width="0.81" vector-effect="non-scaling-stroke"/>
<polygon points="229.9,687.9 235.0,685.8 235.0,759.6 229.9,756.0" fill="#2f4245" stroke="#0b1517" stroke-width="0.9" stroke-linejoin="round"/>
<polygon points="235.0,685.8 241.6,683.0 246.5,681.7 251.9,685.8 268.0,745.8 234.8,759.6" fill="#3c5053" stroke="#0b1517" stroke-width="0.9" stroke-linejoin="round"/>
<ellipse cx="243.5" cy="698.1" rx="5.6" ry="5.7" fill="#3c5053" stroke="#0b1517" stroke-width="0.9"/>
<path d="M244.6,692.5 A5.6,5.6 0 0 0 241.5,703.4 L243.2,701.5 A3.9199999999999995,3.9199999999999995 0 0 1 245.2,695.0 Z" fill="#060a0b"/>
<ellipse cx="243.5" cy="714.7" rx="5.6" ry="5.7" fill="#3c5053" stroke="#0b1517" stroke-width="0.9"/>
<path d="M244.6,709.1 A5.6,5.6 0 0 0 241.5,720.0 L243.2,718.1 A3.9199999999999995,3.9199999999999995 0 0 1 245.2,711.6 Z" fill="#060a0b"/>
<ellipse cx="243.5" cy="731.3" rx="5.6" ry="5.7" fill="#3c5053" stroke="#0b1517" stroke-width="0.9"/>
<path d="M244.6,725.7 A5.6,5.6 0 0 0 241.5,736.6 L243.2,734.7 A3.9199999999999995,3.9199999999999995 0 0 1 245.2,728.2 Z" fill="#060a0b"/>
<ellipse cx="243.5" cy="747.9" rx="5.6" ry="5.7" fill="#3c5053" stroke="#0b1517" stroke-width="0.9"/>
<path d="M244.6,742.3 A5.6,5.6 0 0 0 241.5,753.2 L243.2,751.3 A3.9199999999999995,3.9199999999999995 0 0 1 245.2,744.8 Z" fill="#060a0b"/>
<path d="M827.8,95.5 L827.8,103.5 A9.6,4.8 0 0 0 847.0,103.5 L847.0,95.5 Z" fill="#a9b5b5" stroke="#0b1517" stroke-width="1"/>
<rect x="829.4" y="98.5" width="3" height="6" fill="#5f7070"/>
<rect x="842.4" y="98.5" width="3" height="6" fill="#5f7070"/>
<path d="M833.4,107.3 L840.4,107.3" stroke="#000" stroke-width="1.6"/>
<ellipse cx="837.4" cy="94.0" rx="9.6" ry="5.6" fill="#f0f6f6" stroke="#0b1517" stroke-width="1"/>
<ellipse cx="837.1999999999999" cy="93.5" rx="6.6" ry="5" fill="#17282c"/>
<rect x="832.4" y="92.0" width="9.5" height="2.2" fill="#dfe6e6"/>
<rect x="831.4" y="96.0" width="11.5" height="2" fill="#000"/>
<polygon points="931.2,87.9 898.0,101.2 898.0,107.8 931.2,94.5" fill="#34484c" stroke="#0b1517" stroke-width="0.9" stroke-linejoin="round"/>
<polygon points="898.0,101.2 886.4,91.5 886.4,98.1 898.0,107.8" fill="#31444a" stroke="#0b1517" stroke-width="0.9" stroke-linejoin="round"/>
<polygon points="886.4,91.5 919.7,78.2 931.2,87.9 898.0,101.2" fill="#3a4f4f" stroke="#0b1517" stroke-width="0.9" stroke-linejoin="round"/>
<line x1="889.5" y1="92.0" x2="919.4" y2="80.1" stroke="#10191a" stroke-width="0.9"/>
<line x1="890.9" y1="93.2" x2="920.9" y2="81.3" stroke="#10191a" stroke-width="0.9"/>
<line x1="892.4" y1="94.4" x2="922.3" y2="82.5" stroke="#10191a" stroke-width="0.9"/>
<line x1="893.8" y1="95.7" x2="923.8" y2="83.7" stroke="#10191a" stroke-width="0.9"/>
<line x1="895.3" y1="96.9" x2="925.2" y2="84.9" stroke="#10191a" stroke-width="0.9"/>
<line x1="896.7" y1="98.1" x2="926.7" y2="86.1" stroke="#10191a" stroke-width="0.9"/>
<line x1="898.2" y1="99.3" x2="928.1" y2="87.4" stroke="#10191a" stroke-width="0.9"/>
<polygon points="1072.6,63.4 972.8,103.2 972.8,109.8 1072.6,70.0" fill="#34484c" stroke="#0b1517" stroke-width="0.9" stroke-linejoin="round"/>
<polygon points="972.8,103.2 961.2,93.5 961.2,100.1 972.8,109.8" fill="#31444a" stroke="#0b1517" stroke-width="0.9" stroke-linejoin="round"/>
<polygon points="961.2,93.5 1061.0,53.6 1072.6,63.4 972.8,103.2" fill="#3a4f4f" stroke="#0b1517" stroke-width="0.9" stroke-linejoin="round"/>
<circle r="1" transform="matrix(4.991,-1.991,3.477,2.915,1058.48,61.82)" fill="#050b0c" stroke="#0b1517" stroke-width="0.81" vector-effect="non-scaling-stroke"/>
<polygon points="1052.4,57.7 1064.6,57.7 1064.6,61.9 1052.4,61.8" fill="#050b0c"/>
<line x1="1064.6" y1="57.7" x2="1064.6" y2="61.9" stroke="#0b1517" stroke-width="0.81"/>
<line x1="1052.4" y1="57.7" x2="1052.4" y2="61.8" stroke="#0b1517" stroke-width="0.81"/>
<circle r="1" transform="matrix(4.991,-1.991,3.477,2.915,1058.48,57.71)" fill="#3f5354" stroke="#0b1517" stroke-width="0.81" vector-effect="non-scaling-stroke"/>
<circle r="1" transform="matrix(4.991,-1.991,3.477,2.915,1041.85,68.46)" fill="#050b0c" stroke="#0b1517" stroke-width="0.81" vector-effect="non-scaling-stroke"/>
<polygon points="1035.8,64.3 1047.9,64.4 1047.9,68.5 1035.8,68.4" fill="#050b0c"/>
<line x1="1047.9" y1="64.4" x2="1047.9" y2="68.5" stroke="#0b1517" stroke-width="0.81"/>
<line x1="1035.8" y1="64.3" x2="1035.8" y2="68.4" stroke="#0b1517" stroke-width="0.81"/>
<circle r="1" transform="matrix(4.991,-1.991,3.477,2.915,1041.85,64.35)" fill="#3f5354" stroke="#0b1517" stroke-width="0.81" vector-effect="non-scaling-stroke"/>
<circle r="1" transform="matrix(4.991,-1.991,3.477,2.915,1025.21,75.09)" fill="#050b0c" stroke="#0b1517" stroke-width="0.81" vector-effect="non-scaling-stroke"/>
<polygon points="1019.1,71.0 1031.3,71.0 1031.3,75.1 1019.1,75.1" fill="#050b0c"/>
<line x1="1031.3" y1="71.0" x2="1031.3" y2="75.1" stroke="#0b1517" stroke-width="0.81"/>
<line x1="1019.1" y1="71.0" x2="1019.1" y2="75.1" stroke="#0b1517" stroke-width="0.81"/>
<circle r="1" transform="matrix(4.991,-1.991,3.477,2.915,1025.21,70.99)" fill="#3f5354" stroke="#0b1517" stroke-width="0.81" vector-effect="non-scaling-stroke"/>
<circle r="1" transform="matrix(4.991,-1.991,3.477,2.915,1008.57,81.73)" fill="#050b0c" stroke="#0b1517" stroke-width="0.81" vector-effect="non-scaling-stroke"/>
<polygon points="1002.5,77.6 1014.7,77.7 1014.7,81.8 1002.5,81.7" fill="#050b0c"/>
<line x1="1014.7" y1="77.7" x2="1014.7" y2="81.8" stroke="#0b1517" stroke-width="0.81"/>
<line x1="1002.5" y1="77.6" x2="1002.5" y2="81.7" stroke="#0b1517" stroke-width="0.81"/>
<circle r="1" transform="matrix(4.991,-1.991,3.477,2.915,1008.57,77.62)" fill="#3f5354" stroke="#0b1517" stroke-width="0.81" vector-effect="non-scaling-stroke"/>
<circle r="1" transform="matrix(4.991,-1.991,3.477,2.915,991.94,88.36)" fill="#050b0c" stroke="#0b1517" stroke-width="0.81" vector-effect="non-scaling-stroke"/>
<polygon points="985.9,84.2 998.0,84.3 998.0,88.4 985.9,88.3" fill="#050b0c"/>
<line x1="998.0" y1="84.3" x2="998.0" y2="88.4" stroke="#0b1517" stroke-width="0.81"/>
<line x1="985.9" y1="84.2" x2="985.9" y2="88.3" stroke="#0b1517" stroke-width="0.81"/>
<circle r="1" transform="matrix(4.991,-1.991,3.477,2.915,991.94,84.26)" fill="#3f5354" stroke="#0b1517" stroke-width="0.81" vector-effect="non-scaling-stroke"/>
<circle r="1" transform="matrix(4.991,-1.991,3.477,2.915,975.30,95.00)" fill="#050b0c" stroke="#0b1517" stroke-width="0.81" vector-effect="non-scaling-stroke"/>
<polygon points="969.2,90.9 981.4,90.9 981.4,95.0 969.2,95.0" fill="#050b0c"/>
<line x1="981.4" y1="90.9" x2="981.4" y2="95.0" stroke="#0b1517" stroke-width="0.81"/>
<line x1="969.2" y1="90.9" x2="969.2" y2="95.0" stroke="#0b1517" stroke-width="0.81"/>
<circle r="1" transform="matrix(4.991,-1.991,3.477,2.915,975.30,90.89)" fill="#3f5354" stroke="#0b1517" stroke-width="0.81" vector-effect="non-scaling-stroke"/>
<polygon points="805.6,683.0 810.7,680.9 810.7,754.7 805.6,751.1" fill="#2f4245" stroke="#0b1517" stroke-width="0.9" stroke-linejoin="round"/>
<polygon points="810.7,680.9 817.3,678.1 822.2,676.8 827.6,680.9 843.7,740.9 810.5,754.7" fill="#3c5053" stroke="#0b1517" stroke-width="0.9" stroke-linejoin="round"/>
<ellipse cx="819.2" cy="693.2" rx="5.6" ry="5.7" fill="#3c5053" stroke="#0b1517" stroke-width="0.9"/>
<path d="M820.3,687.6 A5.6,5.6 0 0 0 817.2,698.5 L818.9,696.6 A3.9199999999999995,3.9199999999999995 0 0 1 820.9,690.1 Z" fill="#060a0b"/>
<ellipse cx="819.2" cy="709.8" rx="5.6" ry="5.7" fill="#3c5053" stroke="#0b1517" stroke-width="0.9"/>
<path d="M820.3,704.2 A5.6,5.6 0 0 0 817.2,715.1 L818.9,713.2 A3.9199999999999995,3.9199999999999995 0 0 1 820.9,706.7 Z" fill="#060a0b"/>
<ellipse cx="819.2" cy="726.4" rx="5.6" ry="5.7" fill="#3c5053" stroke="#0b1517" stroke-width="0.9"/>
<path d="M820.3,720.8 A5.6,5.6 0 0 0 817.2,731.7 L818.9,729.8 A3.9199999999999995,3.9199999999999995 0 0 1 820.9,723.3 Z" fill="#060a0b"/>
<ellipse cx="819.2" cy="743.0" rx="5.6" ry="5.7" fill="#3c5053" stroke="#0b1517" stroke-width="0.9"/>
<path d="M820.3,737.4 A5.6,5.6 0 0 0 817.2,748.3 L818.9,746.4 A3.9199999999999995,3.9199999999999995 0 0 1 820.9,739.9 Z" fill="#060a0b"/>
<polygon points="938.2,722.1 871.7,748.7 871.7,755.3 938.2,728.8" fill="#a2b0b0" stroke="#0b1517" stroke-width="0.9" stroke-linejoin="round"/>
<polygon points="871.7,748.7 860.1,739.0 860.1,745.6 871.7,755.3" fill="#9dabab" stroke="#0b1517" stroke-width="0.9" stroke-linejoin="round"/>
<polygon points="860.1,739.0 926.6,712.4 938.2,722.1 871.7,748.7" fill="#8fa3a2" stroke="#0b1517" stroke-width="0.9" stroke-linejoin="round"/>
<circle r="1" transform="matrix(4.991,-1.991,3.477,2.915,924.11,720.59)" fill="#0a1213" stroke="#0b1517" stroke-width="0.81" vector-effect="non-scaling-stroke"/>
<polygon points="918.0,716.5 930.2,716.5 930.2,720.6 918.0,720.6" fill="#0a1213"/>
<line x1="930.2" y1="716.5" x2="930.2" y2="720.6" stroke="#0b1517" stroke-width="0.81"/>
<line x1="918.0" y1="716.5" x2="918.0" y2="720.6" stroke="#0b1517" stroke-width="0.81"/>
<circle r="1" transform="matrix(4.991,-1.991,3.477,2.915,924.11,716.49)" fill="#a3b0b0" stroke="#0b1517" stroke-width="0.81" vector-effect="non-scaling-stroke"/>
<circle r="1" transform="matrix(4.991,-1.991,3.477,2.915,907.47,727.23)" fill="#0a1213" stroke="#0b1517" stroke-width="0.81" vector-effect="non-scaling-stroke"/>
<polygon points="901.4,723.1 913.6,723.2 913.6,727.3 901.4,727.2" fill="#0a1213"/>
<line x1="913.6" y1="723.2" x2="913.6" y2="727.3" stroke="#0b1517" stroke-width="0.81"/>
<line x1="901.4" y1="723.1" x2="901.4" y2="727.2" stroke="#0b1517" stroke-width="0.81"/>
<circle r="1" transform="matrix(4.991,-1.991,3.477,2.915,907.47,723.12)" fill="#a3b0b0" stroke="#0b1517" stroke-width="0.81" vector-effect="non-scaling-stroke"/>
<circle r="1" transform="matrix(4.991,-1.991,3.477,2.915,890.84,733.86)" fill="#0a1213" stroke="#0b1517" stroke-width="0.81" vector-effect="non-scaling-stroke"/>
<polygon points="884.8,729.7 896.9,729.8 896.9,733.9 884.8,733.8" fill="#0a1213"/>
<line x1="896.9" y1="729.8" x2="896.9" y2="733.9" stroke="#0b1517" stroke-width="0.81"/>
<line x1="884.8" y1="729.7" x2="884.8" y2="733.8" stroke="#0b1517" stroke-width="0.81"/>
<circle r="1" transform="matrix(4.991,-1.991,3.477,2.915,890.84,729.76)" fill="#a3b0b0" stroke="#0b1517" stroke-width="0.81" vector-effect="non-scaling-stroke"/>
<circle r="1" transform="matrix(4.991,-1.991,3.477,2.915,874.20,740.50)" fill="#0a1213" stroke="#0b1517" stroke-width="0.81" vector-effect="non-scaling-stroke"/>
<polygon points="868.1,736.4 880.3,736.4 880.3,740.5 868.1,740.5" fill="#0a1213"/>
<line x1="880.3" y1="736.4" x2="880.3" y2="740.5" stroke="#0b1517" stroke-width="0.81"/>
<line x1="868.1" y1="736.4" x2="868.1" y2="740.5" stroke="#0b1517" stroke-width="0.81"/>
<circle r="1" transform="matrix(4.991,-1.991,3.477,2.915,874.20,736.39)" fill="#a3b0b0" stroke="#0b1517" stroke-width="0.81" vector-effect="non-scaling-stroke"/>
<polygon points="1096.5,709.2 996.6,749.0 996.6,755.6 1096.5,715.8" fill="#a2b0b0" stroke="#0b1517" stroke-width="0.9" stroke-linejoin="round"/>
<polygon points="996.6,749.0 950.3,710.2 950.3,716.8 996.6,755.6" fill="#9dabab" stroke="#0b1517" stroke-width="0.9" stroke-linejoin="round"/>
<polygon points="950.3,710.2 1050.1,670.3 1096.5,709.2 996.6,749.0" fill="#8fa3a2" stroke="#0b1517" stroke-width="0.9" stroke-linejoin="round"/>
<circle r="1" transform="matrix(4.991,-1.991,3.477,2.915,1047.59,678.52)" fill="#0a1213" stroke="#0b1517" stroke-width="0.81" vector-effect="non-scaling-stroke"/>
<polygon points="1041.5,674.4 1053.7,674.4 1053.7,678.6 1041.5,678.5" fill="#0a1213"/>
<line x1="1053.7" y1="674.4" x2="1053.7" y2="678.6" stroke="#0b1517" stroke-width="0.81"/>
<line x1="1041.5" y1="674.4" x2="1041.5" y2="678.5" stroke="#0b1517" stroke-width="0.81"/>
<circle r="1" transform="matrix(4.991,-1.991,3.477,2.915,1047.59,674.41)" fill="#a3b0b0" stroke="#0b1517" stroke-width="0.81" vector-effect="non-scaling-stroke"/>
<circle r="1" transform="matrix(4.991,-1.991,3.477,2.915,1030.95,685.16)" fill="#0a1213" stroke="#0b1517" stroke-width="0.81" vector-effect="non-scaling-stroke"/>
<polygon points="1024.9,681.0 1037.0,681.1 1037.0,685.2 1024.9,685.1" fill="#0a1213"/>
<line x1="1037.0" y1="681.1" x2="1037.0" y2="685.2" stroke="#0b1517" stroke-width="0.81"/>
<line x1="1024.9" y1="681.0" x2="1024.9" y2="685.1" stroke="#0b1517" stroke-width="0.81"/>
<circle r="1" transform="matrix(4.991,-1.991,3.477,2.915,1030.95,681.05)" fill="#a3b0b0" stroke="#0b1517" stroke-width="0.81" vector-effect="non-scaling-stroke"/>
<circle r="1" transform="matrix(4.991,-1.991,3.477,2.915,1059.17,688.24)" fill="#0a1213" stroke="#0b1517" stroke-width="0.81" vector-effect="non-scaling-stroke"/>
<polygon points="1053.1,684.1 1065.3,684.2 1065.3,688.3 1053.1,688.2" fill="#0a1213"/>
<line x1="1065.3" y1="684.2" x2="1065.3" y2="688.3" stroke="#0b1517" stroke-width="0.81"/>
<line x1="1053.1" y1="684.1" x2="1053.1" y2="688.2" stroke="#0b1517" stroke-width="0.81"/>
<circle r="1" transform="matrix(4.991,-1.991,3.477,2.915,1059.17,684.13)" fill="#a3b0b0" stroke="#0b1517" stroke-width="0.81" vector-effect="non-scaling-stroke"/>
<circle r="1" transform="matrix(4.991,-1.991,3.477,2.915,1014.31,691.79)" fill="#0a1213" stroke="#0b1517" stroke-width="0.81" vector-effect="non-scaling-stroke"/>
<polygon points="1008.2,687.7 1020.4,687.7 1020.4,691.8 1008.2,691.8" fill="#0a1213"/>
<line x1="1020.4" y1="687.7" x2="1020.4" y2="691.8" stroke="#0b1517" stroke-width="0.81"/>
<line x1="1008.2" y1="687.7" x2="1008.2" y2="691.8" stroke="#0b1517" stroke-width="0.81"/>
<circle r="1" transform="matrix(4.991,-1.991,3.477,2.915,1014.31,687.69)" fill="#a3b0b0" stroke="#0b1517" stroke-width="0.81" vector-effect="non-scaling-stroke"/>
<circle r="1" transform="matrix(4.991,-1.991,3.477,2.915,1070.76,697.95)" fill="#0a1213" stroke="#0b1517" stroke-width="0.81" vector-effect="non-scaling-stroke"/>
<polygon points="1064.7,693.8 1076.8,693.9 1076.8,698.0 1064.7,697.9" fill="#0a1213"/>
<line x1="1076.8" y1="693.9" x2="1076.8" y2="698.0" stroke="#0b1517" stroke-width="0.81"/>
<line x1="1064.7" y1="693.8" x2="1064.7" y2="697.9" stroke="#0b1517" stroke-width="0.81"/>
<circle r="1" transform="matrix(4.991,-1.991,3.477,2.915,1070.76,693.85)" fill="#a3b0b0" stroke="#0b1517" stroke-width="0.81" vector-effect="non-scaling-stroke"/>
<circle r="1" transform="matrix(4.991,-1.991,3.477,2.915,997.67,698.43)" fill="#0a1213" stroke="#0b1517" stroke-width="0.81" vector-effect="non-scaling-stroke"/>
<polygon points="991.6,694.3 1003.8,694.4 1003.8,698.5 991.6,698.4" fill="#0a1213"/>
<line x1="1003.8" y1="694.4" x2="1003.8" y2="698.5" stroke="#0b1517" stroke-width="0.81"/>
<line x1="991.6" y1="694.3" x2="991.6" y2="698.4" stroke="#0b1517" stroke-width="0.81"/>
<circle r="1" transform="matrix(4.991,-1.991,3.477,2.915,997.67,694.32)" fill="#a3b0b0" stroke="#0b1517" stroke-width="0.81" vector-effect="non-scaling-stroke"/>
<circle r="1" transform="matrix(4.991,-1.991,3.477,2.915,981.04,705.06)" fill="#0a1213" stroke="#0b1517" stroke-width="0.81" vector-effect="non-scaling-stroke"/>
<polygon points="975.0,700.9 987.1,701.0 987.1,705.1 975.0,705.0" fill="#0a1213"/>
<line x1="987.1" y1="701.0" x2="987.1" y2="705.1" stroke="#0b1517" stroke-width="0.81"/>
<line x1="975.0" y1="700.9" x2="975.0" y2="705.0" stroke="#0b1517" stroke-width="0.81"/>
<circle r="1" transform="matrix(4.991,-1.991,3.477,2.915,981.04,700.96)" fill="#a3b0b0" stroke="#0b1517" stroke-width="0.81" vector-effect="non-scaling-stroke"/>
<circle r="1" transform="matrix(4.991,-1.991,3.477,2.915,1082.35,707.67)" fill="#0a1213" stroke="#0b1517" stroke-width="0.81" vector-effect="non-scaling-stroke"/>
<polygon points="1076.3,703.5 1088.4,703.6 1088.4,707.7 1076.3,707.6" fill="#0a1213"/>
<line x1="1088.4" y1="703.6" x2="1088.4" y2="707.7" stroke="#0b1517" stroke-width="0.81"/>
<line x1="1076.3" y1="703.5" x2="1076.3" y2="707.6" stroke="#0b1517" stroke-width="0.81"/>
<circle r="1" transform="matrix(4.991,-1.991,3.477,2.915,1082.35,703.56)" fill="#a3b0b0" stroke="#0b1517" stroke-width="0.81" vector-effect="non-scaling-stroke"/>
<circle r="1" transform="matrix(4.991,-1.991,3.477,2.915,964.40,711.70)" fill="#0a1213" stroke="#0b1517" stroke-width="0.81" vector-effect="non-scaling-stroke"/>
<polygon points="958.3,707.6 970.5,707.6 970.5,711.7 958.3,711.7" fill="#0a1213"/>
<line x1="970.5" y1="707.6" x2="970.5" y2="711.7" stroke="#0b1517" stroke-width="0.81"/>
<line x1="958.3" y1="707.6" x2="958.3" y2="711.7" stroke="#0b1517" stroke-width="0.81"/>
<circle r="1" transform="matrix(4.991,-1.991,3.477,2.915,964.40,707.59)" fill="#a3b0b0" stroke="#0b1517" stroke-width="0.81" vector-effect="non-scaling-stroke"/>
<circle r="1" transform="matrix(4.991,-1.991,3.477,2.915,975.99,721.42)" fill="#0a1213" stroke="#0b1517" stroke-width="0.81" vector-effect="non-scaling-stroke"/>
<polygon points="969.9,717.3 982.1,717.3 982.1,721.4 969.9,721.4" fill="#0a1213"/>
<line x1="982.1" y1="717.3" x2="982.1" y2="721.4" stroke="#0b1517" stroke-width="0.81"/>
<line x1="969.9" y1="717.3" x2="969.9" y2="721.4" stroke="#0b1517" stroke-width="0.81"/>
<circle r="1" transform="matrix(4.991,-1.991,3.477,2.915,975.99,717.31)" fill="#a3b0b0" stroke="#0b1517" stroke-width="0.81" vector-effect="non-scaling-stroke"/>
<circle r="1" transform="matrix(4.991,-1.991,3.477,2.915,987.58,731.13)" fill="#0a1213" stroke="#0b1517" stroke-width="0.81" vector-effect="non-scaling-stroke"/>
<polygon points="981.5,727.0 993.7,727.1 993.7,731.2 981.5,731.1" fill="#0a1213"/>
<line x1="993.7" y1="727.1" x2="993.7" y2="731.2" stroke="#0b1517" stroke-width="0.81"/>
<line x1="981.5" y1="727.0" x2="981.5" y2="731.1" stroke="#0b1517" stroke-width="0.81"/>
<circle r="1" transform="matrix(4.991,-1.991,3.477,2.915,987.58,727.02)" fill="#a3b0b0" stroke="#0b1517" stroke-width="0.81" vector-effect="non-scaling-stroke"/>
<circle r="1" transform="matrix(4.991,-1.991,3.477,2.915,999.17,740.85)" fill="#0a1213" stroke="#0b1517" stroke-width="0.81" vector-effect="non-scaling-stroke"/>
<polygon points="993.1,736.7 1005.2,736.8 1005.2,740.9 993.1,740.8" fill="#0a1213"/>
<line x1="1005.2" y1="736.8" x2="1005.2" y2="740.9" stroke="#0b1517" stroke-width="0.81"/>
<line x1="993.1" y1="736.7" x2="993.1" y2="740.8" stroke="#0b1517" stroke-width="0.81"/>
<circle r="1" transform="matrix(4.991,-1.991,3.477,2.915,999.17,736.74)" fill="#a3b0b0" stroke="#0b1517" stroke-width="0.81" vector-effect="non-scaling-stroke"/>
<path d="M81.30,128.30 L81.30,138.90 L78.20,138.90 L78.20,132.20 L75.30,132.20 L75.30,130.50 Q78.50,130.30 78.70,128.30 Z" fill="#000"/>
<text x="81.9" y="139.1" font-size="14.5" textLength="7.6" lengthAdjust="spacingAndGlyphs" stroke="#000" stroke-width="0.35">x</text>
<path d="M155.30,128.30 L155.30,138.90 L152.20,138.90 L152.20,132.20 L149.30,132.20 L149.30,130.50 Q152.50,130.30 152.70,128.30 Z" fill="#000"/>
<text x="155.9" y="139.1" font-size="14.5" textLength="7.6" lengthAdjust="spacingAndGlyphs" stroke="#000" stroke-width="0.35">x</text>
<path d="M103.70,254.00 L103.70,264.60 L100.60,264.60 L100.60,257.90 L97.70,257.90 L97.70,256.20 Q100.90,256.00 101.10,254.00 Z" fill="#000"/>
<text x="104.3" y="264.8" font-size="14.5" textLength="7.6" lengthAdjust="spacingAndGlyphs" stroke="#000" stroke-width="0.35">x</text>
<path d="M243.40,254.00 L243.40,264.60 L240.30,264.60 L240.30,257.90 L237.40,257.90 L237.40,256.20 Q240.60,256.00 240.80,254.00 Z" fill="#000"/>
<text x="244.0" y="264.8" font-size="14.5" textLength="7.6" lengthAdjust="spacingAndGlyphs" stroke="#000" stroke-width="0.35">x</text>
<path d="M100.80,764.20 L100.80,774.80 L97.70,774.80 L97.70,768.10 L94.80,768.10 L94.80,766.40 Q98.00,766.20 98.20,764.20 Z" fill="#000"/>
<text x="101.4" y="775.0" font-size="14.5" textLength="7.6" lengthAdjust="spacingAndGlyphs" stroke="#000" stroke-width="0.35">x</text>
<text x="229.7" y="775.1" font-size="15" textLength="19" lengthAdjust="spacingAndGlyphs">2x</text>
<text x="826.6" y="123.1" font-size="15" textLength="19" lengthAdjust="spacingAndGlyphs">2x</text>
<text x="885.8" y="123.1" font-size="15" textLength="19" lengthAdjust="spacingAndGlyphs">2x</text>
<path d="M966.50,112.20 L966.50,122.80 L963.40,122.80 L963.40,116.10 L960.50,116.10 L960.50,114.40 Q963.70,114.20 963.90,112.20 Z" fill="#000"/>
<text x="967.1" y="123.0" font-size="14.5" textLength="7.6" lengthAdjust="spacingAndGlyphs" stroke="#000" stroke-width="0.35">x</text>
<path d="M812.40,759.20 L812.40,769.80 L809.30,769.80 L809.30,763.10 L806.40,763.10 L806.40,761.40 Q809.60,761.20 809.80,759.20 Z" fill="#000"/>
<text x="813.0" y="770.0" font-size="14.5" textLength="7.6" lengthAdjust="spacingAndGlyphs" stroke="#000" stroke-width="0.35">x</text>
<path d="M866.70,759.20 L866.70,769.80 L863.60,769.80 L863.60,763.10 L860.70,763.10 L860.70,761.40 Q863.90,761.20 864.10,759.20 Z" fill="#000"/>
<text x="867.3" y="770.0" font-size="14.5" textLength="7.6" lengthAdjust="spacingAndGlyphs" stroke="#000" stroke-width="0.35">x</text>
<path d="M985.60,759.20 L985.60,769.80 L982.50,769.80 L982.50,763.10 L979.60,763.10 L979.60,761.40 Q982.80,761.20 983.00,759.20 Z" fill="#000"/>
<text x="986.2" y="770.0" font-size="14.5" textLength="7.6" lengthAdjust="spacingAndGlyphs" stroke="#000" stroke-width="0.35">x</text>
</svg></body></html>
